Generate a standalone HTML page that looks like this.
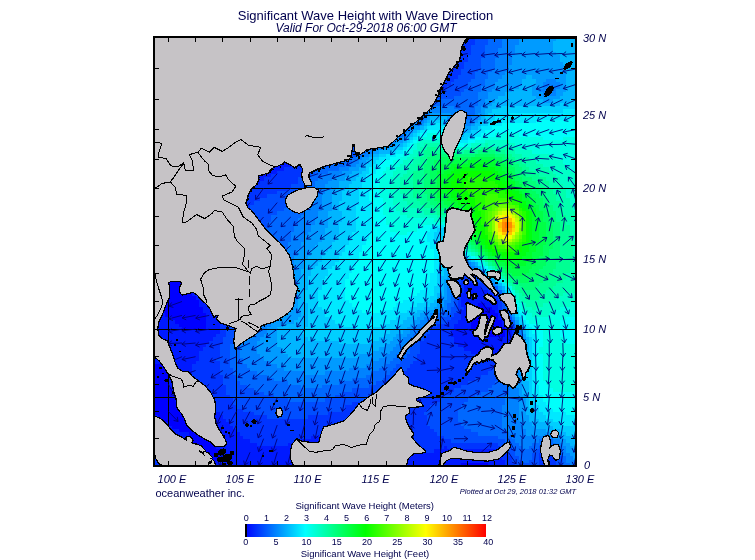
<!DOCTYPE html><html><head><meta charset="utf-8"><title>Significant Wave Height with Wave Direction</title><style>html,body{margin:0;padding:0;background:#fff}svg{display:block}text{font-family:"Liberation Sans",sans-serif;fill:#00004c}</style></head><body>
<svg width="755" height="560" viewBox="0 0 755 560">
<defs><clipPath id="mc"><rect x="155" y="38" width="420" height="427"/></clipPath>
<linearGradient id="cb" x1="0" x2="1" y1="0" y2="0"><stop offset="0" stop-color="#0000ff"/><stop offset="0.25" stop-color="#00ffff"/><stop offset="0.5" stop-color="#00ff00"/><stop offset="0.75" stop-color="#ffff00"/><stop offset="1" stop-color="#ff0000"/></linearGradient></defs>
<rect width="755" height="560" fill="#fff"/>
<g clip-path="url(#mc)">
<g shape-rendering="crispEdges">
<path fill="#0000ff" d="M155.0 38.0H430.4V41.4H155.0ZM155.0 41.4H430.4V44.8H155.0ZM155.0 44.8H430.4V48.2H155.0ZM155.0 48.2H427.0V51.6H155.0ZM155.0 51.6H427.0V55.0H155.0ZM155.0 55.0H423.6V58.4H155.0ZM155.0 58.4H423.6V61.8H155.0ZM155.0 61.8H420.2V65.2H155.0ZM155.0 65.2H420.2V68.6H155.0ZM155.0 68.6H416.8V72.0H155.0ZM155.0 72.0H413.4V75.4H155.0ZM155.0 75.4H413.4V78.8H155.0ZM155.0 78.8H410.0V82.2H155.0ZM155.0 82.2H406.6V85.6H155.0ZM155.0 85.6H403.2V89.0H155.0ZM155.0 89.0H399.8V92.4H155.0ZM155.0 92.4H399.8V95.8H155.0ZM155.0 95.8H396.4V99.2H155.0ZM155.0 99.2H393.0V102.6H155.0ZM155.0 102.6H389.6V106.0H155.0ZM155.0 106.0H386.2V109.4H155.0ZM155.0 109.4H382.8V112.8H155.0ZM155.0 112.8H376.0V116.2H155.0ZM155.0 116.2H369.2V119.6H155.0ZM155.0 119.6H362.4V123.0H155.0ZM155.0 123.0H355.6V126.4H155.0ZM155.0 126.4H345.4V129.8H155.0ZM155.0 129.8H335.2V133.2H155.0ZM155.0 133.2H321.6V136.6H155.0ZM155.0 136.6H308.0V140.0H155.0ZM155.0 140.0H297.8V143.4H155.0ZM155.0 143.4H287.6V146.8H155.0ZM155.0 146.8H280.8V150.2H155.0ZM155.0 150.2H270.6V153.6H155.0ZM155.0 153.6H263.8V157.0H155.0ZM155.0 157.0H253.6V160.4H155.0ZM155.0 160.4H246.8V163.8H155.0ZM155.0 163.8H240.0V167.2H155.0ZM155.0 167.2H233.2V170.6H155.0ZM155.0 170.6H226.4V174.0H155.0ZM155.0 174.0H219.6V177.4H155.0ZM155.0 177.4H216.2V180.8H155.0ZM155.0 180.8H212.8V184.2H155.0ZM155.0 184.2H209.4V187.6H155.0ZM155.0 187.6H206.0V191.0H155.0ZM155.0 191.0H202.6V194.4H155.0ZM155.0 194.4H199.2V197.8H155.0ZM155.0 197.8H195.8V201.2H155.0ZM155.0 201.2H195.8V204.6H155.0ZM155.0 204.6H192.4V208.0H155.0ZM155.0 208.0H189.0V211.4H155.0ZM155.0 211.4H189.0V214.8H155.0ZM155.0 214.8H185.6V218.2H155.0ZM155.0 218.2H185.6V221.6H155.0ZM155.0 221.6H185.6V225.0H155.0ZM155.0 225.0H182.2V228.4H155.0ZM155.0 228.4H182.2V231.8H155.0ZM155.0 231.8H182.2V235.2H155.0ZM155.0 235.2H182.2V238.6H155.0ZM155.0 238.6H178.8V242.0H155.0ZM155.0 242.0H178.8V245.4H155.0ZM155.0 245.4H178.8V248.8H155.0ZM155.0 248.8H178.8V252.2H155.0ZM155.0 252.2H178.8V255.6H155.0ZM155.0 255.6H178.8V259.0H155.0ZM155.0 259.0H178.8V262.4H155.0ZM155.0 262.4H182.2V265.8H155.0ZM155.0 265.8H182.2V269.2H155.0ZM155.0 269.2H182.2V272.6H155.0ZM155.0 272.6H182.2V276.0H155.0ZM155.0 276.0H185.6V279.4H155.0ZM155.0 279.4H185.6V282.8H155.0ZM155.0 282.8H189.0V286.2H155.0ZM155.0 286.2H189.0V289.6H155.0ZM155.0 289.6H192.4V293.0H155.0ZM155.0 293.0H192.4V296.4H155.0ZM155.0 296.4H195.8V299.8H155.0ZM155.0 299.8H199.2V303.2H155.0ZM155.0 303.2H199.2V306.6H155.0ZM478.0 303.2H484.8V306.6H478.0ZM155.0 306.6H202.6V310.0H155.0ZM474.6 306.6H491.6V310.0H474.6ZM161.8 310.0H202.6V313.4H161.8ZM474.6 310.0H495.0V313.4H474.6ZM165.2 313.4H206.0V316.8H165.2ZM474.6 313.4H498.4V316.8H474.6ZM172.0 316.8H206.0V320.2H172.0ZM471.2 316.8H498.4V320.2H471.2ZM175.4 320.2H206.0V323.6H175.4ZM471.2 320.2H501.8V323.6H471.2ZM178.8 323.6H206.0V327.0H178.8ZM471.2 323.6H501.8V327.0H471.2ZM182.2 327.0H206.0V330.4H182.2ZM471.2 327.0H505.2V330.4H471.2ZM481.4 330.4H505.2V333.8H481.4ZM484.8 333.8H505.2V337.2H484.8ZM155.0 364.4H168.6V367.8H155.0ZM155.0 367.8H168.6V371.2H155.0ZM155.0 371.2H168.6V374.6H155.0ZM155.0 374.6H168.6V378.0H155.0ZM155.0 378.0H168.6V381.4H155.0ZM155.0 381.4H168.6V384.8H155.0ZM155.0 384.8H168.6V388.2H155.0ZM155.0 388.2H172.0V391.6H155.0ZM155.0 391.6H172.0V395.0H155.0ZM155.0 395.0H172.0V398.4H155.0ZM155.0 398.4H175.4V401.8H155.0ZM155.0 401.8H178.8V405.2H155.0ZM155.0 405.2H178.8V408.6H155.0ZM155.0 408.6H182.2V412.0H155.0ZM155.0 412.0H182.2V415.4H155.0ZM158.4 415.4H185.6V418.8H158.4ZM161.8 418.8H189.0V422.2H161.8ZM168.6 422.2H189.0V425.6H168.6ZM172.0 425.6H192.4V429.0H172.0ZM178.8 429.0H192.4V432.4H178.8ZM189.0 432.4H202.6V435.8H189.0ZM192.4 435.8H209.4V439.2H192.4ZM192.4 439.2H212.8V442.6H192.4ZM195.8 442.6H216.2V446.0H195.8ZM195.8 446.0H216.2V449.4H195.8ZM199.2 449.4H219.6V452.8H199.2ZM199.2 452.8H219.6V456.2H199.2ZM202.6 456.2H219.6V459.6H202.6ZM206.0 459.6H216.2V463.0H206.0ZM209.4 463.0H216.2V465.0H209.4ZM461.0 463.0H488.2V465.0H461.0Z"/>
<path fill="#001aff" d="M430.4 38.0H454.2V41.4H430.4ZM430.4 41.4H454.2V44.8H430.4ZM430.4 44.8H454.2V48.2H430.4ZM427.0 48.2H450.8V51.6H427.0ZM427.0 51.6H450.8V55.0H427.0ZM423.6 55.0H450.8V58.4H423.6ZM423.6 58.4H447.4V61.8H423.6ZM420.2 61.8H447.4V65.2H420.2ZM420.2 65.2H444.0V68.6H420.2ZM416.8 68.6H440.6V72.0H416.8ZM413.4 72.0H440.6V75.4H413.4ZM413.4 75.4H437.2V78.8H413.4ZM410.0 78.8H433.8V82.2H410.0ZM406.6 82.2H427.0V85.6H406.6ZM403.2 85.6H423.6V89.0H403.2ZM399.8 89.0H420.2V92.4H399.8ZM399.8 92.4H416.8V95.8H399.8ZM396.4 95.8H413.4V99.2H396.4ZM393.0 99.2H410.0V102.6H393.0ZM389.6 102.6H406.6V106.0H389.6ZM386.2 106.0H403.2V109.4H386.2ZM382.8 109.4H399.8V112.8H382.8ZM376.0 112.8H396.4V116.2H376.0ZM369.2 116.2H393.0V119.6H369.2ZM362.4 119.6H389.6V123.0H362.4ZM355.6 123.0H382.8V126.4H355.6ZM345.4 126.4H376.0V129.8H345.4ZM335.2 129.8H369.2V133.2H335.2ZM321.6 133.2H362.4V136.6H321.6ZM308.0 136.6H355.6V140.0H308.0ZM297.8 140.0H345.4V143.4H297.8ZM287.6 143.4H338.6V146.8H287.6ZM280.8 146.8H325.0V150.2H280.8ZM270.6 150.2H314.8V153.6H270.6ZM263.8 153.6H304.6V157.0H263.8ZM253.6 157.0H301.2V160.4H253.6ZM246.8 160.4H297.8V163.8H246.8ZM240.0 163.8H291.0V167.2H240.0ZM233.2 167.2H284.2V170.6H233.2ZM226.4 170.6H277.4V174.0H226.4ZM219.6 174.0H270.6V177.4H219.6ZM216.2 177.4H263.8V180.8H216.2ZM212.8 180.8H260.4V184.2H212.8ZM209.4 184.2H250.2V187.6H209.4ZM206.0 187.6H243.4V191.0H206.0ZM202.6 191.0H240.0V194.4H202.6ZM199.2 194.4H233.2V197.8H199.2ZM195.8 197.8H229.8V201.2H195.8ZM195.8 201.2H229.8V204.6H195.8ZM192.4 204.6H226.4V208.0H192.4ZM189.0 208.0H223.0V211.4H189.0ZM189.0 211.4H223.0V214.8H189.0ZM185.6 214.8H219.6V218.2H185.6ZM185.6 218.2H219.6V221.6H185.6ZM185.6 221.6H219.6V225.0H185.6ZM182.2 225.0H216.2V228.4H182.2ZM182.2 228.4H216.2V231.8H182.2ZM182.2 231.8H216.2V235.2H182.2ZM182.2 235.2H216.2V238.6H182.2ZM178.8 238.6H216.2V242.0H178.8ZM178.8 242.0H216.2V245.4H178.8ZM178.8 245.4H212.8V248.8H178.8ZM178.8 248.8H212.8V252.2H178.8ZM178.8 252.2H212.8V255.6H178.8ZM178.8 255.6H216.2V259.0H178.8ZM178.8 259.0H216.2V262.4H178.8ZM182.2 262.4H216.2V265.8H182.2ZM182.2 265.8H216.2V269.2H182.2ZM182.2 269.2H216.2V272.6H182.2ZM182.2 272.6H216.2V276.0H182.2ZM185.6 276.0H216.2V279.4H185.6ZM185.6 279.4H216.2V282.8H185.6ZM189.0 282.8H216.2V286.2H189.0ZM464.4 282.8H478.0V286.2H464.4ZM189.0 286.2H219.6V289.6H189.0ZM464.4 286.2H481.4V289.6H464.4ZM192.4 289.6H219.6V293.0H192.4ZM464.4 289.6H488.2V293.0H464.4ZM192.4 293.0H219.6V296.4H192.4ZM461.0 293.0H491.6V296.4H461.0ZM195.8 296.4H219.6V299.8H195.8ZM461.0 296.4H495.0V299.8H461.0ZM199.2 299.8H219.6V303.2H199.2ZM461.0 299.8H498.4V303.2H461.0ZM199.2 303.2H219.6V306.6H199.2ZM461.0 303.2H478.0V306.6H461.0ZM484.8 303.2H498.4V306.6H484.8ZM202.6 306.6H219.6V310.0H202.6ZM464.4 306.6H474.6V310.0H464.4ZM491.6 306.6H498.4V310.0H491.6ZM155.0 310.0H161.8V313.4H155.0ZM202.6 310.0H219.6V313.4H202.6ZM461.0 310.0H474.6V313.4H461.0ZM495.0 310.0H501.8V313.4H495.0ZM155.0 313.4H165.2V316.8H155.0ZM206.0 313.4H219.6V316.8H206.0ZM461.0 313.4H474.6V316.8H461.0ZM498.4 313.4H501.8V316.8H498.4ZM155.0 316.8H172.0V320.2H155.0ZM206.0 316.8H219.6V320.2H206.0ZM461.0 316.8H471.2V320.2H461.0ZM498.4 316.8H505.2V320.2H498.4ZM155.0 320.2H175.4V323.6H155.0ZM206.0 320.2H219.6V323.6H206.0ZM457.6 320.2H471.2V323.6H457.6ZM501.8 320.2H508.6V323.6H501.8ZM155.0 323.6H178.8V327.0H155.0ZM206.0 323.6H219.6V327.0H206.0ZM454.2 323.6H471.2V327.0H454.2ZM501.8 323.6H508.6V327.0H501.8ZM155.0 327.0H182.2V330.4H155.0ZM206.0 327.0H219.6V330.4H206.0ZM454.2 327.0H471.2V330.4H454.2ZM505.2 327.0H512.0V330.4H505.2ZM155.0 330.4H219.6V333.8H155.0ZM450.8 330.4H481.4V333.8H450.8ZM505.2 330.4H512.0V333.8H505.2ZM155.0 333.8H216.2V337.2H155.0ZM450.8 333.8H484.8V337.2H450.8ZM505.2 333.8H512.0V337.2H505.2ZM155.0 337.2H212.8V340.6H155.0ZM454.2 337.2H512.0V340.6H454.2ZM155.0 340.6H209.4V344.0H155.0ZM454.2 340.6H508.6V344.0H454.2ZM155.0 344.0H206.0V347.4H155.0ZM457.6 344.0H505.2V347.4H457.6ZM155.0 347.4H202.6V350.8H155.0ZM464.4 347.4H501.8V350.8H464.4ZM155.0 350.8H199.2V354.2H155.0ZM471.2 350.8H498.4V354.2H471.2ZM155.0 354.2H199.2V357.6H155.0ZM474.6 354.2H491.6V357.6H474.6ZM155.0 357.6H199.2V361.0H155.0ZM155.0 361.0H195.8V364.4H155.0ZM168.6 364.4H192.4V367.8H168.6ZM168.6 367.8H192.4V371.2H168.6ZM168.6 371.2H192.4V374.6H168.6ZM168.6 374.6H192.4V378.0H168.6ZM168.6 378.0H195.8V381.4H168.6ZM168.6 381.4H195.8V384.8H168.6ZM168.6 384.8H199.2V388.2H168.6ZM172.0 388.2H202.6V391.6H172.0ZM172.0 391.6H202.6V395.0H172.0ZM172.0 395.0H206.0V398.4H172.0ZM175.4 398.4H209.4V401.8H175.4ZM178.8 401.8H212.8V405.2H178.8ZM178.8 405.2H216.2V408.6H178.8ZM182.2 408.6H216.2V412.0H182.2ZM182.2 412.0H219.6V415.4H182.2ZM155.0 415.4H158.4V418.8H155.0ZM185.6 415.4H223.0V418.8H185.6ZM155.0 418.8H161.8V422.2H155.0ZM189.0 418.8H226.4V422.2H189.0ZM155.0 422.2H168.6V425.6H155.0ZM189.0 422.2H229.8V425.6H189.0ZM155.0 425.6H172.0V429.0H155.0ZM192.4 425.6H233.2V429.0H192.4ZM155.0 429.0H178.8V432.4H155.0ZM192.4 429.0H236.6V432.4H192.4ZM155.0 432.4H189.0V435.8H155.0ZM202.6 432.4H240.0V435.8H202.6ZM338.6 432.4H393.0V435.8H338.6ZM155.0 435.8H192.4V439.2H155.0ZM209.4 435.8H243.4V439.2H209.4ZM311.4 435.8H403.2V439.2H311.4ZM155.0 439.2H192.4V442.6H155.0ZM212.8 439.2H250.2V442.6H212.8ZM301.2 439.2H410.0V442.6H301.2ZM155.0 442.6H195.8V446.0H155.0ZM216.2 442.6H257.0V446.0H216.2ZM287.6 442.6H416.8V446.0H287.6ZM155.0 446.0H195.8V449.4H155.0ZM216.2 446.0H420.2V449.4H216.2ZM444.0 446.0H447.4V449.4H444.0ZM155.0 449.4H199.2V452.8H155.0ZM219.6 449.4H423.6V452.8H219.6ZM433.8 449.4H498.4V452.8H433.8ZM161.8 452.8H199.2V456.2H161.8ZM219.6 452.8H501.8V456.2H219.6ZM165.2 456.2H202.6V459.6H165.2ZM219.6 456.2H501.8V459.6H219.6ZM165.2 459.6H206.0V463.0H165.2ZM216.2 459.6H505.2V463.0H216.2ZM168.6 463.0H209.4V465.0H168.6ZM216.2 463.0H461.0V465.0H216.2ZM488.2 463.0H505.2V465.0H488.2Z"/>
<path fill="#0034ff" d="M454.2 38.0H474.6V41.4H454.2ZM454.2 41.4H474.6V44.8H454.2ZM454.2 44.8H471.2V48.2H454.2ZM450.8 48.2H471.2V51.6H450.8ZM450.8 51.6H471.2V55.0H450.8ZM450.8 55.0H467.8V58.4H450.8ZM447.4 58.4H467.8V61.8H447.4ZM447.4 61.8H464.4V65.2H447.4ZM444.0 65.2H464.4V68.6H444.0ZM440.6 68.6H461.0V72.0H440.6ZM440.6 72.0H461.0V75.4H440.6ZM437.2 75.4H457.6V78.8H437.2ZM433.8 78.8H454.2V82.2H433.8ZM427.0 82.2H450.8V85.6H427.0ZM423.6 85.6H447.4V89.0H423.6ZM420.2 89.0H444.0V92.4H420.2ZM416.8 92.4H433.8V95.8H416.8ZM413.4 95.8H427.0V99.2H413.4ZM410.0 99.2H423.6V102.6H410.0ZM406.6 102.6H416.8V106.0H406.6ZM403.2 106.0H416.8V109.4H403.2ZM399.8 109.4H413.4V112.8H399.8ZM396.4 112.8H410.0V116.2H396.4ZM393.0 116.2H406.6V119.6H393.0ZM389.6 119.6H403.2V123.0H389.6ZM382.8 123.0H396.4V126.4H382.8ZM376.0 126.4H393.0V129.8H376.0ZM369.2 129.8H389.6V133.2H369.2ZM362.4 133.2H379.4V136.6H362.4ZM355.6 136.6H372.6V140.0H355.6ZM345.4 140.0H365.8V143.4H345.4ZM338.6 143.4H359.0V146.8H338.6ZM325.0 146.8H352.2V150.2H325.0ZM314.8 150.2H348.8V153.6H314.8ZM304.6 153.6H338.6V157.0H304.6ZM301.2 157.0H325.0V160.4H301.2ZM297.8 160.4H314.8V163.8H297.8ZM291.0 163.8H311.4V167.2H291.0ZM284.2 167.2H308.0V170.6H284.2ZM277.4 170.6H304.6V174.0H277.4ZM270.6 174.0H301.2V177.4H270.6ZM263.8 177.4H297.8V180.8H263.8ZM260.4 180.8H297.8V184.2H260.4ZM250.2 184.2H291.0V187.6H250.2ZM243.4 187.6H287.6V191.0H243.4ZM240.0 191.0H277.4V194.4H240.0ZM233.2 194.4H267.2V197.8H233.2ZM229.8 197.8H260.4V201.2H229.8ZM229.8 201.2H253.6V204.6H229.8ZM226.4 204.6H250.2V208.0H226.4ZM223.0 208.0H246.8V211.4H223.0ZM223.0 211.4H246.8V214.8H223.0ZM219.6 214.8H243.4V218.2H219.6ZM219.6 218.2H243.4V221.6H219.6ZM219.6 221.6H243.4V225.0H219.6ZM216.2 225.0H243.4V228.4H216.2ZM216.2 228.4H240.0V231.8H216.2ZM216.2 231.8H240.0V235.2H216.2ZM216.2 235.2H240.0V238.6H216.2ZM216.2 238.6H240.0V242.0H216.2ZM216.2 242.0H240.0V245.4H216.2ZM212.8 245.4H240.0V248.8H212.8ZM212.8 248.8H240.0V252.2H212.8ZM212.8 252.2H236.6V255.6H212.8ZM216.2 255.6H236.6V259.0H216.2ZM216.2 259.0H236.6V262.4H216.2ZM216.2 262.4H236.6V265.8H216.2ZM216.2 265.8H236.6V269.2H216.2ZM216.2 269.2H236.6V272.6H216.2ZM216.2 272.6H236.6V276.0H216.2ZM216.2 276.0H236.6V279.4H216.2ZM461.0 276.0H474.6V279.4H461.0ZM216.2 279.4H236.6V282.8H216.2ZM461.0 279.4H478.0V282.8H461.0ZM216.2 282.8H236.6V286.2H216.2ZM457.6 282.8H464.4V286.2H457.6ZM478.0 282.8H484.8V286.2H478.0ZM219.6 286.2H236.6V289.6H219.6ZM457.6 286.2H464.4V289.6H457.6ZM481.4 286.2H488.2V289.6H481.4ZM219.6 289.6H236.6V293.0H219.6ZM457.6 289.6H464.4V293.0H457.6ZM488.2 289.6H495.0V293.0H488.2ZM219.6 293.0H236.6V296.4H219.6ZM457.6 293.0H461.0V296.4H457.6ZM491.6 293.0H498.4V296.4H491.6ZM219.6 296.4H236.6V299.8H219.6ZM457.6 296.4H461.0V299.8H457.6ZM495.0 296.4H498.4V299.8H495.0ZM219.6 299.8H236.6V303.2H219.6ZM457.6 299.8H461.0V303.2H457.6ZM498.4 299.8H501.8V303.2H498.4ZM219.6 303.2H233.2V306.6H219.6ZM457.6 303.2H461.0V306.6H457.6ZM498.4 303.2H501.8V306.6H498.4ZM219.6 306.6H233.2V310.0H219.6ZM457.6 306.6H464.4V310.0H457.6ZM498.4 306.6H501.8V310.0H498.4ZM219.6 310.0H233.2V313.4H219.6ZM457.6 310.0H461.0V313.4H457.6ZM501.8 310.0H505.2V313.4H501.8ZM219.6 313.4H233.2V316.8H219.6ZM454.2 313.4H461.0V316.8H454.2ZM501.8 313.4H505.2V316.8H501.8ZM219.6 316.8H233.2V320.2H219.6ZM450.8 316.8H461.0V320.2H450.8ZM505.2 316.8H508.6V320.2H505.2ZM219.6 320.2H229.8V323.6H219.6ZM447.4 320.2H457.6V323.6H447.4ZM508.6 320.2H512.0V323.6H508.6ZM219.6 323.6H229.8V327.0H219.6ZM437.2 323.6H454.2V327.0H437.2ZM508.6 323.6H512.0V327.0H508.6ZM219.6 327.0H229.8V330.4H219.6ZM430.4 327.0H454.2V330.4H430.4ZM512.0 327.0H515.4V330.4H512.0ZM219.6 330.4H226.4V333.8H219.6ZM430.4 330.4H450.8V333.8H430.4ZM512.0 330.4H515.4V333.8H512.0ZM216.2 333.8H226.4V337.2H216.2ZM427.0 333.8H450.8V337.2H427.0ZM512.0 333.8H515.4V337.2H512.0ZM212.8 337.2H223.0V340.6H212.8ZM423.6 337.2H454.2V340.6H423.6ZM512.0 337.2H515.4V340.6H512.0ZM209.4 340.6H223.0V344.0H209.4ZM420.2 340.6H454.2V344.0H420.2ZM508.6 340.6H515.4V344.0H508.6ZM206.0 344.0H219.6V347.4H206.0ZM420.2 344.0H457.6V347.4H420.2ZM505.2 344.0H512.0V347.4H505.2ZM202.6 347.4H219.6V350.8H202.6ZM420.2 347.4H464.4V350.8H420.2ZM501.8 347.4H512.0V350.8H501.8ZM199.2 350.8H219.6V354.2H199.2ZM420.2 350.8H471.2V354.2H420.2ZM498.4 350.8H508.6V354.2H498.4ZM199.2 354.2H219.6V357.6H199.2ZM416.8 354.2H474.6V357.6H416.8ZM491.6 354.2H505.2V357.6H491.6ZM199.2 357.6H216.2V361.0H199.2ZM416.8 357.6H501.8V361.0H416.8ZM195.8 361.0H219.6V364.4H195.8ZM413.4 361.0H498.4V364.4H413.4ZM192.4 364.4H219.6V367.8H192.4ZM410.0 364.4H495.0V367.8H410.0ZM192.4 367.8H219.6V371.2H192.4ZM406.6 367.8H491.6V371.2H406.6ZM192.4 371.2H219.6V374.6H192.4ZM403.2 371.2H488.2V374.6H403.2ZM192.4 374.6H223.0V378.0H192.4ZM403.2 374.6H481.4V378.0H403.2ZM195.8 378.0H223.0V381.4H195.8ZM399.8 378.0H474.6V381.4H399.8ZM195.8 381.4H223.0V384.8H195.8ZM396.4 381.4H467.8V384.8H396.4ZM199.2 384.8H226.4V388.2H199.2ZM396.4 384.8H461.0V388.2H396.4ZM202.6 388.2H226.4V391.6H202.6ZM393.0 388.2H454.2V391.6H393.0ZM202.6 391.6H226.4V395.0H202.6ZM389.6 391.6H450.8V395.0H389.6ZM206.0 395.0H229.8V398.4H206.0ZM382.8 395.0H444.0V398.4H382.8ZM209.4 398.4H233.2V401.8H209.4ZM376.0 398.4H440.6V401.8H376.0ZM212.8 401.8H233.2V405.2H212.8ZM352.2 401.8H433.8V405.2H352.2ZM216.2 405.2H236.6V408.6H216.2ZM345.4 405.2H430.4V408.6H345.4ZM216.2 408.6H243.4V412.0H216.2ZM342.0 408.6H427.0V412.0H342.0ZM219.6 412.0H253.6V415.4H219.6ZM328.4 412.0H423.6V415.4H328.4ZM223.0 415.4H267.2V418.8H223.0ZM308.0 415.4H427.0V418.8H308.0ZM226.4 418.8H427.0V422.2H226.4ZM229.8 422.2H427.0V425.6H229.8ZM233.2 425.6H430.4V429.0H233.2ZM236.6 429.0H433.8V432.4H236.6ZM240.0 432.4H338.6V435.8H240.0ZM393.0 432.4H437.2V435.8H393.0ZM243.4 435.8H311.4V439.2H243.4ZM403.2 435.8H444.0V439.2H403.2ZM250.2 439.2H301.2V442.6H250.2ZM410.0 439.2H450.8V442.6H410.0ZM257.0 442.6H287.6V446.0H257.0ZM416.8 442.6H498.4V446.0H416.8ZM420.2 446.0H444.0V449.4H420.2ZM447.4 446.0H505.2V449.4H447.4ZM423.6 449.4H433.8V452.8H423.6ZM498.4 449.4H505.2V452.8H498.4ZM542.6 449.4H552.8V452.8H542.6ZM155.0 452.8H161.8V456.2H155.0ZM501.8 452.8H508.6V456.2H501.8ZM539.2 452.8H556.2V456.2H539.2ZM155.0 456.2H165.2V459.6H155.0ZM501.8 456.2H512.0V459.6H501.8ZM539.2 456.2H556.2V459.6H539.2ZM155.0 459.6H165.2V463.0H155.0ZM505.2 459.6H512.0V463.0H505.2ZM539.2 459.6H556.2V463.0H539.2ZM155.0 463.0H168.6V465.0H155.0ZM505.2 463.0H515.4V465.0H505.2ZM539.2 463.0H556.2V465.0H539.2Z"/>
<path fill="#004eff" d="M474.6 38.0H488.2V41.4H474.6ZM474.6 41.4H488.2V44.8H474.6ZM471.2 44.8H484.8V48.2H471.2ZM471.2 48.2H484.8V51.6H471.2ZM471.2 51.6H484.8V55.0H471.2ZM467.8 55.0H484.8V58.4H467.8ZM467.8 58.4H481.4V61.8H467.8ZM464.4 61.8H481.4V65.2H464.4ZM464.4 65.2H481.4V68.6H464.4ZM461.0 68.6H478.0V72.0H461.0ZM461.0 72.0H474.6V75.4H461.0ZM457.6 75.4H474.6V78.8H457.6ZM454.2 78.8H471.2V82.2H454.2ZM450.8 82.2H467.8V85.6H450.8ZM447.4 85.6H467.8V89.0H447.4ZM444.0 89.0H464.4V92.4H444.0ZM433.8 92.4H461.0V95.8H433.8ZM427.0 95.8H454.2V99.2H427.0ZM423.6 99.2H437.2V102.6H423.6ZM416.8 102.6H430.4V106.0H416.8ZM416.8 106.0H423.6V109.4H416.8ZM413.4 109.4H420.2V112.8H413.4ZM410.0 112.8H416.8V116.2H410.0ZM406.6 116.2H413.4V119.6H406.6ZM403.2 119.6H410.0V123.0H403.2ZM396.4 123.0H406.6V126.4H396.4ZM393.0 126.4H403.2V129.8H393.0ZM389.6 129.8H399.8V133.2H389.6ZM379.4 133.2H393.0V136.6H379.4ZM372.6 136.6H389.6V140.0H372.6ZM365.8 140.0H379.4V143.4H365.8ZM359.0 143.4H372.6V146.8H359.0ZM352.2 146.8H365.8V150.2H352.2ZM348.8 150.2H359.0V153.6H348.8ZM338.6 153.6H355.6V157.0H338.6ZM325.0 157.0H348.8V160.4H325.0ZM314.8 160.4H342.0V163.8H314.8ZM311.4 163.8H328.4V167.2H311.4ZM308.0 167.2H318.2V170.6H308.0ZM304.6 170.6H314.8V174.0H304.6ZM301.2 174.0H311.4V177.4H301.2ZM297.8 177.4H308.0V180.8H297.8ZM297.8 180.8H308.0V184.2H297.8ZM291.0 184.2H304.6V187.6H291.0ZM287.6 187.6H304.6V191.0H287.6ZM277.4 191.0H301.2V194.4H277.4ZM267.2 194.4H297.8V197.8H267.2ZM260.4 197.8H297.8V201.2H260.4ZM253.6 201.2H294.4V204.6H253.6ZM250.2 204.6H287.6V208.0H250.2ZM246.8 208.0H284.2V211.4H246.8ZM246.8 211.4H277.4V214.8H246.8ZM243.4 214.8H270.6V218.2H243.4ZM243.4 218.2H270.6V221.6H243.4ZM243.4 221.6H267.2V225.0H243.4ZM243.4 225.0H267.2V228.4H243.4ZM240.0 228.4H263.8V231.8H240.0ZM240.0 231.8H263.8V235.2H240.0ZM240.0 235.2H263.8V238.6H240.0ZM240.0 238.6H263.8V242.0H240.0ZM240.0 242.0H263.8V245.4H240.0ZM240.0 245.4H260.4V248.8H240.0ZM240.0 248.8H260.4V252.2H240.0ZM236.6 252.2H260.4V255.6H236.6ZM236.6 255.6H260.4V259.0H236.6ZM236.6 259.0H260.4V262.4H236.6ZM236.6 262.4H257.0V265.8H236.6ZM236.6 265.8H257.0V269.2H236.6ZM236.6 269.2H257.0V272.6H236.6ZM461.0 269.2H471.2V272.6H461.0ZM236.6 272.6H257.0V276.0H236.6ZM457.6 272.6H474.6V276.0H457.6ZM236.6 276.0H257.0V279.4H236.6ZM457.6 276.0H461.0V279.4H457.6ZM474.6 276.0H481.4V279.4H474.6ZM236.6 279.4H253.6V282.8H236.6ZM454.2 279.4H461.0V282.8H454.2ZM478.0 279.4H484.8V282.8H478.0ZM236.6 282.8H253.6V286.2H236.6ZM454.2 282.8H457.6V286.2H454.2ZM484.8 282.8H488.2V286.2H484.8ZM236.6 286.2H253.6V289.6H236.6ZM454.2 286.2H457.6V289.6H454.2ZM488.2 286.2H495.0V289.6H488.2ZM236.6 289.6H253.6V293.0H236.6ZM454.2 289.6H457.6V293.0H454.2ZM495.0 289.6H498.4V293.0H495.0ZM236.6 293.0H250.2V296.4H236.6ZM454.2 293.0H457.6V296.4H454.2ZM498.4 293.0H501.8V296.4H498.4ZM236.6 296.4H250.2V299.8H236.6ZM454.2 296.4H457.6V299.8H454.2ZM498.4 296.4H501.8V299.8H498.4ZM236.6 299.8H250.2V303.2H236.6ZM454.2 299.8H457.6V303.2H454.2ZM233.2 303.2H250.2V306.6H233.2ZM454.2 303.2H457.6V306.6H454.2ZM501.8 303.2H505.2V306.6H501.8ZM233.2 306.6H246.8V310.0H233.2ZM450.8 306.6H457.6V310.0H450.8ZM501.8 306.6H505.2V310.0H501.8ZM233.2 310.0H246.8V313.4H233.2ZM450.8 310.0H457.6V313.4H450.8ZM505.2 310.0H508.6V313.4H505.2ZM233.2 313.4H246.8V316.8H233.2ZM447.4 313.4H454.2V316.8H447.4ZM505.2 313.4H508.6V316.8H505.2ZM233.2 316.8H243.4V320.2H233.2ZM440.6 316.8H450.8V320.2H440.6ZM508.6 316.8H512.0V320.2H508.6ZM229.8 320.2H243.4V323.6H229.8ZM433.8 320.2H447.4V323.6H433.8ZM229.8 323.6H240.0V327.0H229.8ZM427.0 323.6H437.2V327.0H427.0ZM512.0 323.6H515.4V327.0H512.0ZM229.8 327.0H240.0V330.4H229.8ZM423.6 327.0H430.4V330.4H423.6ZM226.4 330.4H236.6V333.8H226.4ZM420.2 330.4H430.4V333.8H420.2ZM226.4 333.8H236.6V337.2H226.4ZM416.8 333.8H427.0V337.2H416.8ZM515.4 333.8H518.8V337.2H515.4ZM223.0 337.2H233.2V340.6H223.0ZM416.8 337.2H423.6V340.6H416.8ZM515.4 337.2H518.8V340.6H515.4ZM223.0 340.6H233.2V344.0H223.0ZM413.4 340.6H420.2V344.0H413.4ZM515.4 340.6H518.8V344.0H515.4ZM219.6 344.0H229.8V347.4H219.6ZM413.4 344.0H420.2V347.4H413.4ZM512.0 344.0H515.4V347.4H512.0ZM219.6 347.4H229.8V350.8H219.6ZM410.0 347.4H420.2V350.8H410.0ZM512.0 347.4H515.4V350.8H512.0ZM219.6 350.8H229.8V354.2H219.6ZM410.0 350.8H420.2V354.2H410.0ZM508.6 350.8H512.0V354.2H508.6ZM219.6 354.2H229.8V357.6H219.6ZM406.6 354.2H416.8V357.6H406.6ZM505.2 354.2H512.0V357.6H505.2ZM216.2 357.6H229.8V361.0H216.2ZM403.2 357.6H416.8V361.0H403.2ZM501.8 357.6H508.6V361.0H501.8ZM219.6 361.0H229.8V364.4H219.6ZM399.8 361.0H413.4V364.4H399.8ZM498.4 361.0H508.6V364.4H498.4ZM219.6 364.4H229.8V367.8H219.6ZM396.4 364.4H410.0V367.8H396.4ZM495.0 364.4H505.2V367.8H495.0ZM219.6 367.8H233.2V371.2H219.6ZM393.0 367.8H406.6V371.2H393.0ZM491.6 367.8H505.2V371.2H491.6ZM219.6 371.2H233.2V374.6H219.6ZM389.6 371.2H403.2V374.6H389.6ZM488.2 371.2H501.8V374.6H488.2ZM223.0 374.6H236.6V378.0H223.0ZM386.2 374.6H403.2V378.0H386.2ZM481.4 374.6H501.8V378.0H481.4ZM223.0 378.0H236.6V381.4H223.0ZM382.8 378.0H399.8V381.4H382.8ZM474.6 378.0H498.4V381.4H474.6ZM223.0 381.4H240.0V384.8H223.0ZM376.0 381.4H396.4V384.8H376.0ZM467.8 381.4H495.0V384.8H467.8ZM226.4 384.8H246.8V388.2H226.4ZM369.2 384.8H396.4V388.2H369.2ZM461.0 384.8H491.6V388.2H461.0ZM226.4 388.2H253.6V391.6H226.4ZM352.2 388.2H393.0V391.6H352.2ZM454.2 388.2H488.2V391.6H454.2ZM226.4 391.6H263.8V395.0H226.4ZM342.0 391.6H389.6V395.0H342.0ZM450.8 391.6H481.4V395.0H450.8ZM229.8 395.0H274.0V398.4H229.8ZM335.2 395.0H382.8V398.4H335.2ZM444.0 395.0H474.6V398.4H444.0ZM233.2 398.4H287.6V401.8H233.2ZM325.0 398.4H376.0V401.8H325.0ZM440.6 398.4H467.8V401.8H440.6ZM233.2 401.8H352.2V405.2H233.2ZM433.8 401.8H464.4V405.2H433.8ZM236.6 405.2H345.4V408.6H236.6ZM430.4 405.2H461.0V408.6H430.4ZM243.4 408.6H342.0V412.0H243.4ZM427.0 408.6H457.6V412.0H427.0ZM253.6 412.0H328.4V415.4H253.6ZM423.6 412.0H457.6V415.4H423.6ZM267.2 415.4H308.0V418.8H267.2ZM427.0 415.4H457.6V418.8H427.0ZM427.0 418.8H457.6V422.2H427.0ZM427.0 422.2H461.0V425.6H427.0ZM430.4 425.6H464.4V429.0H430.4ZM433.8 429.0H471.2V432.4H433.8ZM437.2 432.4H478.0V435.8H437.2ZM444.0 435.8H498.4V439.2H444.0ZM450.8 439.2H505.2V442.6H450.8ZM498.4 442.6H508.6V446.0H498.4ZM542.6 442.6H549.4V446.0H542.6ZM505.2 446.0H512.0V449.4H505.2ZM539.2 446.0H556.2V449.4H539.2ZM505.2 449.4H515.4V452.8H505.2ZM535.8 449.4H542.6V452.8H535.8ZM552.8 449.4H556.2V452.8H552.8ZM508.6 452.8H515.4V456.2H508.6ZM532.4 452.8H539.2V456.2H532.4ZM556.2 452.8H559.6V456.2H556.2ZM512.0 456.2H518.8V459.6H512.0ZM532.4 456.2H539.2V459.6H532.4ZM556.2 456.2H563.0V459.6H556.2ZM512.0 459.6H522.2V463.0H512.0ZM529.0 459.6H539.2V463.0H529.0ZM556.2 459.6H563.0V463.0H556.2ZM515.4 463.0H539.2V465.0H515.4ZM556.2 463.0H563.0V465.0H556.2Z"/>
<path fill="#0068ff" d="M488.2 38.0H501.8V41.4H488.2ZM488.2 41.4H501.8V44.8H488.2ZM484.8 44.8H501.8V48.2H484.8ZM484.8 48.2H498.4V51.6H484.8ZM484.8 51.6H498.4V55.0H484.8ZM484.8 55.0H498.4V58.4H484.8ZM481.4 58.4H495.0V61.8H481.4ZM481.4 61.8H495.0V65.2H481.4ZM481.4 65.2H495.0V68.6H481.4ZM478.0 68.6H491.6V72.0H478.0ZM474.6 72.0H488.2V75.4H474.6ZM474.6 75.4H488.2V78.8H474.6ZM471.2 78.8H484.8V82.2H471.2ZM467.8 82.2H484.8V85.6H467.8ZM467.8 85.6H481.4V89.0H467.8ZM464.4 89.0H481.4V92.4H464.4ZM461.0 92.4H478.0V95.8H461.0ZM454.2 95.8H478.0V99.2H454.2ZM437.2 99.2H478.0V102.6H437.2ZM430.4 102.6H478.0V106.0H430.4ZM423.6 106.0H433.8V109.4H423.6ZM454.2 106.0H474.6V109.4H454.2ZM420.2 109.4H427.0V112.8H420.2ZM457.6 109.4H474.6V112.8H457.6ZM416.8 112.8H423.6V116.2H416.8ZM461.0 112.8H474.6V116.2H461.0ZM413.4 116.2H420.2V119.6H413.4ZM461.0 116.2H471.2V119.6H461.0ZM410.0 119.6H416.8V123.0H410.0ZM406.6 123.0H413.4V126.4H406.6ZM403.2 126.4H410.0V129.8H403.2ZM399.8 129.8H406.6V133.2H399.8ZM393.0 133.2H403.2V136.6H393.0ZM389.6 136.6H396.4V140.0H389.6ZM379.4 140.0H389.6V143.4H379.4ZM372.6 143.4H382.8V146.8H372.6ZM365.8 146.8H372.6V150.2H365.8ZM359.0 150.2H365.8V153.6H359.0ZM355.6 153.6H362.4V157.0H355.6ZM348.8 157.0H355.6V160.4H348.8ZM342.0 160.4H352.2V163.8H342.0ZM328.4 163.8H345.4V167.2H328.4ZM318.2 167.2H338.6V170.6H318.2ZM314.8 170.6H328.4V174.0H314.8ZM311.4 174.0H321.6V177.4H311.4ZM308.0 177.4H318.2V180.8H308.0ZM308.0 180.8H314.8V184.2H308.0ZM304.6 184.2H314.8V187.6H304.6ZM304.6 187.6H314.8V191.0H304.6ZM301.2 191.0H311.4V194.4H301.2ZM297.8 194.4H311.4V197.8H297.8ZM297.8 197.8H311.4V201.2H297.8ZM294.4 201.2H311.4V204.6H294.4ZM287.6 204.6H308.0V208.0H287.6ZM284.2 208.0H304.6V211.4H284.2ZM277.4 211.4H304.6V214.8H277.4ZM270.6 214.8H301.2V218.2H270.6ZM270.6 218.2H297.8V221.6H270.6ZM267.2 221.6H297.8V225.0H267.2ZM267.2 225.0H294.4V228.4H267.2ZM263.8 228.4H294.4V231.8H263.8ZM263.8 231.8H291.0V235.2H263.8ZM263.8 235.2H291.0V238.6H263.8ZM263.8 238.6H291.0V242.0H263.8ZM263.8 242.0H287.6V245.4H263.8ZM260.4 245.4H287.6V248.8H260.4ZM260.4 248.8H284.2V252.2H260.4ZM260.4 252.2H280.8V255.6H260.4ZM260.4 255.6H280.8V259.0H260.4ZM260.4 259.0H280.8V262.4H260.4ZM257.0 262.4H277.4V265.8H257.0ZM257.0 265.8H277.4V269.2H257.0ZM461.0 265.8H471.2V269.2H461.0ZM257.0 269.2H274.0V272.6H257.0ZM457.6 269.2H461.0V272.6H457.6ZM471.2 269.2H474.6V272.6H471.2ZM257.0 272.6H274.0V276.0H257.0ZM454.2 272.6H457.6V276.0H454.2ZM474.6 272.6H481.4V276.0H474.6ZM257.0 276.0H274.0V279.4H257.0ZM454.2 276.0H457.6V279.4H454.2ZM481.4 276.0H484.8V279.4H481.4ZM253.6 279.4H270.6V282.8H253.6ZM450.8 279.4H454.2V282.8H450.8ZM484.8 279.4H488.2V282.8H484.8ZM253.6 282.8H270.6V286.2H253.6ZM450.8 282.8H454.2V286.2H450.8ZM488.2 282.8H491.6V286.2H488.2ZM253.6 286.2H270.6V289.6H253.6ZM450.8 286.2H454.2V289.6H450.8ZM495.0 286.2H498.4V289.6H495.0ZM253.6 289.6H270.6V293.0H253.6ZM450.8 289.6H454.2V293.0H450.8ZM498.4 289.6H501.8V293.0H498.4ZM250.2 293.0H267.2V296.4H250.2ZM450.8 293.0H454.2V296.4H450.8ZM250.2 296.4H267.2V299.8H250.2ZM450.8 296.4H454.2V299.8H450.8ZM501.8 296.4H505.2V299.8H501.8ZM250.2 299.8H267.2V303.2H250.2ZM450.8 299.8H454.2V303.2H450.8ZM501.8 299.8H505.2V303.2H501.8ZM250.2 303.2H263.8V306.6H250.2ZM447.4 303.2H454.2V306.6H447.4ZM246.8 306.6H263.8V310.0H246.8ZM447.4 306.6H450.8V310.0H447.4ZM505.2 306.6H508.6V310.0H505.2ZM246.8 310.0H263.8V313.4H246.8ZM444.0 310.0H450.8V313.4H444.0ZM246.8 313.4H260.4V316.8H246.8ZM437.2 313.4H447.4V316.8H437.2ZM508.6 313.4H512.0V316.8H508.6ZM243.4 316.8H260.4V320.2H243.4ZM430.4 316.8H440.6V320.2H430.4ZM243.4 320.2H260.4V323.6H243.4ZM427.0 320.2H433.8V323.6H427.0ZM512.0 320.2H515.4V323.6H512.0ZM240.0 323.6H257.0V327.0H240.0ZM423.6 323.6H427.0V327.0H423.6ZM240.0 327.0H253.6V330.4H240.0ZM420.2 327.0H423.6V330.4H420.2ZM515.4 327.0H518.8V330.4H515.4ZM236.6 330.4H250.2V333.8H236.6ZM416.8 330.4H420.2V333.8H416.8ZM515.4 330.4H518.8V333.8H515.4ZM236.6 333.8H246.8V337.2H236.6ZM413.4 333.8H416.8V337.2H413.4ZM233.2 337.2H243.4V340.6H233.2ZM410.0 337.2H416.8V340.6H410.0ZM233.2 340.6H243.4V344.0H233.2ZM406.6 340.6H413.4V344.0H406.6ZM229.8 344.0H240.0V347.4H229.8ZM406.6 344.0H413.4V347.4H406.6ZM515.4 344.0H518.8V347.4H515.4ZM229.8 347.4H240.0V350.8H229.8ZM403.2 347.4H410.0V350.8H403.2ZM515.4 347.4H518.8V350.8H515.4ZM229.8 350.8H240.0V354.2H229.8ZM399.8 350.8H410.0V354.2H399.8ZM512.0 350.8H518.8V354.2H512.0ZM229.8 354.2H240.0V357.6H229.8ZM396.4 354.2H406.6V357.6H396.4ZM512.0 354.2H515.4V357.6H512.0ZM229.8 357.6H243.4V361.0H229.8ZM393.0 357.6H403.2V361.0H393.0ZM508.6 357.6H515.4V361.0H508.6ZM229.8 361.0H243.4V364.4H229.8ZM389.6 361.0H399.8V364.4H389.6ZM508.6 361.0H515.4V364.4H508.6ZM229.8 364.4H246.8V367.8H229.8ZM386.2 364.4H396.4V367.8H386.2ZM505.2 364.4H512.0V367.8H505.2ZM233.2 367.8H250.2V371.2H233.2ZM379.4 367.8H393.0V371.2H379.4ZM505.2 367.8H512.0V371.2H505.2ZM233.2 371.2H257.0V374.6H233.2ZM372.6 371.2H389.6V374.6H372.6ZM501.8 371.2H512.0V374.6H501.8ZM236.6 374.6H267.2V378.0H236.6ZM365.8 374.6H386.2V378.0H365.8ZM501.8 374.6H508.6V378.0H501.8ZM236.6 378.0H274.0V381.4H236.6ZM352.2 378.0H382.8V381.4H352.2ZM498.4 378.0H508.6V381.4H498.4ZM240.0 381.4H287.6V384.8H240.0ZM338.6 381.4H376.0V384.8H338.6ZM495.0 381.4H508.6V384.8H495.0ZM246.8 384.8H301.2V388.2H246.8ZM321.6 384.8H369.2V388.2H321.6ZM491.6 384.8H508.6V388.2H491.6ZM253.6 388.2H352.2V391.6H253.6ZM488.2 388.2H508.6V391.6H488.2ZM263.8 391.6H342.0V395.0H263.8ZM481.4 391.6H508.6V395.0H481.4ZM274.0 395.0H335.2V398.4H274.0ZM474.6 395.0H505.2V398.4H474.6ZM287.6 398.4H325.0V401.8H287.6ZM467.8 398.4H505.2V401.8H467.8ZM464.4 401.8H505.2V405.2H464.4ZM461.0 405.2H501.8V408.6H461.0ZM457.6 408.6H501.8V412.0H457.6ZM457.6 412.0H501.8V415.4H457.6ZM457.6 415.4H501.8V418.8H457.6ZM457.6 418.8H501.8V422.2H457.6ZM461.0 422.2H501.8V425.6H461.0ZM464.4 425.6H501.8V429.0H464.4ZM471.2 429.0H505.2V432.4H471.2ZM478.0 432.4H508.6V435.8H478.0ZM498.4 435.8H512.0V439.2H498.4ZM505.2 439.2H515.4V442.6H505.2ZM539.2 439.2H552.8V442.6H539.2ZM508.6 442.6H518.8V446.0H508.6ZM532.4 442.6H542.6V446.0H532.4ZM549.4 442.6H556.2V446.0H549.4ZM512.0 446.0H522.2V449.4H512.0ZM529.0 446.0H539.2V449.4H529.0ZM556.2 446.0H559.6V449.4H556.2ZM515.4 449.4H535.8V452.8H515.4ZM556.2 449.4H563.0V452.8H556.2ZM515.4 452.8H532.4V456.2H515.4ZM559.6 452.8H563.0V456.2H559.6ZM518.8 456.2H532.4V459.6H518.8ZM563.0 456.2H566.4V459.6H563.0ZM522.2 459.6H529.0V463.0H522.2ZM563.0 459.6H566.4V463.0H563.0ZM563.0 463.0H569.8V465.0H563.0Z"/>
<path fill="#0082ff" d="M501.8 38.0H518.8V41.4H501.8ZM501.8 41.4H518.8V44.8H501.8ZM501.8 44.8H515.4V48.2H501.8ZM498.4 48.2H515.4V51.6H498.4ZM498.4 51.6H515.4V55.0H498.4ZM498.4 55.0H512.0V58.4H498.4ZM495.0 58.4H512.0V61.8H495.0ZM495.0 61.8H512.0V65.2H495.0ZM495.0 65.2H508.6V68.6H495.0ZM491.6 68.6H508.6V72.0H491.6ZM488.2 72.0H505.2V75.4H488.2ZM488.2 75.4H501.8V78.8H488.2ZM484.8 78.8H498.4V82.2H484.8ZM546.0 78.8H556.2V82.2H546.0ZM484.8 82.2H495.0V85.6H484.8ZM542.6 82.2H559.6V85.6H542.6ZM481.4 85.6H495.0V89.0H481.4ZM542.6 85.6H559.6V89.0H542.6ZM481.4 89.0H491.6V92.4H481.4ZM539.2 89.0H556.2V92.4H539.2ZM478.0 92.4H488.2V95.8H478.0ZM542.6 92.4H556.2V95.8H542.6ZM478.0 95.8H488.2V99.2H478.0ZM478.0 99.2H484.8V102.6H478.0ZM478.0 102.6H484.8V106.0H478.0ZM433.8 106.0H454.2V109.4H433.8ZM474.6 106.0H481.4V109.4H474.6ZM427.0 109.4H457.6V112.8H427.0ZM474.6 109.4H481.4V112.8H474.6ZM423.6 112.8H430.4V116.2H423.6ZM450.8 112.8H461.0V116.2H450.8ZM474.6 112.8H478.0V116.2H474.6ZM420.2 116.2H427.0V119.6H420.2ZM454.2 116.2H461.0V119.6H454.2ZM471.2 116.2H478.0V119.6H471.2ZM416.8 119.6H423.6V123.0H416.8ZM457.6 119.6H474.6V123.0H457.6ZM413.4 123.0H420.2V126.4H413.4ZM461.0 123.0H471.2V126.4H461.0ZM410.0 126.4H413.4V129.8H410.0ZM406.6 129.8H410.0V133.2H406.6ZM403.2 133.2H406.6V136.6H403.2ZM396.4 136.6H403.2V140.0H396.4ZM389.6 140.0H396.4V143.4H389.6ZM382.8 143.4H393.0V146.8H382.8ZM372.6 146.8H382.8V150.2H372.6ZM365.8 150.2H372.6V153.6H365.8ZM362.4 153.6H369.2V157.0H362.4ZM355.6 157.0H362.4V160.4H355.6ZM352.2 160.4H359.0V163.8H352.2ZM345.4 163.8H355.6V167.2H345.4ZM338.6 167.2H348.8V170.6H338.6ZM328.4 170.6H342.0V174.0H328.4ZM321.6 174.0H338.6V177.4H321.6ZM318.2 177.4H331.8V180.8H318.2ZM314.8 180.8H328.4V184.2H314.8ZM314.8 184.2H325.0V187.6H314.8ZM314.8 187.6H325.0V191.0H314.8ZM311.4 191.0H325.0V194.4H311.4ZM311.4 194.4H321.6V197.8H311.4ZM311.4 197.8H321.6V201.2H311.4ZM311.4 201.2H321.6V204.6H311.4ZM308.0 204.6H321.6V208.0H308.0ZM304.6 208.0H321.6V211.4H304.6ZM304.6 211.4H318.2V214.8H304.6ZM301.2 214.8H318.2V218.2H301.2ZM297.8 218.2H314.8V221.6H297.8ZM297.8 221.6H314.8V225.0H297.8ZM294.4 225.0H311.4V228.4H294.4ZM294.4 228.4H311.4V231.8H294.4ZM291.0 231.8H308.0V235.2H291.0ZM291.0 235.2H304.6V238.6H291.0ZM291.0 238.6H304.6V242.0H291.0ZM287.6 242.0H301.2V245.4H287.6ZM287.6 245.4H301.2V248.8H287.6ZM284.2 248.8H297.8V252.2H284.2ZM280.8 252.2H297.8V255.6H280.8ZM280.8 255.6H294.4V259.0H280.8ZM280.8 259.0H294.4V262.4H280.8ZM277.4 262.4H294.4V265.8H277.4ZM461.0 262.4H471.2V265.8H461.0ZM277.4 265.8H291.0V269.2H277.4ZM454.2 265.8H461.0V269.2H454.2ZM471.2 265.8H474.6V269.2H471.2ZM274.0 269.2H291.0V272.6H274.0ZM450.8 269.2H457.6V272.6H450.8ZM474.6 269.2H478.0V272.6H474.6ZM274.0 272.6H291.0V276.0H274.0ZM450.8 272.6H454.2V276.0H450.8ZM274.0 276.0H287.6V279.4H274.0ZM450.8 276.0H454.2V279.4H450.8ZM270.6 279.4H287.6V282.8H270.6ZM447.4 279.4H450.8V282.8H447.4ZM488.2 279.4H491.6V282.8H488.2ZM270.6 282.8H287.6V286.2H270.6ZM447.4 282.8H450.8V286.2H447.4ZM491.6 282.8H495.0V286.2H491.6ZM270.6 286.2H284.2V289.6H270.6ZM447.4 286.2H450.8V289.6H447.4ZM270.6 289.6H284.2V293.0H270.6ZM447.4 289.6H450.8V293.0H447.4ZM267.2 293.0H284.2V296.4H267.2ZM447.4 293.0H450.8V296.4H447.4ZM501.8 293.0H505.2V296.4H501.8ZM267.2 296.4H284.2V299.8H267.2ZM447.4 296.4H450.8V299.8H447.4ZM267.2 299.8H284.2V303.2H267.2ZM444.0 299.8H450.8V303.2H444.0ZM263.8 303.2H284.2V306.6H263.8ZM444.0 303.2H447.4V306.6H444.0ZM505.2 303.2H508.6V306.6H505.2ZM263.8 306.6H280.8V310.0H263.8ZM440.6 306.6H447.4V310.0H440.6ZM263.8 310.0H277.4V313.4H263.8ZM437.2 310.0H444.0V313.4H437.2ZM508.6 310.0H512.0V313.4H508.6ZM260.4 313.4H274.0V316.8H260.4ZM430.4 313.4H437.2V316.8H430.4ZM260.4 316.8H274.0V320.2H260.4ZM423.6 316.8H430.4V320.2H423.6ZM512.0 316.8H515.4V320.2H512.0ZM260.4 320.2H270.6V323.6H260.4ZM420.2 320.2H427.0V323.6H420.2ZM257.0 323.6H270.6V327.0H257.0ZM416.8 323.6H423.6V327.0H416.8ZM515.4 323.6H518.8V327.0H515.4ZM253.6 327.0H267.2V330.4H253.6ZM413.4 327.0H420.2V330.4H413.4ZM250.2 330.4H267.2V333.8H250.2ZM410.0 330.4H416.8V333.8H410.0ZM518.8 330.4H522.2V333.8H518.8ZM246.8 333.8H263.8V337.2H246.8ZM406.6 333.8H413.4V337.2H406.6ZM518.8 333.8H522.2V337.2H518.8ZM243.4 337.2H260.4V340.6H243.4ZM403.2 337.2H410.0V340.6H403.2ZM518.8 337.2H522.2V340.6H518.8ZM243.4 340.6H257.0V344.0H243.4ZM399.8 340.6H406.6V344.0H399.8ZM518.8 340.6H522.2V344.0H518.8ZM240.0 344.0H257.0V347.4H240.0ZM396.4 344.0H406.6V347.4H396.4ZM518.8 344.0H522.2V347.4H518.8ZM240.0 347.4H257.0V350.8H240.0ZM393.0 347.4H403.2V350.8H393.0ZM518.8 347.4H522.2V350.8H518.8ZM240.0 350.8H257.0V354.2H240.0ZM389.6 350.8H399.8V354.2H389.6ZM518.8 350.8H522.2V354.2H518.8ZM240.0 354.2H260.4V357.6H240.0ZM386.2 354.2H396.4V357.6H386.2ZM515.4 354.2H518.8V357.6H515.4ZM243.4 357.6H263.8V361.0H243.4ZM379.4 357.6H393.0V361.0H379.4ZM515.4 357.6H518.8V361.0H515.4ZM243.4 361.0H270.6V364.4H243.4ZM372.6 361.0H389.6V364.4H372.6ZM515.4 361.0H518.8V364.4H515.4ZM246.8 364.4H277.4V367.8H246.8ZM365.8 364.4H386.2V367.8H365.8ZM512.0 364.4H518.8V367.8H512.0ZM250.2 367.8H284.2V371.2H250.2ZM348.8 367.8H379.4V371.2H348.8ZM512.0 367.8H518.8V371.2H512.0ZM257.0 371.2H304.6V374.6H257.0ZM325.0 371.2H372.6V374.6H325.0ZM512.0 371.2H518.8V374.6H512.0ZM267.2 374.6H365.8V378.0H267.2ZM508.6 374.6H515.4V378.0H508.6ZM274.0 378.0H352.2V381.4H274.0ZM508.6 378.0H515.4V381.4H508.6ZM287.6 381.4H338.6V384.8H287.6ZM508.6 381.4H515.4V384.8H508.6ZM301.2 384.8H321.6V388.2H301.2ZM508.6 384.8H515.4V388.2H508.6ZM508.6 388.2H518.8V391.6H508.6ZM508.6 391.6H518.8V395.0H508.6ZM505.2 395.0H518.8V398.4H505.2ZM505.2 398.4H518.8V401.8H505.2ZM505.2 401.8H518.8V405.2H505.2ZM501.8 405.2H518.8V408.6H501.8ZM501.8 408.6H518.8V412.0H501.8ZM501.8 412.0H518.8V415.4H501.8ZM501.8 415.4H518.8V418.8H501.8ZM501.8 418.8H518.8V422.2H501.8ZM501.8 422.2H522.2V425.6H501.8ZM501.8 425.6H522.2V429.0H501.8ZM505.2 429.0H525.6V432.4H505.2ZM508.6 432.4H525.6V435.8H508.6ZM512.0 435.8H552.8V439.2H512.0ZM515.4 439.2H539.2V442.6H515.4ZM552.8 439.2H559.6V442.6H552.8ZM518.8 442.6H532.4V446.0H518.8ZM556.2 442.6H563.0V446.0H556.2ZM522.2 446.0H529.0V449.4H522.2ZM559.6 446.0H566.4V449.4H559.6ZM563.0 449.4H566.4V452.8H563.0ZM563.0 452.8H569.8V456.2H563.0ZM566.4 456.2H573.2V459.6H566.4ZM566.4 459.6H575.0V463.0H566.4ZM569.8 463.0H575.0V465.0H569.8Z"/>
<path fill="#009bff" d="M518.8 38.0H556.2V41.4H518.8ZM518.8 41.4H552.8V44.8H518.8ZM515.4 44.8H552.8V48.2H515.4ZM515.4 48.2H552.8V51.6H515.4ZM515.4 51.6H556.2V55.0H515.4ZM512.0 55.0H559.6V58.4H512.0ZM512.0 58.4H559.6V61.8H512.0ZM512.0 61.8H563.0V65.2H512.0ZM508.6 65.2H566.4V68.6H508.6ZM508.6 68.6H566.4V72.0H508.6ZM505.2 72.0H566.4V75.4H505.2ZM501.8 75.4H525.6V78.8H501.8ZM532.4 75.4H566.4V78.8H532.4ZM498.4 78.8H522.2V82.2H498.4ZM535.8 78.8H546.0V82.2H535.8ZM556.2 78.8H566.4V82.2H556.2ZM495.0 82.2H522.2V85.6H495.0ZM535.8 82.2H542.6V85.6H535.8ZM559.6 82.2H566.4V85.6H559.6ZM495.0 85.6H518.8V89.0H495.0ZM532.4 85.6H542.6V89.0H532.4ZM559.6 85.6H566.4V89.0H559.6ZM491.6 89.0H512.0V92.4H491.6ZM532.4 89.0H539.2V92.4H532.4ZM556.2 89.0H566.4V92.4H556.2ZM488.2 92.4H505.2V95.8H488.2ZM532.4 92.4H542.6V95.8H532.4ZM556.2 92.4H563.0V95.8H556.2ZM488.2 95.8H498.4V99.2H488.2ZM535.8 95.8H559.6V99.2H535.8ZM484.8 99.2H495.0V102.6H484.8ZM542.6 99.2H552.8V102.6H542.6ZM484.8 102.6H491.6V106.0H484.8ZM481.4 106.0H488.2V109.4H481.4ZM481.4 109.4H484.8V112.8H481.4ZM430.4 112.8H450.8V116.2H430.4ZM478.0 112.8H484.8V116.2H478.0ZM427.0 116.2H430.4V119.6H427.0ZM447.4 116.2H454.2V119.6H447.4ZM478.0 116.2H481.4V119.6H478.0ZM423.6 119.6H427.0V123.0H423.6ZM450.8 119.6H457.6V123.0H450.8ZM474.6 119.6H478.0V123.0H474.6ZM420.2 123.0H423.6V126.4H420.2ZM454.2 123.0H461.0V126.4H454.2ZM471.2 123.0H474.6V126.4H471.2ZM413.4 126.4H420.2V129.8H413.4ZM457.6 126.4H471.2V129.8H457.6ZM410.0 129.8H413.4V133.2H410.0ZM406.6 133.2H410.0V136.6H406.6ZM403.2 136.6H406.6V140.0H403.2ZM396.4 140.0H403.2V143.4H396.4ZM393.0 143.4H396.4V146.8H393.0ZM382.8 146.8H389.6V150.2H382.8ZM372.6 150.2H379.4V153.6H372.6ZM369.2 153.6H372.6V157.0H369.2ZM362.4 157.0H369.2V160.4H362.4ZM359.0 160.4H365.8V163.8H359.0ZM355.6 163.8H362.4V167.2H355.6ZM348.8 167.2H359.0V170.6H348.8ZM342.0 170.6H352.2V174.0H342.0ZM338.6 174.0H348.8V177.4H338.6ZM331.8 177.4H345.4V180.8H331.8ZM328.4 180.8H338.6V184.2H328.4ZM325.0 184.2H338.6V187.6H325.0ZM325.0 187.6H335.2V191.0H325.0ZM325.0 191.0H331.8V194.4H325.0ZM321.6 194.4H331.8V197.8H321.6ZM321.6 197.8H331.8V201.2H321.6ZM321.6 201.2H331.8V204.6H321.6ZM321.6 204.6H331.8V208.0H321.6ZM321.6 208.0H331.8V211.4H321.6ZM318.2 211.4H328.4V214.8H318.2ZM318.2 214.8H328.4V218.2H318.2ZM314.8 218.2H328.4V221.6H314.8ZM314.8 221.6H328.4V225.0H314.8ZM311.4 225.0H328.4V228.4H311.4ZM311.4 228.4H325.0V231.8H311.4ZM308.0 231.8H325.0V235.2H308.0ZM304.6 235.2H321.6V238.6H304.6ZM304.6 238.6H321.6V242.0H304.6ZM301.2 242.0H318.2V245.4H301.2ZM301.2 245.4H314.8V248.8H301.2ZM297.8 248.8H311.4V252.2H297.8ZM297.8 252.2H311.4V255.6H297.8ZM294.4 255.6H308.0V259.0H294.4ZM294.4 259.0H304.6V262.4H294.4ZM294.4 262.4H304.6V265.8H294.4ZM454.2 262.4H461.0V265.8H454.2ZM471.2 262.4H474.6V265.8H471.2ZM291.0 265.8H304.6V269.2H291.0ZM450.8 265.8H454.2V269.2H450.8ZM474.6 265.8H478.0V269.2H474.6ZM291.0 269.2H301.2V272.6H291.0ZM447.4 269.2H450.8V272.6H447.4ZM478.0 269.2H481.4V272.6H478.0ZM291.0 272.6H301.2V276.0H291.0ZM447.4 272.6H450.8V276.0H447.4ZM481.4 272.6H484.8V276.0H481.4ZM287.6 276.0H301.2V279.4H287.6ZM447.4 276.0H450.8V279.4H447.4ZM484.8 276.0H488.2V279.4H484.8ZM287.6 279.4H297.8V282.8H287.6ZM444.0 279.4H447.4V282.8H444.0ZM491.6 279.4H495.0V282.8H491.6ZM287.6 282.8H297.8V286.2H287.6ZM444.0 282.8H447.4V286.2H444.0ZM495.0 282.8H498.4V286.2H495.0ZM284.2 286.2H297.8V289.6H284.2ZM444.0 286.2H447.4V289.6H444.0ZM498.4 286.2H501.8V289.6H498.4ZM284.2 289.6H297.8V293.0H284.2ZM444.0 289.6H447.4V293.0H444.0ZM501.8 289.6H505.2V293.0H501.8ZM284.2 293.0H297.8V296.4H284.2ZM444.0 293.0H447.4V296.4H444.0ZM284.2 296.4H297.8V299.8H284.2ZM440.6 296.4H447.4V299.8H440.6ZM505.2 296.4H508.6V299.8H505.2ZM284.2 299.8H297.8V303.2H284.2ZM440.6 299.8H444.0V303.2H440.6ZM505.2 299.8H508.6V303.2H505.2ZM284.2 303.2H297.8V306.6H284.2ZM437.2 303.2H444.0V306.6H437.2ZM280.8 306.6H297.8V310.0H280.8ZM433.8 306.6H440.6V310.0H433.8ZM508.6 306.6H512.0V310.0H508.6ZM277.4 310.0H301.2V313.4H277.4ZM427.0 310.0H437.2V313.4H427.0ZM274.0 313.4H301.2V316.8H274.0ZM420.2 313.4H430.4V316.8H420.2ZM512.0 313.4H515.4V316.8H512.0ZM274.0 316.8H297.8V320.2H274.0ZM416.8 316.8H423.6V320.2H416.8ZM270.6 320.2H294.4V323.6H270.6ZM413.4 320.2H420.2V323.6H413.4ZM515.4 320.2H518.8V323.6H515.4ZM270.6 323.6H280.8V327.0H270.6ZM410.0 323.6H416.8V327.0H410.0ZM267.2 327.0H277.4V330.4H267.2ZM406.6 327.0H413.4V330.4H406.6ZM518.8 327.0H522.2V330.4H518.8ZM267.2 330.4H277.4V333.8H267.2ZM403.2 330.4H410.0V333.8H403.2ZM263.8 333.8H277.4V337.2H263.8ZM396.4 333.8H406.6V337.2H396.4ZM522.2 333.8H525.6V337.2H522.2ZM260.4 337.2H277.4V340.6H260.4ZM393.0 337.2H403.2V340.6H393.0ZM522.2 337.2H525.6V340.6H522.2ZM257.0 340.6H277.4V344.0H257.0ZM389.6 340.6H399.8V344.0H389.6ZM522.2 340.6H525.6V344.0H522.2ZM257.0 344.0H277.4V347.4H257.0ZM386.2 344.0H396.4V347.4H386.2ZM522.2 344.0H525.6V347.4H522.2ZM257.0 347.4H280.8V350.8H257.0ZM379.4 347.4H393.0V350.8H379.4ZM522.2 347.4H525.6V350.8H522.2ZM257.0 350.8H280.8V354.2H257.0ZM372.6 350.8H389.6V354.2H372.6ZM522.2 350.8H525.6V354.2H522.2ZM260.4 354.2H287.6V357.6H260.4ZM359.0 354.2H386.2V357.6H359.0ZM518.8 354.2H522.2V357.6H518.8ZM263.8 357.6H379.4V361.0H263.8ZM518.8 357.6H522.2V361.0H518.8ZM270.6 361.0H372.6V364.4H270.6ZM518.8 361.0H522.2V364.4H518.8ZM277.4 364.4H365.8V367.8H277.4ZM518.8 364.4H522.2V367.8H518.8ZM284.2 367.8H348.8V371.2H284.2ZM518.8 367.8H522.2V371.2H518.8ZM304.6 371.2H325.0V374.6H304.6ZM518.8 371.2H522.2V374.6H518.8ZM515.4 374.6H522.2V378.0H515.4ZM515.4 378.0H522.2V381.4H515.4ZM515.4 381.4H522.2V384.8H515.4ZM515.4 384.8H522.2V388.2H515.4ZM518.8 388.2H522.2V391.6H518.8ZM518.8 391.6H522.2V395.0H518.8ZM518.8 395.0H525.6V398.4H518.8ZM518.8 398.4H525.6V401.8H518.8ZM518.8 401.8H525.6V405.2H518.8ZM518.8 405.2H525.6V408.6H518.8ZM518.8 408.6H525.6V412.0H518.8ZM518.8 412.0H525.6V415.4H518.8ZM518.8 415.4H529.0V418.8H518.8ZM518.8 418.8H529.0V422.2H518.8ZM522.2 422.2H532.4V425.6H522.2ZM522.2 425.6H535.8V429.0H522.2ZM525.6 429.0H546.0V432.4H525.6ZM525.6 432.4H556.2V435.8H525.6ZM552.8 435.8H563.0V439.2H552.8ZM559.6 439.2H566.4V442.6H559.6ZM563.0 442.6H569.8V446.0H563.0ZM566.4 446.0H573.2V449.4H566.4ZM566.4 449.4H575.0V452.8H566.4ZM569.8 452.8H575.0V456.2H569.8ZM573.2 456.2H575.0V459.6H573.2Z"/>
<path fill="#00b5ff" d="M556.2 38.0H575.0V41.4H556.2ZM552.8 41.4H575.0V44.8H552.8ZM552.8 44.8H575.0V48.2H552.8ZM552.8 48.2H575.0V51.6H552.8ZM556.2 51.6H575.0V55.0H556.2ZM559.6 55.0H575.0V58.4H559.6ZM559.6 58.4H575.0V61.8H559.6ZM563.0 61.8H575.0V65.2H563.0ZM566.4 65.2H575.0V68.6H566.4ZM566.4 68.6H575.0V72.0H566.4ZM566.4 72.0H575.0V75.4H566.4ZM525.6 75.4H532.4V78.8H525.6ZM566.4 75.4H575.0V78.8H566.4ZM522.2 78.8H535.8V82.2H522.2ZM566.4 78.8H575.0V82.2H566.4ZM522.2 82.2H535.8V85.6H522.2ZM566.4 82.2H575.0V85.6H566.4ZM518.8 85.6H532.4V89.0H518.8ZM566.4 85.6H575.0V89.0H566.4ZM512.0 89.0H532.4V92.4H512.0ZM566.4 89.0H575.0V92.4H566.4ZM505.2 92.4H532.4V95.8H505.2ZM563.0 92.4H575.0V95.8H563.0ZM498.4 95.8H535.8V99.2H498.4ZM559.6 95.8H575.0V99.2H559.6ZM495.0 99.2H542.6V102.6H495.0ZM552.8 99.2H569.8V102.6H552.8ZM491.6 102.6H559.6V106.0H491.6ZM488.2 106.0H498.4V109.4H488.2ZM484.8 109.4H491.6V112.8H484.8ZM484.8 112.8H488.2V116.2H484.8ZM430.4 116.2H447.4V119.6H430.4ZM481.4 116.2H484.8V119.6H481.4ZM427.0 119.6H430.4V123.0H427.0ZM444.0 119.6H450.8V123.0H444.0ZM478.0 119.6H484.8V123.0H478.0ZM423.6 123.0H427.0V126.4H423.6ZM447.4 123.0H454.2V126.4H447.4ZM474.6 123.0H481.4V126.4H474.6ZM420.2 126.4H423.6V129.8H420.2ZM450.8 126.4H457.6V129.8H450.8ZM471.2 126.4H478.0V129.8H471.2ZM413.4 129.8H416.8V133.2H413.4ZM454.2 129.8H471.2V133.2H454.2ZM410.0 133.2H413.4V136.6H410.0ZM461.0 133.2H464.4V136.6H461.0ZM406.6 136.6H410.0V140.0H406.6ZM403.2 140.0H406.6V143.4H403.2ZM396.4 143.4H403.2V146.8H396.4ZM389.6 146.8H396.4V150.2H389.6ZM379.4 150.2H389.6V153.6H379.4ZM372.6 153.6H379.4V157.0H372.6ZM369.2 157.0H372.6V160.4H369.2ZM365.8 160.4H369.2V163.8H365.8ZM362.4 163.8H365.8V167.2H362.4ZM359.0 167.2H365.8V170.6H359.0ZM352.2 170.6H362.4V174.0H352.2ZM348.8 174.0H359.0V177.4H348.8ZM345.4 177.4H355.6V180.8H345.4ZM338.6 180.8H352.2V184.2H338.6ZM338.6 184.2H348.8V187.6H338.6ZM335.2 187.6H345.4V191.0H335.2ZM331.8 191.0H342.0V194.4H331.8ZM331.8 194.4H342.0V197.8H331.8ZM331.8 197.8H342.0V201.2H331.8ZM331.8 201.2H338.6V204.6H331.8ZM331.8 204.6H338.6V208.0H331.8ZM331.8 208.0H338.6V211.4H331.8ZM328.4 211.4H342.0V214.8H328.4ZM328.4 214.8H342.0V218.2H328.4ZM328.4 218.2H342.0V221.6H328.4ZM328.4 221.6H338.6V225.0H328.4ZM328.4 225.0H338.6V228.4H328.4ZM325.0 228.4H338.6V231.8H325.0ZM325.0 231.8H338.6V235.2H325.0ZM321.6 235.2H335.2V238.6H321.6ZM321.6 238.6H335.2V242.0H321.6ZM318.2 242.0H331.8V245.4H318.2ZM314.8 245.4H331.8V248.8H314.8ZM311.4 248.8H328.4V252.2H311.4ZM311.4 252.2H325.0V255.6H311.4ZM308.0 255.6H321.6V259.0H308.0ZM304.6 259.0H321.6V262.4H304.6ZM450.8 259.0H471.2V262.4H450.8ZM304.6 262.4H318.2V265.8H304.6ZM447.4 262.4H454.2V265.8H447.4ZM474.6 262.4H478.0V265.8H474.6ZM304.6 265.8H314.8V269.2H304.6ZM444.0 265.8H450.8V269.2H444.0ZM478.0 265.8H481.4V269.2H478.0ZM301.2 269.2H311.4V272.6H301.2ZM444.0 269.2H447.4V272.6H444.0ZM481.4 269.2H484.8V272.6H481.4ZM301.2 272.6H311.4V276.0H301.2ZM444.0 272.6H447.4V276.0H444.0ZM484.8 272.6H488.2V276.0H484.8ZM301.2 276.0H308.0V279.4H301.2ZM440.6 276.0H447.4V279.4H440.6ZM488.2 276.0H491.6V279.4H488.2ZM297.8 279.4H308.0V282.8H297.8ZM440.6 279.4H444.0V282.8H440.6ZM297.8 282.8H308.0V286.2H297.8ZM440.6 282.8H444.0V286.2H440.6ZM498.4 282.8H501.8V286.2H498.4ZM297.8 286.2H308.0V289.6H297.8ZM440.6 286.2H444.0V289.6H440.6ZM501.8 286.2H505.2V289.6H501.8ZM297.8 289.6H304.6V293.0H297.8ZM440.6 289.6H444.0V293.0H440.6ZM297.8 293.0H304.6V296.4H297.8ZM437.2 293.0H444.0V296.4H437.2ZM505.2 293.0H508.6V296.4H505.2ZM297.8 296.4H304.6V299.8H297.8ZM437.2 296.4H440.6V299.8H437.2ZM297.8 299.8H304.6V303.2H297.8ZM433.8 299.8H440.6V303.2H433.8ZM297.8 303.2H308.0V306.6H297.8ZM430.4 303.2H437.2V306.6H430.4ZM508.6 303.2H512.0V306.6H508.6ZM297.8 306.6H308.0V310.0H297.8ZM423.6 306.6H433.8V310.0H423.6ZM301.2 310.0H308.0V313.4H301.2ZM416.8 310.0H427.0V313.4H416.8ZM512.0 310.0H515.4V313.4H512.0ZM301.2 313.4H308.0V316.8H301.2ZM413.4 313.4H420.2V316.8H413.4ZM297.8 316.8H308.0V320.2H297.8ZM406.6 316.8H416.8V320.2H406.6ZM515.4 316.8H518.8V320.2H515.4ZM294.4 320.2H308.0V323.6H294.4ZM403.2 320.2H413.4V323.6H403.2ZM280.8 323.6H308.0V327.0H280.8ZM399.8 323.6H410.0V327.0H399.8ZM518.8 323.6H522.2V327.0H518.8ZM277.4 327.0H304.6V330.4H277.4ZM396.4 327.0H406.6V330.4H396.4ZM522.2 327.0H525.6V330.4H522.2ZM277.4 330.4H301.2V333.8H277.4ZM389.6 330.4H403.2V333.8H389.6ZM522.2 330.4H525.6V333.8H522.2ZM277.4 333.8H304.6V337.2H277.4ZM386.2 333.8H396.4V337.2H386.2ZM277.4 337.2H308.0V340.6H277.4ZM379.4 337.2H393.0V340.6H379.4ZM525.6 337.2H529.0V340.6H525.6ZM277.4 340.6H338.6V344.0H277.4ZM369.2 340.6H389.6V344.0H369.2ZM525.6 340.6H529.0V344.0H525.6ZM277.4 344.0H386.2V347.4H277.4ZM525.6 344.0H529.0V347.4H525.6ZM280.8 347.4H379.4V350.8H280.8ZM525.6 347.4H529.0V350.8H525.6ZM280.8 350.8H372.6V354.2H280.8ZM525.6 350.8H529.0V354.2H525.6ZM287.6 354.2H359.0V357.6H287.6ZM522.2 354.2H529.0V357.6H522.2ZM522.2 357.6H525.6V361.0H522.2ZM522.2 361.0H525.6V364.4H522.2ZM522.2 364.4H525.6V367.8H522.2ZM522.2 367.8H525.6V371.2H522.2ZM522.2 371.2H525.6V374.6H522.2ZM522.2 374.6H525.6V378.0H522.2ZM522.2 378.0H525.6V381.4H522.2ZM522.2 381.4H529.0V384.8H522.2ZM522.2 384.8H529.0V388.2H522.2ZM522.2 388.2H529.0V391.6H522.2ZM522.2 391.6H529.0V395.0H522.2ZM525.6 395.0H529.0V398.4H525.6ZM525.6 398.4H529.0V401.8H525.6ZM525.6 401.8H529.0V405.2H525.6ZM525.6 405.2H529.0V408.6H525.6ZM525.6 408.6H532.4V412.0H525.6ZM525.6 412.0H535.8V415.4H525.6ZM529.0 415.4H535.8V418.8H529.0ZM529.0 418.8H539.2V422.2H529.0ZM532.4 422.2H546.0V425.6H532.4ZM535.8 425.6H552.8V429.0H535.8ZM546.0 429.0H559.6V432.4H546.0ZM556.2 432.4H566.4V435.8H556.2ZM563.0 435.8H573.2V439.2H563.0ZM566.4 439.2H575.0V442.6H566.4ZM569.8 442.6H575.0V446.0H569.8ZM573.2 446.0H575.0V449.4H573.2Z"/>
<path fill="#00cfff" d="M569.8 99.2H575.0V102.6H569.8ZM559.6 102.6H575.0V106.0H559.6ZM498.4 106.0H575.0V109.4H498.4ZM491.6 109.4H563.0V112.8H491.6ZM488.2 112.8H508.6V116.2H488.2ZM484.8 116.2H495.0V119.6H484.8ZM430.4 119.6H444.0V123.0H430.4ZM484.8 119.6H491.6V123.0H484.8ZM427.0 123.0H433.8V126.4H427.0ZM440.6 123.0H447.4V126.4H440.6ZM481.4 123.0H488.2V126.4H481.4ZM423.6 126.4H427.0V129.8H423.6ZM447.4 126.4H450.8V129.8H447.4ZM478.0 126.4H481.4V129.8H478.0ZM416.8 129.8H420.2V133.2H416.8ZM450.8 129.8H454.2V133.2H450.8ZM471.2 129.8H478.0V133.2H471.2ZM413.4 133.2H416.8V136.6H413.4ZM454.2 133.2H461.0V136.6H454.2ZM464.4 133.2H474.6V136.6H464.4ZM410.0 136.6H413.4V140.0H410.0ZM457.6 136.6H467.8V140.0H457.6ZM406.6 140.0H410.0V143.4H406.6ZM403.2 143.4H406.6V146.8H403.2ZM396.4 146.8H403.2V150.2H396.4ZM389.6 150.2H396.4V153.6H389.6ZM379.4 153.6H386.2V157.0H379.4ZM372.6 157.0H379.4V160.4H372.6ZM369.2 160.4H376.0V163.8H369.2ZM365.8 163.8H372.6V167.2H365.8ZM365.8 167.2H369.2V170.6H365.8ZM362.4 170.6H369.2V174.0H362.4ZM359.0 174.0H365.8V177.4H359.0ZM355.6 177.4H365.8V180.8H355.6ZM352.2 180.8H362.4V184.2H352.2ZM348.8 184.2H362.4V187.6H348.8ZM345.4 187.6H359.0V191.0H345.4ZM342.0 191.0H359.0V194.4H342.0ZM342.0 194.4H359.0V197.8H342.0ZM342.0 197.8H359.0V201.2H342.0ZM338.6 201.2H359.0V204.6H338.6ZM338.6 204.6H355.6V208.0H338.6ZM338.6 208.0H355.6V211.4H338.6ZM342.0 211.4H355.6V214.8H342.0ZM342.0 214.8H355.6V218.2H342.0ZM342.0 218.2H355.6V221.6H342.0ZM338.6 221.6H355.6V225.0H338.6ZM338.6 225.0H355.6V228.4H338.6ZM338.6 228.4H355.6V231.8H338.6ZM437.2 228.4H444.0V231.8H437.2ZM338.6 231.8H352.2V235.2H338.6ZM433.8 231.8H447.4V235.2H433.8ZM335.2 235.2H352.2V238.6H335.2ZM433.8 235.2H447.4V238.6H433.8ZM335.2 238.6H348.8V242.0H335.2ZM437.2 238.6H447.4V242.0H437.2ZM331.8 242.0H348.8V245.4H331.8ZM440.6 242.0H444.0V245.4H440.6ZM331.8 245.4H345.4V248.8H331.8ZM328.4 248.8H345.4V252.2H328.4ZM325.0 252.2H342.0V255.6H325.0ZM444.0 252.2H454.2V255.6H444.0ZM321.6 255.6H338.6V259.0H321.6ZM444.0 255.6H467.8V259.0H444.0ZM321.6 259.0H338.6V262.4H321.6ZM440.6 259.0H450.8V262.4H440.6ZM471.2 259.0H474.6V262.4H471.2ZM318.2 262.4H335.2V265.8H318.2ZM440.6 262.4H447.4V265.8H440.6ZM314.8 265.8H331.8V269.2H314.8ZM440.6 265.8H444.0V269.2H440.6ZM311.4 269.2H328.4V272.6H311.4ZM440.6 269.2H444.0V272.6H440.6ZM311.4 272.6H328.4V276.0H311.4ZM437.2 272.6H444.0V276.0H437.2ZM308.0 276.0H325.0V279.4H308.0ZM437.2 276.0H440.6V279.4H437.2ZM491.6 276.0H495.0V279.4H491.6ZM308.0 279.4H321.6V282.8H308.0ZM437.2 279.4H440.6V282.8H437.2ZM495.0 279.4H498.4V282.8H495.0ZM308.0 282.8H321.6V286.2H308.0ZM437.2 282.8H440.6V286.2H437.2ZM308.0 286.2H321.6V289.6H308.0ZM433.8 286.2H440.6V289.6H433.8ZM304.6 289.6H318.2V293.0H304.6ZM433.8 289.6H440.6V293.0H433.8ZM505.2 289.6H508.6V293.0H505.2ZM304.6 293.0H318.2V296.4H304.6ZM433.8 293.0H437.2V296.4H433.8ZM304.6 296.4H318.2V299.8H304.6ZM430.4 296.4H437.2V299.8H430.4ZM508.6 296.4H512.0V299.8H508.6ZM304.6 299.8H318.2V303.2H304.6ZM423.6 299.8H433.8V303.2H423.6ZM508.6 299.8H512.0V303.2H508.6ZM308.0 303.2H318.2V306.6H308.0ZM416.8 303.2H430.4V306.6H416.8ZM308.0 306.6H321.6V310.0H308.0ZM410.0 306.6H423.6V310.0H410.0ZM512.0 306.6H515.4V310.0H512.0ZM308.0 310.0H325.0V313.4H308.0ZM406.6 310.0H416.8V313.4H406.6ZM515.4 310.0H518.8V313.4H515.4ZM308.0 313.4H325.0V316.8H308.0ZM399.8 313.4H413.4V316.8H399.8ZM515.4 313.4H518.8V316.8H515.4ZM308.0 316.8H331.8V320.2H308.0ZM396.4 316.8H406.6V320.2H396.4ZM518.8 316.8H522.2V320.2H518.8ZM308.0 320.2H335.2V323.6H308.0ZM389.6 320.2H403.2V323.6H389.6ZM518.8 320.2H522.2V323.6H518.8ZM308.0 323.6H342.0V327.0H308.0ZM382.8 323.6H399.8V327.0H382.8ZM522.2 323.6H525.6V327.0H522.2ZM304.6 327.0H355.6V330.4H304.6ZM372.6 327.0H396.4V330.4H372.6ZM301.2 330.4H389.6V333.8H301.2ZM525.6 330.4H529.0V333.8H525.6ZM304.6 333.8H386.2V337.2H304.6ZM525.6 333.8H529.0V337.2H525.6ZM308.0 337.2H379.4V340.6H308.0ZM529.0 337.2H532.4V340.6H529.0ZM338.6 340.6H369.2V344.0H338.6ZM529.0 340.6H532.4V344.0H529.0ZM529.0 344.0H532.4V347.4H529.0ZM529.0 347.4H532.4V350.8H529.0ZM529.0 350.8H532.4V354.2H529.0ZM529.0 354.2H532.4V357.6H529.0ZM525.6 357.6H532.4V361.0H525.6ZM525.6 361.0H532.4V364.4H525.6ZM525.6 364.4H532.4V367.8H525.6ZM525.6 367.8H532.4V371.2H525.6ZM525.6 371.2H532.4V374.6H525.6ZM525.6 374.6H532.4V378.0H525.6ZM525.6 378.0H532.4V381.4H525.6ZM529.0 381.4H532.4V384.8H529.0ZM529.0 384.8H532.4V388.2H529.0ZM529.0 388.2H532.4V391.6H529.0ZM529.0 391.6H532.4V395.0H529.0ZM529.0 395.0H535.8V398.4H529.0ZM529.0 398.4H535.8V401.8H529.0ZM529.0 401.8H535.8V405.2H529.0ZM529.0 405.2H539.2V408.6H529.0ZM532.4 408.6H539.2V412.0H532.4ZM535.8 412.0H542.6V415.4H535.8ZM535.8 415.4H546.0V418.8H535.8ZM539.2 418.8H552.8V422.2H539.2ZM546.0 422.2H559.6V425.6H546.0ZM552.8 425.6H575.0V429.0H552.8ZM559.6 429.0H575.0V432.4H559.6ZM566.4 432.4H575.0V435.8H566.4ZM573.2 435.8H575.0V439.2H573.2Z"/>
<path fill="#00e9ff" d="M563.0 109.4H575.0V112.8H563.0ZM508.6 112.8H575.0V116.2H508.6ZM495.0 116.2H569.8V119.6H495.0ZM491.6 119.6H535.8V123.0H491.6ZM433.8 123.0H440.6V126.4H433.8ZM488.2 123.0H501.8V126.4H488.2ZM427.0 126.4H447.4V129.8H427.0ZM481.4 126.4H491.6V129.8H481.4ZM420.2 129.8H427.0V133.2H420.2ZM444.0 129.8H450.8V133.2H444.0ZM478.0 129.8H484.8V133.2H478.0ZM416.8 133.2H420.2V136.6H416.8ZM447.4 133.2H454.2V136.6H447.4ZM474.6 133.2H481.4V136.6H474.6ZM413.4 136.6H416.8V140.0H413.4ZM450.8 136.6H457.6V140.0H450.8ZM467.8 136.6H474.6V140.0H467.8ZM410.0 140.0H413.4V143.4H410.0ZM457.6 140.0H467.8V143.4H457.6ZM406.6 143.4H410.0V146.8H406.6ZM403.2 146.8H406.6V150.2H403.2ZM396.4 150.2H403.2V153.6H396.4ZM386.2 153.6H396.4V157.0H386.2ZM379.4 157.0H389.6V160.4H379.4ZM376.0 160.4H382.8V163.8H376.0ZM372.6 163.8H379.4V167.2H372.6ZM369.2 167.2H376.0V170.6H369.2ZM369.2 170.6H376.0V174.0H369.2ZM365.8 174.0H372.6V177.4H365.8ZM365.8 177.4H372.6V180.8H365.8ZM362.4 180.8H372.6V184.2H362.4ZM362.4 184.2H372.6V187.6H362.4ZM359.0 187.6H372.6V191.0H359.0ZM359.0 191.0H369.2V194.4H359.0ZM359.0 194.4H369.2V197.8H359.0ZM359.0 197.8H369.2V201.2H359.0ZM359.0 201.2H372.6V204.6H359.0ZM355.6 204.6H372.6V208.0H355.6ZM355.6 208.0H372.6V211.4H355.6ZM355.6 211.4H372.6V214.8H355.6ZM355.6 214.8H372.6V218.2H355.6ZM355.6 218.2H372.6V221.6H355.6ZM355.6 221.6H372.6V225.0H355.6ZM355.6 225.0H372.6V228.4H355.6ZM437.2 225.0H444.0V228.4H437.2ZM355.6 228.4H372.6V231.8H355.6ZM430.4 228.4H437.2V231.8H430.4ZM444.0 228.4H447.4V231.8H444.0ZM352.2 231.8H369.2V235.2H352.2ZM427.0 231.8H433.8V235.2H427.0ZM447.4 231.8H450.8V235.2H447.4ZM352.2 235.2H369.2V238.6H352.2ZM427.0 235.2H433.8V238.6H427.0ZM447.4 235.2H450.8V238.6H447.4ZM348.8 238.6H365.8V242.0H348.8ZM427.0 238.6H437.2V242.0H427.0ZM447.4 238.6H450.8V242.0H447.4ZM348.8 242.0H365.8V245.4H348.8ZM430.4 242.0H440.6V245.4H430.4ZM444.0 242.0H450.8V245.4H444.0ZM345.4 245.4H362.4V248.8H345.4ZM430.4 245.4H454.2V248.8H430.4ZM345.4 248.8H362.4V252.2H345.4ZM433.8 248.8H457.6V252.2H433.8ZM342.0 252.2H359.0V255.6H342.0ZM433.8 252.2H444.0V255.6H433.8ZM454.2 252.2H464.4V255.6H454.2ZM338.6 255.6H359.0V259.0H338.6ZM433.8 255.6H444.0V259.0H433.8ZM467.8 255.6H471.2V259.0H467.8ZM338.6 259.0H355.6V262.4H338.6ZM433.8 259.0H440.6V262.4H433.8ZM474.6 259.0H478.0V262.4H474.6ZM335.2 262.4H355.6V265.8H335.2ZM433.8 262.4H440.6V265.8H433.8ZM478.0 262.4H481.4V265.8H478.0ZM331.8 265.8H352.2V269.2H331.8ZM433.8 265.8H440.6V269.2H433.8ZM481.4 265.8H484.8V269.2H481.4ZM328.4 269.2H352.2V272.6H328.4ZM433.8 269.2H440.6V272.6H433.8ZM484.8 269.2H488.2V272.6H484.8ZM328.4 272.6H348.8V276.0H328.4ZM430.4 272.6H437.2V276.0H430.4ZM488.2 272.6H491.6V276.0H488.2ZM325.0 276.0H348.8V279.4H325.0ZM430.4 276.0H437.2V279.4H430.4ZM321.6 279.4H345.4V282.8H321.6ZM430.4 279.4H437.2V282.8H430.4ZM498.4 279.4H501.8V282.8H498.4ZM321.6 282.8H345.4V286.2H321.6ZM427.0 282.8H437.2V286.2H427.0ZM501.8 282.8H505.2V286.2H501.8ZM321.6 286.2H345.4V289.6H321.6ZM423.6 286.2H433.8V289.6H423.6ZM505.2 286.2H508.6V289.6H505.2ZM318.2 289.6H345.4V293.0H318.2ZM420.2 289.6H433.8V293.0H420.2ZM318.2 293.0H345.4V296.4H318.2ZM416.8 293.0H433.8V296.4H416.8ZM508.6 293.0H512.0V296.4H508.6ZM318.2 296.4H345.4V299.8H318.2ZM410.0 296.4H430.4V299.8H410.0ZM318.2 299.8H348.8V303.2H318.2ZM403.2 299.8H423.6V303.2H403.2ZM318.2 303.2H352.2V306.6H318.2ZM396.4 303.2H416.8V306.6H396.4ZM512.0 303.2H515.4V306.6H512.0ZM321.6 306.6H355.6V310.0H321.6ZM393.0 306.6H410.0V310.0H393.0ZM515.4 306.6H518.8V310.0H515.4ZM325.0 310.0H362.4V313.4H325.0ZM382.8 310.0H406.6V313.4H382.8ZM325.0 313.4H399.8V316.8H325.0ZM518.8 313.4H522.2V316.8H518.8ZM331.8 316.8H396.4V320.2H331.8ZM335.2 320.2H389.6V323.6H335.2ZM522.2 320.2H525.6V323.6H522.2ZM342.0 323.6H382.8V327.0H342.0ZM525.6 323.6H529.0V327.0H525.6ZM355.6 327.0H372.6V330.4H355.6ZM525.6 327.0H532.4V330.4H525.6ZM529.0 330.4H532.4V333.8H529.0ZM529.0 333.8H535.8V337.2H529.0ZM532.4 337.2H535.8V340.6H532.4ZM532.4 340.6H535.8V344.0H532.4ZM532.4 344.0H535.8V347.4H532.4ZM532.4 347.4H535.8V350.8H532.4ZM532.4 350.8H535.8V354.2H532.4ZM532.4 354.2H535.8V357.6H532.4ZM532.4 357.6H535.8V361.0H532.4ZM532.4 361.0H535.8V364.4H532.4ZM532.4 364.4H535.8V367.8H532.4ZM532.4 367.8H535.8V371.2H532.4ZM532.4 371.2H535.8V374.6H532.4ZM532.4 374.6H535.8V378.0H532.4ZM532.4 378.0H535.8V381.4H532.4ZM532.4 381.4H535.8V384.8H532.4ZM532.4 384.8H539.2V388.2H532.4ZM532.4 388.2H539.2V391.6H532.4ZM532.4 391.6H539.2V395.0H532.4ZM535.8 395.0H542.6V398.4H535.8ZM535.8 398.4H542.6V401.8H535.8ZM535.8 401.8H546.0V405.2H535.8ZM539.2 405.2H549.4V408.6H539.2ZM539.2 408.6H552.8V412.0H539.2ZM542.6 412.0H566.4V415.4H542.6ZM546.0 415.4H575.0V418.8H546.0ZM552.8 418.8H575.0V422.2H552.8ZM559.6 422.2H575.0V425.6H559.6Z"/>
<path fill="#00fffb" d="M569.8 116.2H575.0V119.6H569.8ZM535.8 119.6H575.0V123.0H535.8ZM501.8 123.0H575.0V126.4H501.8ZM491.6 126.4H575.0V129.8H491.6ZM427.0 129.8H444.0V133.2H427.0ZM484.8 129.8H575.0V133.2H484.8ZM420.2 133.2H427.0V136.6H420.2ZM437.2 133.2H447.4V136.6H437.2ZM481.4 133.2H495.0V136.6H481.4ZM518.8 133.2H575.0V136.6H518.8ZM416.8 136.6H420.2V140.0H416.8ZM444.0 136.6H450.8V140.0H444.0ZM474.6 136.6H481.4V140.0H474.6ZM542.6 136.6H563.0V140.0H542.6ZM413.4 140.0H416.8V143.4H413.4ZM450.8 140.0H457.6V143.4H450.8ZM467.8 140.0H474.6V143.4H467.8ZM410.0 143.4H413.4V146.8H410.0ZM457.6 143.4H464.4V146.8H457.6ZM406.6 146.8H410.0V150.2H406.6ZM403.2 150.2H406.6V153.6H403.2ZM396.4 153.6H403.2V157.0H396.4ZM389.6 157.0H399.8V160.4H389.6ZM382.8 160.4H393.0V163.8H382.8ZM379.4 163.8H389.6V167.2H379.4ZM376.0 167.2H386.2V170.6H376.0ZM376.0 170.6H382.8V174.0H376.0ZM372.6 174.0H382.8V177.4H372.6ZM372.6 177.4H379.4V180.8H372.6ZM372.6 180.8H379.4V184.2H372.6ZM372.6 184.2H379.4V187.6H372.6ZM372.6 187.6H379.4V191.0H372.6ZM369.2 191.0H379.4V194.4H369.2ZM369.2 194.4H379.4V197.8H369.2ZM369.2 197.8H382.8V201.2H369.2ZM372.6 201.2H382.8V204.6H372.6ZM372.6 204.6H382.8V208.0H372.6ZM372.6 208.0H382.8V211.4H372.6ZM372.6 211.4H382.8V214.8H372.6ZM372.6 214.8H386.2V218.2H372.6ZM372.6 218.2H386.2V221.6H372.6ZM372.6 221.6H386.2V225.0H372.6ZM372.6 225.0H389.6V228.4H372.6ZM423.6 225.0H437.2V228.4H423.6ZM444.0 225.0H450.8V228.4H444.0ZM372.6 228.4H389.6V231.8H372.6ZM416.8 228.4H430.4V231.8H416.8ZM447.4 228.4H450.8V231.8H447.4ZM369.2 231.8H396.4V235.2H369.2ZM406.6 231.8H427.0V235.2H406.6ZM450.8 231.8H454.2V235.2H450.8ZM369.2 235.2H427.0V238.6H369.2ZM450.8 235.2H454.2V238.6H450.8ZM365.8 238.6H427.0V242.0H365.8ZM450.8 238.6H454.2V242.0H450.8ZM365.8 242.0H430.4V245.4H365.8ZM450.8 242.0H457.6V245.4H450.8ZM362.4 245.4H430.4V248.8H362.4ZM454.2 245.4H457.6V248.8H454.2ZM362.4 248.8H433.8V252.2H362.4ZM457.6 248.8H461.0V252.2H457.6ZM359.0 252.2H433.8V255.6H359.0ZM464.4 252.2H467.8V255.6H464.4ZM359.0 255.6H433.8V259.0H359.0ZM471.2 255.6H474.6V259.0H471.2ZM355.6 259.0H433.8V262.4H355.6ZM355.6 262.4H433.8V265.8H355.6ZM352.2 265.8H433.8V269.2H352.2ZM484.8 265.8H488.2V269.2H484.8ZM352.2 269.2H433.8V272.6H352.2ZM488.2 269.2H491.6V272.6H488.2ZM348.8 272.6H430.4V276.0H348.8ZM491.6 272.6H495.0V276.0H491.6ZM348.8 276.0H430.4V279.4H348.8ZM495.0 276.0H498.4V279.4H495.0ZM345.4 279.4H430.4V282.8H345.4ZM345.4 282.8H427.0V286.2H345.4ZM345.4 286.2H423.6V289.6H345.4ZM345.4 289.6H420.2V293.0H345.4ZM508.6 289.6H512.0V293.0H508.6ZM345.4 293.0H416.8V296.4H345.4ZM345.4 296.4H410.0V299.8H345.4ZM512.0 296.4H515.4V299.8H512.0ZM348.8 299.8H403.2V303.2H348.8ZM512.0 299.8H515.4V303.2H512.0ZM352.2 303.2H396.4V306.6H352.2ZM515.4 303.2H518.8V306.6H515.4ZM355.6 306.6H393.0V310.0H355.6ZM362.4 310.0H382.8V313.4H362.4ZM518.8 310.0H522.2V313.4H518.8ZM522.2 313.4H525.6V316.8H522.2ZM522.2 316.8H525.6V320.2H522.2ZM566.4 316.8H575.0V320.2H566.4ZM525.6 320.2H529.0V323.6H525.6ZM559.6 320.2H575.0V323.6H559.6ZM529.0 323.6H535.8V327.0H529.0ZM559.6 323.6H575.0V327.0H559.6ZM532.4 327.0H539.2V330.4H532.4ZM559.6 327.0H575.0V330.4H559.6ZM532.4 330.4H542.6V333.8H532.4ZM559.6 330.4H575.0V333.8H559.6ZM535.8 333.8H542.6V337.2H535.8ZM559.6 333.8H575.0V337.2H559.6ZM535.8 337.2H542.6V340.6H535.8ZM563.0 337.2H575.0V340.6H563.0ZM535.8 340.6H542.6V344.0H535.8ZM566.4 340.6H575.0V344.0H566.4ZM535.8 344.0H542.6V347.4H535.8ZM535.8 347.4H539.2V350.8H535.8ZM535.8 350.8H539.2V354.2H535.8ZM535.8 354.2H542.6V357.6H535.8ZM535.8 357.6H542.6V361.0H535.8ZM535.8 361.0H542.6V364.4H535.8ZM535.8 364.4H542.6V367.8H535.8ZM535.8 367.8H542.6V371.2H535.8ZM535.8 371.2H542.6V374.6H535.8ZM535.8 374.6H542.6V378.0H535.8ZM535.8 378.0H542.6V381.4H535.8ZM535.8 381.4H546.0V384.8H535.8ZM539.2 384.8H549.4V388.2H539.2ZM539.2 388.2H552.8V391.6H539.2ZM539.2 391.6H575.0V395.0H539.2ZM542.6 395.0H575.0V398.4H542.6ZM542.6 398.4H575.0V401.8H542.6ZM546.0 401.8H575.0V405.2H546.0ZM549.4 405.2H575.0V408.6H549.4ZM552.8 408.6H575.0V412.0H552.8ZM566.4 412.0H575.0V415.4H566.4Z"/>
<path fill="#00ffe1" d="M427.0 133.2H437.2V136.6H427.0ZM495.0 133.2H518.8V136.6H495.0ZM420.2 136.6H444.0V140.0H420.2ZM481.4 136.6H542.6V140.0H481.4ZM563.0 136.6H575.0V140.0H563.0ZM416.8 140.0H420.2V143.4H416.8ZM440.6 140.0H450.8V143.4H440.6ZM474.6 140.0H484.8V143.4H474.6ZM508.6 140.0H575.0V143.4H508.6ZM413.4 143.4H416.8V146.8H413.4ZM450.8 143.4H457.6V146.8H450.8ZM464.4 143.4H471.2V146.8H464.4ZM515.4 143.4H575.0V146.8H515.4ZM410.0 146.8H416.8V150.2H410.0ZM522.2 146.8H575.0V150.2H522.2ZM406.6 150.2H413.4V153.6H406.6ZM532.4 150.2H575.0V153.6H532.4ZM403.2 153.6H410.0V157.0H403.2ZM549.4 153.6H575.0V157.0H549.4ZM399.8 157.0H406.6V160.4H399.8ZM556.2 157.0H575.0V160.4H556.2ZM393.0 160.4H403.2V163.8H393.0ZM563.0 160.4H575.0V163.8H563.0ZM389.6 163.8H399.8V167.2H389.6ZM566.4 163.8H575.0V167.2H566.4ZM386.2 167.2H396.4V170.6H386.2ZM569.8 167.2H575.0V170.6H569.8ZM382.8 170.6H393.0V174.0H382.8ZM382.8 174.0H393.0V177.4H382.8ZM379.4 177.4H389.6V180.8H379.4ZM379.4 180.8H389.6V184.2H379.4ZM379.4 184.2H389.6V187.6H379.4ZM379.4 187.6H389.6V191.0H379.4ZM379.4 191.0H389.6V194.4H379.4ZM379.4 194.4H389.6V197.8H379.4ZM382.8 197.8H393.0V201.2H382.8ZM382.8 201.2H393.0V204.6H382.8ZM382.8 204.6H396.4V208.0H382.8ZM382.8 208.0H396.4V211.4H382.8ZM382.8 211.4H399.8V214.8H382.8ZM386.2 214.8H406.6V218.2H386.2ZM386.2 218.2H433.8V221.6H386.2ZM386.2 221.6H447.4V225.0H386.2ZM389.6 225.0H423.6V228.4H389.6ZM450.8 225.0H454.2V228.4H450.8ZM389.6 228.4H416.8V231.8H389.6ZM450.8 228.4H454.2V231.8H450.8ZM396.4 231.8H406.6V235.2H396.4ZM454.2 231.8H457.6V235.2H454.2ZM454.2 235.2H457.6V238.6H454.2ZM454.2 238.6H457.6V242.0H454.2ZM457.6 242.0H461.0V245.4H457.6ZM457.6 245.4H461.0V248.8H457.6ZM461.0 248.8H464.4V252.2H461.0ZM467.8 252.2H471.2V255.6H467.8ZM474.6 255.6H478.0V259.0H474.6ZM478.0 259.0H481.4V262.4H478.0ZM481.4 262.4H484.8V265.8H481.4ZM498.4 276.0H501.8V279.4H498.4ZM501.8 279.4H505.2V282.8H501.8ZM505.2 282.8H508.6V286.2H505.2ZM508.6 286.2H512.0V289.6H508.6ZM512.0 289.6H515.4V293.0H512.0ZM512.0 293.0H515.4V296.4H512.0ZM515.4 299.8H518.8V303.2H515.4ZM518.8 303.2H522.2V306.6H518.8ZM569.8 303.2H575.0V306.6H569.8ZM518.8 306.6H522.2V310.0H518.8ZM559.6 306.6H575.0V310.0H559.6ZM522.2 310.0H525.6V313.4H522.2ZM552.8 310.0H575.0V313.4H552.8ZM525.6 313.4H532.4V316.8H525.6ZM549.4 313.4H575.0V316.8H549.4ZM525.6 316.8H566.4V320.2H525.6ZM529.0 320.2H559.6V323.6H529.0ZM535.8 323.6H559.6V327.0H535.8ZM539.2 327.0H559.6V330.4H539.2ZM542.6 330.4H559.6V333.8H542.6ZM542.6 333.8H559.6V337.2H542.6ZM542.6 337.2H563.0V340.6H542.6ZM542.6 340.6H566.4V344.0H542.6ZM542.6 344.0H575.0V347.4H542.6ZM539.2 347.4H575.0V350.8H539.2ZM539.2 350.8H575.0V354.2H539.2ZM542.6 354.2H575.0V357.6H542.6ZM542.6 357.6H575.0V361.0H542.6ZM542.6 361.0H575.0V364.4H542.6ZM542.6 364.4H575.0V367.8H542.6ZM542.6 367.8H575.0V371.2H542.6ZM542.6 371.2H575.0V374.6H542.6ZM542.6 374.6H575.0V378.0H542.6ZM542.6 378.0H575.0V381.4H542.6ZM546.0 381.4H575.0V384.8H546.0ZM549.4 384.8H575.0V388.2H549.4ZM552.8 388.2H575.0V391.6H552.8Z"/>
<path fill="#00ffc7" d="M420.2 140.0H440.6V143.4H420.2ZM484.8 140.0H508.6V143.4H484.8ZM416.8 143.4H423.6V146.8H416.8ZM440.6 143.4H450.8V146.8H440.6ZM471.2 143.4H484.8V146.8H471.2ZM488.2 143.4H515.4V146.8H488.2ZM416.8 146.8H420.2V150.2H416.8ZM450.8 146.8H471.2V150.2H450.8ZM508.6 146.8H522.2V150.2H508.6ZM413.4 150.2H420.2V153.6H413.4ZM515.4 150.2H532.4V153.6H515.4ZM410.0 153.6H416.8V157.0H410.0ZM522.2 153.6H549.4V157.0H522.2ZM406.6 157.0H413.4V160.4H406.6ZM529.0 157.0H556.2V160.4H529.0ZM403.2 160.4H413.4V163.8H403.2ZM535.8 160.4H563.0V163.8H535.8ZM399.8 163.8H410.0V167.2H399.8ZM542.6 163.8H566.4V167.2H542.6ZM396.4 167.2H406.6V170.6H396.4ZM549.4 167.2H569.8V170.6H549.4ZM393.0 170.6H406.6V174.0H393.0ZM552.8 170.6H575.0V174.0H552.8ZM393.0 174.0H403.2V177.4H393.0ZM556.2 174.0H575.0V177.4H556.2ZM389.6 177.4H399.8V180.8H389.6ZM559.6 177.4H575.0V180.8H559.6ZM389.6 180.8H399.8V184.2H389.6ZM559.6 180.8H575.0V184.2H559.6ZM389.6 184.2H399.8V187.6H389.6ZM563.0 184.2H575.0V187.6H563.0ZM389.6 187.6H399.8V191.0H389.6ZM566.4 187.6H575.0V191.0H566.4ZM389.6 191.0H399.8V194.4H389.6ZM566.4 191.0H575.0V194.4H566.4ZM389.6 194.4H403.2V197.8H389.6ZM566.4 194.4H575.0V197.8H566.4ZM393.0 197.8H403.2V201.2H393.0ZM569.8 197.8H575.0V201.2H569.8ZM393.0 201.2H406.6V204.6H393.0ZM569.8 201.2H575.0V204.6H569.8ZM396.4 204.6H410.0V208.0H396.4ZM573.2 204.6H575.0V208.0H573.2ZM396.4 208.0H416.8V211.4H396.4ZM573.2 208.0H575.0V211.4H573.2ZM399.8 211.4H423.6V214.8H399.8ZM406.6 214.8H437.2V218.2H406.6ZM433.8 218.2H447.4V221.6H433.8ZM447.4 221.6H454.2V225.0H447.4ZM454.2 228.4H457.6V231.8H454.2ZM457.6 235.2H461.0V238.6H457.6ZM457.6 238.6H461.0V242.0H457.6ZM461.0 245.4H464.4V248.8H461.0ZM464.4 248.8H467.8V252.2H464.4ZM471.2 252.2H474.6V255.6H471.2ZM481.4 259.0H484.8V262.4H481.4ZM484.8 262.4H488.2V265.8H484.8ZM488.2 265.8H491.6V269.2H488.2ZM491.6 269.2H495.0V272.6H491.6ZM495.0 272.6H498.4V276.0H495.0ZM515.4 293.0H518.8V296.4H515.4ZM563.0 293.0H575.0V296.4H563.0ZM515.4 296.4H518.8V299.8H515.4ZM556.2 296.4H575.0V299.8H556.2ZM518.8 299.8H522.2V303.2H518.8ZM549.4 299.8H575.0V303.2H549.4ZM522.2 303.2H525.6V306.6H522.2ZM542.6 303.2H569.8V306.6H542.6ZM522.2 306.6H532.4V310.0H522.2ZM535.8 306.6H559.6V310.0H535.8ZM525.6 310.0H552.8V313.4H525.6ZM532.4 313.4H549.4V316.8H532.4Z"/>
<path fill="#00ffad" d="M423.6 143.4H440.6V146.8H423.6ZM484.8 143.4H488.2V146.8H484.8ZM420.2 146.8H427.0V150.2H420.2ZM437.2 146.8H450.8V150.2H437.2ZM471.2 146.8H481.4V150.2H471.2ZM491.6 146.8H508.6V150.2H491.6ZM420.2 150.2H423.6V153.6H420.2ZM457.6 150.2H464.4V153.6H457.6ZM505.2 150.2H515.4V153.6H505.2ZM416.8 153.6H423.6V157.0H416.8ZM512.0 153.6H522.2V157.0H512.0ZM413.4 157.0H420.2V160.4H413.4ZM515.4 157.0H529.0V160.4H515.4ZM413.4 160.4H420.2V163.8H413.4ZM522.2 160.4H535.8V163.8H522.2ZM410.0 163.8H416.8V167.2H410.0ZM525.6 163.8H542.6V167.2H525.6ZM406.6 167.2H416.8V170.6H406.6ZM529.0 167.2H549.4V170.6H529.0ZM406.6 170.6H413.4V174.0H406.6ZM535.8 170.6H552.8V174.0H535.8ZM403.2 174.0H413.4V177.4H403.2ZM539.2 174.0H556.2V177.4H539.2ZM399.8 177.4H413.4V180.8H399.8ZM546.0 177.4H559.6V180.8H546.0ZM399.8 180.8H413.4V184.2H399.8ZM549.4 180.8H559.6V184.2H549.4ZM399.8 184.2H413.4V187.6H399.8ZM549.4 184.2H563.0V187.6H549.4ZM399.8 187.6H413.4V191.0H399.8ZM552.8 187.6H566.4V191.0H552.8ZM399.8 191.0H413.4V194.4H399.8ZM552.8 191.0H566.4V194.4H552.8ZM403.2 194.4H413.4V197.8H403.2ZM556.2 194.4H566.4V197.8H556.2ZM403.2 197.8H416.8V201.2H403.2ZM556.2 197.8H569.8V201.2H556.2ZM406.6 201.2H420.2V204.6H406.6ZM559.6 201.2H569.8V204.6H559.6ZM410.0 204.6H423.6V208.0H410.0ZM559.6 204.6H573.2V208.0H559.6ZM416.8 208.0H430.4V211.4H416.8ZM563.0 208.0H573.2V211.4H563.0ZM423.6 211.4H437.2V214.8H423.6ZM563.0 211.4H575.0V214.8H563.0ZM437.2 214.8H447.4V218.2H437.2ZM566.4 214.8H575.0V218.2H566.4ZM447.4 218.2H454.2V221.6H447.4ZM566.4 218.2H575.0V221.6H566.4ZM454.2 221.6H457.6V225.0H454.2ZM566.4 221.6H575.0V225.0H566.4ZM454.2 225.0H457.6V228.4H454.2ZM569.8 225.0H575.0V228.4H569.8ZM457.6 228.4H461.0V231.8H457.6ZM569.8 228.4H575.0V231.8H569.8ZM457.6 231.8H461.0V235.2H457.6ZM569.8 231.8H575.0V235.2H569.8ZM573.2 235.2H575.0V238.6H573.2ZM461.0 238.6H464.4V242.0H461.0ZM573.2 238.6H575.0V242.0H573.2ZM461.0 242.0H464.4V245.4H461.0ZM573.2 242.0H575.0V245.4H573.2ZM464.4 245.4H467.8V248.8H464.4ZM573.2 245.4H575.0V248.8H573.2ZM467.8 248.8H471.2V252.2H467.8ZM573.2 248.8H575.0V252.2H573.2ZM474.6 252.2H478.0V255.6H474.6ZM573.2 252.2H575.0V255.6H573.2ZM478.0 255.6H481.4V259.0H478.0ZM573.2 255.6H575.0V259.0H573.2ZM573.2 259.0H575.0V262.4H573.2ZM569.8 262.4H575.0V265.8H569.8ZM491.6 265.8H495.0V269.2H491.6ZM569.8 265.8H575.0V269.2H569.8ZM495.0 269.2H498.4V272.6H495.0ZM569.8 269.2H575.0V272.6H569.8ZM498.4 272.6H501.8V276.0H498.4ZM566.4 272.6H575.0V276.0H566.4ZM501.8 276.0H505.2V279.4H501.8ZM566.4 276.0H575.0V279.4H566.4ZM505.2 279.4H508.6V282.8H505.2ZM563.0 279.4H575.0V282.8H563.0ZM508.6 282.8H512.0V286.2H508.6ZM556.2 282.8H575.0V286.2H556.2ZM512.0 286.2H515.4V289.6H512.0ZM552.8 286.2H575.0V289.6H552.8ZM515.4 289.6H518.8V293.0H515.4ZM546.0 289.6H575.0V293.0H546.0ZM518.8 293.0H522.2V296.4H518.8ZM542.6 293.0H563.0V296.4H542.6ZM518.8 296.4H525.6V299.8H518.8ZM539.2 296.4H556.2V299.8H539.2ZM522.2 299.8H549.4V303.2H522.2ZM525.6 303.2H542.6V306.6H525.6ZM532.4 306.6H535.8V310.0H532.4Z"/>
<path fill="#00ff93" d="M427.0 146.8H437.2V150.2H427.0ZM481.4 146.8H491.6V150.2H481.4ZM423.6 150.2H457.6V153.6H423.6ZM464.4 150.2H478.0V153.6H464.4ZM495.0 150.2H505.2V153.6H495.0ZM423.6 153.6H430.4V157.0H423.6ZM505.2 153.6H512.0V157.0H505.2ZM420.2 157.0H427.0V160.4H420.2ZM508.6 157.0H515.4V160.4H508.6ZM420.2 160.4H427.0V163.8H420.2ZM515.4 160.4H522.2V163.8H515.4ZM416.8 163.8H423.6V167.2H416.8ZM518.8 163.8H525.6V167.2H518.8ZM416.8 167.2H423.6V170.6H416.8ZM522.2 167.2H529.0V170.6H522.2ZM413.4 170.6H423.6V174.0H413.4ZM522.2 170.6H535.8V174.0H522.2ZM413.4 174.0H423.6V177.4H413.4ZM525.6 174.0H539.2V177.4H525.6ZM413.4 177.4H423.6V180.8H413.4ZM532.4 177.4H546.0V180.8H532.4ZM413.4 180.8H423.6V184.2H413.4ZM535.8 180.8H549.4V184.2H535.8ZM413.4 184.2H423.6V187.6H413.4ZM539.2 184.2H549.4V187.6H539.2ZM413.4 187.6H423.6V191.0H413.4ZM542.6 187.6H552.8V191.0H542.6ZM413.4 191.0H423.6V194.4H413.4ZM546.0 191.0H552.8V194.4H546.0ZM413.4 194.4H427.0V197.8H413.4ZM546.0 194.4H556.2V197.8H546.0ZM416.8 197.8H427.0V201.2H416.8ZM549.4 197.8H556.2V201.2H549.4ZM420.2 201.2H430.4V204.6H420.2ZM549.4 201.2H559.6V204.6H549.4ZM423.6 204.6H433.8V208.0H423.6ZM552.8 204.6H559.6V208.0H552.8ZM430.4 208.0H440.6V211.4H430.4ZM552.8 208.0H563.0V211.4H552.8ZM437.2 211.4H447.4V214.8H437.2ZM556.2 211.4H563.0V214.8H556.2ZM447.4 214.8H454.2V218.2H447.4ZM556.2 214.8H566.4V218.2H556.2ZM454.2 218.2H457.6V221.6H454.2ZM556.2 218.2H566.4V221.6H556.2ZM457.6 221.6H461.0V225.0H457.6ZM559.6 221.6H566.4V225.0H559.6ZM457.6 225.0H461.0V228.4H457.6ZM559.6 225.0H569.8V228.4H559.6ZM461.0 228.4H464.4V231.8H461.0ZM559.6 228.4H569.8V231.8H559.6ZM461.0 231.8H464.4V235.2H461.0ZM559.6 231.8H569.8V235.2H559.6ZM461.0 235.2H464.4V238.6H461.0ZM559.6 235.2H573.2V238.6H559.6ZM559.6 238.6H573.2V242.0H559.6ZM464.4 242.0H467.8V245.4H464.4ZM559.6 242.0H573.2V245.4H559.6ZM467.8 245.4H471.2V248.8H467.8ZM559.6 245.4H573.2V248.8H559.6ZM471.2 248.8H474.6V252.2H471.2ZM559.6 248.8H573.2V252.2H559.6ZM559.6 252.2H573.2V255.6H559.6ZM481.4 255.6H484.8V259.0H481.4ZM559.6 255.6H573.2V259.0H559.6ZM484.8 259.0H488.2V262.4H484.8ZM559.6 259.0H573.2V262.4H559.6ZM488.2 262.4H491.6V265.8H488.2ZM556.2 262.4H569.8V265.8H556.2ZM556.2 265.8H569.8V269.2H556.2ZM498.4 269.2H501.8V272.6H498.4ZM552.8 269.2H569.8V272.6H552.8ZM501.8 272.6H505.2V276.0H501.8ZM549.4 272.6H566.4V276.0H549.4ZM505.2 276.0H508.6V279.4H505.2ZM549.4 276.0H566.4V279.4H549.4ZM508.6 279.4H512.0V282.8H508.6ZM542.6 279.4H563.0V282.8H542.6ZM512.0 282.8H518.8V286.2H512.0ZM539.2 282.8H556.2V286.2H539.2ZM515.4 286.2H522.2V289.6H515.4ZM535.8 286.2H552.8V289.6H535.8ZM518.8 289.6H546.0V293.0H518.8ZM522.2 293.0H542.6V296.4H522.2ZM525.6 296.4H539.2V299.8H525.6Z"/>
<path fill="#00ff79" d="M478.0 150.2H495.0V153.6H478.0ZM430.4 153.6H474.6V157.0H430.4ZM495.0 153.6H505.2V157.0H495.0ZM427.0 157.0H440.6V160.4H427.0ZM501.8 157.0H508.6V160.4H501.8ZM427.0 160.4H433.8V163.8H427.0ZM508.6 160.4H515.4V163.8H508.6ZM423.6 163.8H433.8V167.2H423.6ZM512.0 163.8H518.8V167.2H512.0ZM423.6 167.2H430.4V170.6H423.6ZM515.4 167.2H522.2V170.6H515.4ZM423.6 170.6H430.4V174.0H423.6ZM515.4 170.6H522.2V174.0H515.4ZM423.6 174.0H430.4V177.4H423.6ZM518.8 174.0H525.6V177.4H518.8ZM423.6 177.4H430.4V180.8H423.6ZM522.2 177.4H532.4V180.8H522.2ZM423.6 180.8H430.4V184.2H423.6ZM525.6 180.8H535.8V184.2H525.6ZM423.6 184.2H430.4V187.6H423.6ZM529.0 184.2H539.2V187.6H529.0ZM423.6 187.6H430.4V191.0H423.6ZM532.4 187.6H542.6V191.0H532.4ZM423.6 191.0H430.4V194.4H423.6ZM535.8 191.0H546.0V194.4H535.8ZM427.0 194.4H433.8V197.8H427.0ZM539.2 194.4H546.0V197.8H539.2ZM427.0 197.8H433.8V201.2H427.0ZM542.6 197.8H549.4V201.2H542.6ZM430.4 201.2H437.2V204.6H430.4ZM542.6 201.2H549.4V204.6H542.6ZM433.8 204.6H440.6V208.0H433.8ZM546.0 204.6H552.8V208.0H546.0ZM440.6 208.0H447.4V211.4H440.6ZM546.0 208.0H552.8V211.4H546.0ZM447.4 211.4H454.2V214.8H447.4ZM549.4 211.4H556.2V214.8H549.4ZM454.2 214.8H457.6V218.2H454.2ZM549.4 214.8H556.2V218.2H549.4ZM457.6 218.2H461.0V221.6H457.6ZM549.4 218.2H556.2V221.6H549.4ZM549.4 221.6H559.6V225.0H549.4ZM461.0 225.0H464.4V228.4H461.0ZM552.8 225.0H559.6V228.4H552.8ZM552.8 228.4H559.6V231.8H552.8ZM464.4 231.8H467.8V235.2H464.4ZM552.8 231.8H559.6V235.2H552.8ZM464.4 235.2H467.8V238.6H464.4ZM552.8 235.2H559.6V238.6H552.8ZM464.4 238.6H467.8V242.0H464.4ZM552.8 238.6H559.6V242.0H552.8ZM467.8 242.0H471.2V245.4H467.8ZM552.8 242.0H559.6V245.4H552.8ZM471.2 245.4H474.6V248.8H471.2ZM552.8 245.4H559.6V248.8H552.8ZM474.6 248.8H478.0V252.2H474.6ZM549.4 248.8H559.6V252.2H549.4ZM478.0 252.2H481.4V255.6H478.0ZM549.4 252.2H559.6V255.6H549.4ZM484.8 255.6H488.2V259.0H484.8ZM549.4 255.6H559.6V259.0H549.4ZM488.2 259.0H491.6V262.4H488.2ZM546.0 259.0H559.6V262.4H546.0ZM491.6 262.4H495.0V265.8H491.6ZM546.0 262.4H556.2V265.8H546.0ZM495.0 265.8H498.4V269.2H495.0ZM542.6 265.8H556.2V269.2H542.6ZM501.8 269.2H505.2V272.6H501.8ZM539.2 269.2H552.8V272.6H539.2ZM505.2 272.6H508.6V276.0H505.2ZM539.2 272.6H549.4V276.0H539.2ZM508.6 276.0H512.0V279.4H508.6ZM532.4 276.0H549.4V279.4H532.4ZM512.0 279.4H518.8V282.8H512.0ZM529.0 279.4H542.6V282.8H529.0ZM518.8 282.8H539.2V286.2H518.8ZM522.2 286.2H535.8V289.6H522.2Z"/>
<path fill="#00ff5f" d="M474.6 153.6H495.0V157.0H474.6ZM440.6 157.0H471.2V160.4H440.6ZM495.0 157.0H501.8V160.4H495.0ZM433.8 160.4H447.4V163.8H433.8ZM501.8 160.4H508.6V163.8H501.8ZM433.8 163.8H440.6V167.2H433.8ZM505.2 163.8H512.0V167.2H505.2ZM430.4 167.2H440.6V170.6H430.4ZM508.6 167.2H515.4V170.6H508.6ZM430.4 170.6H437.2V174.0H430.4ZM512.0 170.6H515.4V174.0H512.0ZM430.4 174.0H437.2V177.4H430.4ZM515.4 174.0H518.8V177.4H515.4ZM430.4 177.4H437.2V180.8H430.4ZM515.4 177.4H522.2V180.8H515.4ZM430.4 180.8H437.2V184.2H430.4ZM518.8 180.8H525.6V184.2H518.8ZM430.4 184.2H437.2V187.6H430.4ZM522.2 184.2H529.0V187.6H522.2ZM430.4 187.6H437.2V191.0H430.4ZM525.6 187.6H532.4V191.0H525.6ZM430.4 191.0H437.2V194.4H430.4ZM529.0 191.0H535.8V194.4H529.0ZM433.8 194.4H437.2V197.8H433.8ZM532.4 194.4H539.2V197.8H532.4ZM433.8 197.8H440.6V201.2H433.8ZM535.8 197.8H542.6V201.2H535.8ZM437.2 201.2H444.0V204.6H437.2ZM535.8 201.2H542.6V204.6H535.8ZM440.6 204.6H447.4V208.0H440.6ZM539.2 204.6H546.0V208.0H539.2ZM447.4 208.0H454.2V211.4H447.4ZM539.2 208.0H546.0V211.4H539.2ZM454.2 211.4H457.6V214.8H454.2ZM542.6 211.4H549.4V214.8H542.6ZM457.6 214.8H461.0V218.2H457.6ZM542.6 214.8H549.4V218.2H542.6ZM461.0 218.2H464.4V221.6H461.0ZM542.6 218.2H549.4V221.6H542.6ZM461.0 221.6H467.8V225.0H461.0ZM546.0 221.6H549.4V225.0H546.0ZM464.4 225.0H467.8V228.4H464.4ZM546.0 225.0H552.8V228.4H546.0ZM464.4 228.4H467.8V231.8H464.4ZM546.0 228.4H552.8V231.8H546.0ZM467.8 231.8H471.2V235.2H467.8ZM546.0 231.8H552.8V235.2H546.0ZM467.8 235.2H471.2V238.6H467.8ZM546.0 235.2H552.8V238.6H546.0ZM467.8 238.6H471.2V242.0H467.8ZM546.0 238.6H552.8V242.0H546.0ZM471.2 242.0H474.6V245.4H471.2ZM546.0 242.0H552.8V245.4H546.0ZM474.6 245.4H478.0V248.8H474.6ZM542.6 245.4H552.8V248.8H542.6ZM478.0 248.8H481.4V252.2H478.0ZM542.6 248.8H549.4V252.2H542.6ZM481.4 252.2H484.8V255.6H481.4ZM542.6 252.2H549.4V255.6H542.6ZM539.2 255.6H549.4V259.0H539.2ZM491.6 259.0H495.0V262.4H491.6ZM535.8 259.0H546.0V262.4H535.8ZM495.0 262.4H498.4V265.8H495.0ZM535.8 262.4H546.0V265.8H535.8ZM498.4 265.8H505.2V269.2H498.4ZM532.4 265.8H542.6V269.2H532.4ZM505.2 269.2H508.6V272.6H505.2ZM529.0 269.2H539.2V272.6H529.0ZM508.6 272.6H512.0V276.0H508.6ZM525.6 272.6H539.2V276.0H525.6ZM512.0 276.0H532.4V279.4H512.0ZM518.8 279.4H529.0V282.8H518.8Z"/>
<path fill="#00ff46" d="M471.2 157.0H495.0V160.4H471.2ZM447.4 160.4H467.8V163.8H447.4ZM495.0 160.4H501.8V163.8H495.0ZM440.6 163.8H450.8V167.2H440.6ZM498.4 163.8H505.2V167.2H498.4ZM440.6 167.2H447.4V170.6H440.6ZM501.8 167.2H508.6V170.6H501.8ZM437.2 170.6H444.0V174.0H437.2ZM505.2 170.6H512.0V174.0H505.2ZM437.2 174.0H440.6V177.4H437.2ZM508.6 174.0H515.4V177.4H508.6ZM437.2 177.4H440.6V180.8H437.2ZM512.0 177.4H515.4V180.8H512.0ZM437.2 180.8H440.6V184.2H437.2ZM515.4 180.8H518.8V184.2H515.4ZM437.2 184.2H440.6V187.6H437.2ZM515.4 184.2H522.2V187.6H515.4ZM437.2 187.6H440.6V191.0H437.2ZM518.8 187.6H525.6V191.0H518.8ZM437.2 191.0H440.6V194.4H437.2ZM522.2 191.0H529.0V194.4H522.2ZM437.2 194.4H444.0V197.8H437.2ZM525.6 194.4H532.4V197.8H525.6ZM440.6 197.8H447.4V201.2H440.6ZM529.0 197.8H535.8V201.2H529.0ZM444.0 201.2H450.8V204.6H444.0ZM532.4 201.2H535.8V204.6H532.4ZM447.4 204.6H454.2V208.0H447.4ZM532.4 204.6H539.2V208.0H532.4ZM454.2 208.0H461.0V211.4H454.2ZM535.8 208.0H539.2V211.4H535.8ZM457.6 211.4H464.4V214.8H457.6ZM535.8 211.4H542.6V214.8H535.8ZM461.0 214.8H464.4V218.2H461.0ZM535.8 214.8H542.6V218.2H535.8ZM464.4 218.2H467.8V221.6H464.4ZM539.2 218.2H542.6V221.6H539.2ZM467.8 221.6H471.2V225.0H467.8ZM539.2 221.6H546.0V225.0H539.2ZM467.8 225.0H471.2V228.4H467.8ZM539.2 225.0H546.0V228.4H539.2ZM467.8 228.4H471.2V231.8H467.8ZM539.2 228.4H546.0V231.8H539.2ZM471.2 231.8H474.6V235.2H471.2ZM539.2 231.8H546.0V235.2H539.2ZM471.2 235.2H474.6V238.6H471.2ZM539.2 235.2H546.0V238.6H539.2ZM471.2 238.6H474.6V242.0H471.2ZM539.2 238.6H546.0V242.0H539.2ZM474.6 242.0H478.0V245.4H474.6ZM535.8 242.0H546.0V245.4H535.8ZM478.0 245.4H481.4V248.8H478.0ZM535.8 245.4H542.6V248.8H535.8ZM481.4 248.8H484.8V252.2H481.4ZM535.8 248.8H542.6V252.2H535.8ZM484.8 252.2H488.2V255.6H484.8ZM532.4 252.2H542.6V255.6H532.4ZM488.2 255.6H495.0V259.0H488.2ZM532.4 255.6H539.2V259.0H532.4ZM495.0 259.0H498.4V262.4H495.0ZM529.0 259.0H535.8V262.4H529.0ZM498.4 262.4H505.2V265.8H498.4ZM525.6 262.4H535.8V265.8H525.6ZM505.2 265.8H512.0V269.2H505.2ZM518.8 265.8H532.4V269.2H518.8ZM508.6 269.2H529.0V272.6H508.6ZM512.0 272.6H525.6V276.0H512.0Z"/>
<path fill="#00ff2c" d="M467.8 160.4H495.0V163.8H467.8ZM450.8 163.8H474.6V167.2H450.8ZM484.8 163.8H498.4V167.2H484.8ZM447.4 167.2H454.2V170.6H447.4ZM495.0 167.2H501.8V170.6H495.0ZM444.0 170.6H450.8V174.0H444.0ZM498.4 170.6H505.2V174.0H498.4ZM440.6 174.0H447.4V177.4H440.6ZM501.8 174.0H508.6V177.4H501.8ZM440.6 177.4H447.4V180.8H440.6ZM505.2 177.4H512.0V180.8H505.2ZM440.6 180.8H444.0V184.2H440.6ZM508.6 180.8H515.4V184.2H508.6ZM440.6 184.2H444.0V187.6H440.6ZM512.0 184.2H515.4V187.6H512.0ZM440.6 187.6H447.4V191.0H440.6ZM515.4 187.6H518.8V191.0H515.4ZM440.6 191.0H447.4V194.4H440.6ZM518.8 191.0H522.2V194.4H518.8ZM444.0 194.4H450.8V197.8H444.0ZM522.2 194.4H525.6V197.8H522.2ZM447.4 197.8H454.2V201.2H447.4ZM522.2 197.8H529.0V201.2H522.2ZM450.8 201.2H457.6V204.6H450.8ZM525.6 201.2H532.4V204.6H525.6ZM454.2 204.6H464.4V208.0H454.2ZM529.0 204.6H532.4V208.0H529.0ZM461.0 208.0H464.4V211.4H461.0ZM529.0 208.0H535.8V211.4H529.0ZM464.4 211.4H467.8V214.8H464.4ZM532.4 211.4H535.8V214.8H532.4ZM464.4 214.8H471.2V218.2H464.4ZM532.4 214.8H535.8V218.2H532.4ZM467.8 218.2H471.2V221.6H467.8ZM532.4 218.2H539.2V221.6H532.4ZM471.2 221.6H474.6V225.0H471.2ZM532.4 221.6H539.2V225.0H532.4ZM471.2 225.0H474.6V228.4H471.2ZM532.4 225.0H539.2V228.4H532.4ZM471.2 228.4H474.6V231.8H471.2ZM532.4 228.4H539.2V231.8H532.4ZM474.6 231.8H478.0V235.2H474.6ZM532.4 231.8H539.2V235.2H532.4ZM474.6 235.2H478.0V238.6H474.6ZM532.4 235.2H539.2V238.6H532.4ZM474.6 238.6H478.0V242.0H474.6ZM532.4 238.6H539.2V242.0H532.4ZM478.0 242.0H481.4V245.4H478.0ZM532.4 242.0H535.8V245.4H532.4ZM481.4 245.4H484.8V248.8H481.4ZM529.0 245.4H535.8V248.8H529.0ZM484.8 248.8H488.2V252.2H484.8ZM529.0 248.8H535.8V252.2H529.0ZM488.2 252.2H491.6V255.6H488.2ZM525.6 252.2H532.4V255.6H525.6ZM495.0 255.6H501.8V259.0H495.0ZM522.2 255.6H532.4V259.0H522.2ZM498.4 259.0H529.0V262.4H498.4ZM505.2 262.4H525.6V265.8H505.2ZM512.0 265.8H518.8V269.2H512.0Z"/>
<path fill="#00ff12" d="M474.6 163.8H484.8V167.2H474.6ZM454.2 167.2H495.0V170.6H454.2ZM450.8 170.6H461.0V174.0H450.8ZM491.6 170.6H498.4V174.0H491.6ZM447.4 174.0H454.2V177.4H447.4ZM495.0 174.0H501.8V177.4H495.0ZM447.4 177.4H454.2V180.8H447.4ZM498.4 177.4H505.2V180.8H498.4ZM444.0 180.8H450.8V184.2H444.0ZM501.8 180.8H508.6V184.2H501.8ZM444.0 184.2H450.8V187.6H444.0ZM505.2 184.2H512.0V187.6H505.2ZM447.4 187.6H454.2V191.0H447.4ZM508.6 187.6H515.4V191.0H508.6ZM447.4 191.0H457.6V194.4H447.4ZM512.0 191.0H518.8V194.4H512.0ZM450.8 194.4H461.0V197.8H450.8ZM515.4 194.4H522.2V197.8H515.4ZM454.2 197.8H464.4V201.2H454.2ZM518.8 197.8H522.2V201.2H518.8ZM457.6 201.2H467.8V204.6H457.6ZM522.2 201.2H525.6V204.6H522.2ZM464.4 204.6H471.2V208.0H464.4ZM522.2 204.6H529.0V208.0H522.2ZM464.4 208.0H471.2V211.4H464.4ZM525.6 208.0H529.0V211.4H525.6ZM467.8 211.4H474.6V214.8H467.8ZM529.0 211.4H532.4V214.8H529.0ZM471.2 214.8H474.6V218.2H471.2ZM529.0 214.8H532.4V218.2H529.0ZM471.2 218.2H478.0V221.6H471.2ZM529.0 218.2H532.4V221.6H529.0ZM474.6 221.6H478.0V225.0H474.6ZM529.0 221.6H532.4V225.0H529.0ZM474.6 225.0H478.0V228.4H474.6ZM529.0 225.0H532.4V228.4H529.0ZM474.6 228.4H481.4V231.8H474.6ZM529.0 228.4H532.4V231.8H529.0ZM478.0 231.8H481.4V235.2H478.0ZM529.0 231.8H532.4V235.2H529.0ZM478.0 235.2H481.4V238.6H478.0ZM529.0 235.2H532.4V238.6H529.0ZM478.0 238.6H484.8V242.0H478.0ZM529.0 238.6H532.4V242.0H529.0ZM481.4 242.0H484.8V245.4H481.4ZM525.6 242.0H532.4V245.4H525.6ZM484.8 245.4H488.2V248.8H484.8ZM522.2 245.4H529.0V248.8H522.2ZM488.2 248.8H491.6V252.2H488.2ZM522.2 248.8H529.0V252.2H522.2ZM491.6 252.2H501.8V255.6H491.6ZM515.4 252.2H525.6V255.6H515.4ZM501.8 255.6H522.2V259.0H501.8Z"/>
<path fill="#08ff00" d="M461.0 170.6H491.6V174.0H461.0ZM454.2 174.0H495.0V177.4H454.2ZM454.2 177.4H467.8V180.8H454.2ZM488.2 177.4H498.4V180.8H488.2ZM450.8 180.8H464.4V184.2H450.8ZM495.0 180.8H501.8V184.2H495.0ZM450.8 184.2H464.4V187.6H450.8ZM498.4 184.2H505.2V187.6H498.4ZM454.2 187.6H464.4V191.0H454.2ZM501.8 187.6H508.6V191.0H501.8ZM457.6 191.0H467.8V194.4H457.6ZM505.2 191.0H512.0V194.4H505.2ZM461.0 194.4H471.2V197.8H461.0ZM508.6 194.4H515.4V197.8H508.6ZM464.4 197.8H474.6V201.2H464.4ZM512.0 197.8H518.8V201.2H512.0ZM467.8 201.2H474.6V204.6H467.8ZM518.8 201.2H522.2V204.6H518.8ZM471.2 204.6H478.0V208.0H471.2ZM518.8 204.6H522.2V208.0H518.8ZM471.2 208.0H478.0V211.4H471.2ZM522.2 208.0H525.6V211.4H522.2ZM474.6 211.4H481.4V214.8H474.6ZM525.6 211.4H529.0V214.8H525.6ZM474.6 214.8H481.4V218.2H474.6ZM525.6 214.8H529.0V218.2H525.6ZM478.0 218.2H481.4V221.6H478.0ZM525.6 218.2H529.0V221.6H525.6ZM478.0 221.6H481.4V225.0H478.0ZM525.6 221.6H529.0V225.0H525.6ZM478.0 225.0H484.8V228.4H478.0ZM525.6 225.0H529.0V228.4H525.6ZM481.4 228.4H484.8V231.8H481.4ZM525.6 228.4H529.0V231.8H525.6ZM481.4 231.8H484.8V235.2H481.4ZM525.6 231.8H529.0V235.2H525.6ZM481.4 235.2H488.2V238.6H481.4ZM525.6 235.2H529.0V238.6H525.6ZM484.8 238.6H488.2V242.0H484.8ZM525.6 238.6H529.0V242.0H525.6ZM484.8 242.0H491.6V245.4H484.8ZM522.2 242.0H525.6V245.4H522.2ZM488.2 245.4H491.6V248.8H488.2ZM518.8 245.4H522.2V248.8H518.8ZM491.6 248.8H498.4V252.2H491.6ZM515.4 248.8H522.2V252.2H515.4ZM501.8 252.2H515.4V255.6H501.8Z"/>
<path fill="#22ff00" d="M467.8 177.4H488.2V180.8H467.8ZM464.4 180.8H495.0V184.2H464.4ZM464.4 184.2H498.4V187.6H464.4ZM464.4 187.6H501.8V191.0H464.4ZM467.8 191.0H505.2V194.4H467.8ZM471.2 194.4H484.8V197.8H471.2ZM498.4 194.4H508.6V197.8H498.4ZM474.6 197.8H484.8V201.2H474.6ZM508.6 197.8H512.0V201.2H508.6ZM474.6 201.2H484.8V204.6H474.6ZM512.0 201.2H518.8V204.6H512.0ZM478.0 204.6H484.8V208.0H478.0ZM478.0 208.0H484.8V211.4H478.0ZM518.8 208.0H522.2V211.4H518.8ZM481.4 211.4H484.8V214.8H481.4ZM522.2 211.4H525.6V214.8H522.2ZM481.4 214.8H484.8V218.2H481.4ZM522.2 214.8H525.6V218.2H522.2ZM481.4 218.2H484.8V221.6H481.4ZM481.4 221.6H484.8V225.0H481.4ZM484.8 225.0H488.2V228.4H484.8ZM484.8 228.4H488.2V231.8H484.8ZM484.8 231.8H488.2V235.2H484.8ZM522.2 235.2H525.6V238.6H522.2ZM488.2 238.6H491.6V242.0H488.2ZM522.2 238.6H525.6V242.0H522.2ZM491.6 242.0H495.0V245.4H491.6ZM518.8 242.0H522.2V245.4H518.8ZM491.6 245.4H498.4V248.8H491.6ZM515.4 245.4H518.8V248.8H515.4ZM498.4 248.8H515.4V252.2H498.4Z"/>
<path fill="#3cff00" d="M484.8 194.4H498.4V197.8H484.8ZM484.8 197.8H508.6V201.2H484.8ZM484.8 201.2H498.4V204.6H484.8ZM508.6 201.2H512.0V204.6H508.6ZM484.8 204.6H491.6V208.0H484.8ZM515.4 204.6H518.8V208.0H515.4ZM484.8 208.0H491.6V211.4H484.8ZM484.8 211.4H488.2V214.8H484.8ZM518.8 211.4H522.2V214.8H518.8ZM484.8 214.8H488.2V218.2H484.8ZM484.8 218.2H488.2V221.6H484.8ZM522.2 218.2H525.6V221.6H522.2ZM484.8 221.6H488.2V225.0H484.8ZM522.2 221.6H525.6V225.0H522.2ZM522.2 225.0H525.6V228.4H522.2ZM522.2 228.4H525.6V231.8H522.2ZM488.2 231.8H491.6V235.2H488.2ZM522.2 231.8H525.6V235.2H522.2ZM488.2 235.2H491.6V238.6H488.2ZM491.6 238.6H495.0V242.0H491.6ZM518.8 238.6H522.2V242.0H518.8ZM495.0 242.0H498.4V245.4H495.0ZM515.4 242.0H518.8V245.4H515.4ZM498.4 245.4H505.2V248.8H498.4ZM508.6 245.4H515.4V248.8H508.6Z"/>
<path fill="#56ff00" d="M498.4 201.2H508.6V204.6H498.4ZM491.6 204.6H498.4V208.0H491.6ZM508.6 204.6H515.4V208.0H508.6ZM491.6 208.0H495.0V211.4H491.6ZM515.4 208.0H518.8V211.4H515.4ZM488.2 211.4H491.6V214.8H488.2ZM488.2 214.8H491.6V218.2H488.2ZM518.8 214.8H522.2V218.2H518.8ZM488.2 218.2H491.6V221.6H488.2ZM488.2 221.6H491.6V225.0H488.2ZM488.2 225.0H491.6V228.4H488.2ZM488.2 228.4H491.6V231.8H488.2ZM491.6 235.2H495.0V238.6H491.6ZM518.8 235.2H522.2V238.6H518.8ZM512.0 242.0H515.4V245.4H512.0ZM505.2 245.4H508.6V248.8H505.2Z"/>
<path fill="#70ff00" d="M498.4 204.6H508.6V208.0H498.4ZM495.0 208.0H498.4V211.4H495.0ZM512.0 208.0H515.4V211.4H512.0ZM491.6 211.4H495.0V214.8H491.6ZM515.4 211.4H518.8V214.8H515.4ZM491.6 214.8H495.0V218.2H491.6ZM518.8 218.2H522.2V221.6H518.8ZM518.8 228.4H522.2V231.8H518.8ZM491.6 231.8H495.0V235.2H491.6ZM518.8 231.8H522.2V235.2H518.8ZM495.0 238.6H498.4V242.0H495.0ZM515.4 238.6H518.8V242.0H515.4ZM498.4 242.0H505.2V245.4H498.4ZM508.6 242.0H512.0V245.4H508.6Z"/>
<path fill="#8aff00" d="M498.4 208.0H501.8V211.4H498.4ZM508.6 208.0H512.0V211.4H508.6ZM495.0 211.4H498.4V214.8H495.0ZM491.6 218.2H495.0V221.6H491.6ZM491.6 221.6H495.0V225.0H491.6ZM518.8 221.6H522.2V225.0H518.8ZM491.6 225.0H495.0V228.4H491.6ZM518.8 225.0H522.2V228.4H518.8ZM491.6 228.4H495.0V231.8H491.6ZM495.0 235.2H498.4V238.6H495.0ZM515.4 235.2H518.8V238.6H515.4ZM498.4 238.6H501.8V242.0H498.4ZM512.0 238.6H515.4V242.0H512.0ZM505.2 242.0H508.6V245.4H505.2Z"/>
<path fill="#a4ff00" d="M501.8 208.0H508.6V211.4H501.8ZM512.0 211.4H515.4V214.8H512.0ZM515.4 214.8H518.8V218.2H515.4ZM515.4 231.8H518.8V235.2H515.4Z"/>
<path fill="#beff00" d="M498.4 211.4H501.8V214.8H498.4ZM495.0 214.8H498.4V218.2H495.0ZM515.4 218.2H518.8V221.6H515.4ZM495.0 231.8H498.4V235.2H495.0ZM512.0 235.2H515.4V238.6H512.0ZM501.8 238.6H512.0V242.0H501.8Z"/>
<path fill="#d7ff00" d="M501.8 211.4H512.0V214.8H501.8ZM512.0 214.8H515.4V218.2H512.0ZM495.0 218.2H498.4V221.6H495.0ZM495.0 221.6H498.4V225.0H495.0ZM515.4 221.6H518.8V225.0H515.4ZM495.0 225.0H498.4V228.4H495.0ZM515.4 225.0H518.8V228.4H515.4ZM495.0 228.4H498.4V231.8H495.0ZM515.4 228.4H518.8V231.8H515.4ZM498.4 235.2H501.8V238.6H498.4Z"/>
<path fill="#f1ff00" d="M498.4 214.8H501.8V218.2H498.4ZM512.0 231.8H515.4V235.2H512.0ZM501.8 235.2H505.2V238.6H501.8ZM508.6 235.2H512.0V238.6H508.6Z"/>
<path fill="#fff300" d="M501.8 214.8H505.2V218.2H501.8ZM508.6 214.8H512.0V218.2H508.6ZM498.4 218.2H501.8V221.6H498.4ZM512.0 218.2H515.4V221.6H512.0ZM498.4 231.8H501.8V235.2H498.4ZM505.2 235.2H508.6V238.6H505.2Z"/>
<path fill="#ffd900" d="M505.2 214.8H508.6V218.2H505.2ZM512.0 221.6H515.4V225.0H512.0ZM498.4 228.4H501.8V231.8H498.4ZM512.0 228.4H515.4V231.8H512.0Z"/>
<path fill="#ffbf00" d="M508.6 218.2H512.0V221.6H508.6ZM498.4 221.6H501.8V225.0H498.4ZM498.4 225.0H501.8V228.4H498.4ZM512.0 225.0H515.4V228.4H512.0ZM501.8 231.8H512.0V235.2H501.8Z"/>
<path fill="#ffa500" d="M501.8 218.2H508.6V221.6H501.8ZM508.6 228.4H512.0V231.8H508.6Z"/>
<path fill="#ff8b00" d="M501.8 221.6H505.2V225.0H501.8ZM508.6 221.6H512.0V225.0H508.6ZM501.8 225.0H505.2V228.4H501.8ZM508.6 225.0H512.0V228.4H508.6ZM501.8 228.4H508.6V231.8H501.8Z"/>
<path fill="#ff7100" d="M505.2 221.6H508.6V225.0H505.2ZM505.2 225.0H508.6V228.4H505.2Z"/>
</g>
<path d="M168.5 38V465M236.5 38V465M304.5 38V465M372.5 38V465M440.5 38V465M507.5 38V465M576.5 38V465M155 397.5H575M155 329.5H575M155 259.5H575M155 188.5H575M155 115.5H575M155 38.5H575" stroke="#000" stroke-width="1" fill="none" shape-rendering="crispEdges"/>
<path d="M168.4 411.5L178.0 421.4M173.6 420.5L178.0 421.4L177.3 416.9M168.4 384.2L175.0 396.3M171.0 394.3L175.0 396.3L175.5 391.8M168.4 343.0L156.2 349.5M158.3 345.5L156.2 349.5L160.7 350.0M168.4 301.5L155.8 307.2M158.1 303.3L155.8 307.2L160.3 308.0M182.0 356.7L169.2 362.0M171.7 358.2L169.2 362.0L173.6 363.0M182.0 343.0L168.2 343.5M171.8 340.8L168.2 343.5L172.0 345.9M182.0 329.2L168.4 331.5M171.6 328.4L168.4 331.5L172.5 333.4M182.0 315.4L168.7 318.9M171.6 315.5L168.7 318.9L172.9 320.5M182.0 301.5L169.0 306.2M171.6 302.5L169.0 306.2L173.4 307.4M195.6 370.5L182.6 375.2M185.2 371.5L182.6 375.2L187.0 376.3M195.6 356.7L182.1 359.5M185.2 356.2L182.1 359.5L186.2 361.3M195.6 343.0L181.9 344.2M185.3 341.3L181.9 344.2L185.8 346.5M195.6 329.2L181.9 330.7M185.3 327.7L181.9 330.7L185.8 332.9M195.6 315.4L182.1 318.0M185.2 314.8L182.1 318.0L186.2 319.8M209.2 452.3L210.1 466.1M207.3 462.6L210.1 466.1L212.4 462.2M209.2 384.2L199.0 393.4M200.0 389.0L199.0 393.4L203.4 392.8M209.2 343.0L195.6 345.1M198.8 342.0L195.6 345.1L199.6 347.1M209.2 329.2L195.6 331.4M198.8 328.2L195.6 331.4L199.6 333.3M209.2 315.4L195.7 318.2M198.8 314.9L195.7 318.2L199.8 319.9M222.8 452.3L219.7 465.7M218.0 461.6L219.7 465.7L223.0 462.7M222.8 425.1L218.5 438.2M217.2 433.9L218.5 438.2L222.1 435.5M222.8 411.5L217.0 424.0M216.2 419.6L217.0 424.0L220.9 421.7M222.8 384.2L212.6 393.5M213.6 389.1L212.6 393.5L217.1 392.9M222.8 370.5L211.1 377.8M212.9 373.6L211.1 377.8L215.6 378.0M222.8 356.7L209.9 361.5M212.4 357.8L209.9 361.5L214.2 362.7M222.8 343.0L209.5 346.6M212.4 343.1L209.5 346.6L213.7 348.1M236.4 425.1L230.1 437.4M229.5 432.9L230.1 437.4L234.1 435.3M236.4 411.5L229.6 423.5M229.2 419.0L229.6 423.5L233.7 421.5M236.4 397.8L228.5 409.2M228.5 404.7L228.5 409.2L232.8 407.6M236.4 370.5L224.7 377.8M226.5 373.6L224.7 377.8L229.2 378.0M236.4 356.7L223.8 362.5M226.1 358.6L223.8 362.5L228.3 363.3M250.0 452.3L244.6 465.0M243.7 460.6L244.6 465.0L248.4 462.6M250.0 411.5L243.6 423.7M243.0 419.2L243.6 423.7L247.6 421.6M250.0 397.8L242.7 409.5M242.5 405.0L242.7 409.5L246.8 407.8M250.0 384.2L240.3 393.9M241.0 389.5L240.3 393.9L244.7 393.1M250.0 370.5L238.0 377.4M240.0 373.3L238.0 377.4L242.5 377.8M250.0 356.7L237.7 363.1M239.8 359.1L237.7 363.1L242.2 363.7M250.0 343.0L237.5 348.8M239.7 344.9L237.5 348.8L241.9 349.6M250.0 202.6L241.6 213.6M241.8 209.1L241.6 213.6L245.9 212.2M263.6 452.3L258.9 465.3M257.7 460.9L258.9 465.3L262.6 462.7M263.6 438.7L258.6 451.6M257.6 447.2L258.6 451.6L262.4 449.1M263.6 425.1L258.2 437.8M257.3 433.4L258.2 437.8L262.0 435.4M263.6 411.5L257.7 423.9M256.9 419.5L257.7 423.9L261.6 421.7M263.6 397.8L256.6 409.7M256.2 405.2L256.6 409.7L260.7 407.8M263.6 384.2L254.5 394.6M255.0 390.1L254.5 394.6L258.9 393.5M263.6 370.5L252.8 379.0M254.1 374.7L252.8 379.0L257.3 378.8M263.6 356.7L252.0 364.2M253.7 360.1L252.0 364.2L256.5 364.4M263.6 343.0L251.7 349.9M253.6 345.9L251.7 349.9L256.2 350.3M263.6 329.2L251.7 336.2M253.6 332.1L251.7 336.2L256.2 336.6M263.6 217.0L254.4 227.2M254.9 222.8L254.4 227.2L258.8 226.2M263.6 188.2L255.6 199.4M255.6 194.9L255.6 199.4L259.8 197.9M277.2 452.3L273.2 465.5M271.8 461.2L273.2 465.5L276.8 462.7M277.2 438.7L272.9 451.8M271.6 447.5L272.9 451.8L276.5 449.1M277.2 425.1L272.5 438.1M271.3 433.7L272.5 438.1L276.2 435.5M277.2 397.8L271.2 410.2M270.4 405.8L271.2 410.2L275.1 408.0M277.2 384.2L269.2 395.4M269.2 390.9L269.2 395.4L273.4 393.9M277.2 370.5L267.4 380.2M268.2 375.8L267.4 380.2L271.9 379.4M277.2 356.7L266.6 365.6M267.8 361.2L266.6 365.6L271.1 365.2M277.2 343.0L266.1 351.2M267.5 347.0L266.1 351.2L270.6 351.1M277.2 329.2L266.2 337.5M267.6 333.2L266.2 337.5L270.7 337.4M277.2 231.2L267.4 240.9M268.2 236.5L267.4 240.9L271.8 240.2M277.2 217.0L267.8 227.1M268.4 222.6L267.8 227.1L272.2 226.1M277.2 202.6L268.3 213.2M268.7 208.7L268.3 213.2L272.7 212.0M277.2 173.7L268.1 184.1M268.6 179.6L268.1 184.1L272.5 183.0M290.8 452.3L287.4 465.7M285.8 461.5L287.4 465.7L290.8 462.7M290.8 411.5L286.2 424.5M285.0 420.1L286.2 424.5L289.9 421.9M290.8 397.8L285.4 410.5M284.5 406.1L285.4 410.5L289.2 408.1M290.8 384.2L283.9 396.1M283.5 391.6L283.9 396.1L288.0 394.2M290.8 370.5L282.6 381.5M282.7 377.0L282.6 381.5L286.8 380.1M290.8 356.7L281.7 367.1M282.2 362.6L281.7 367.1L286.1 366.0M290.8 343.0L281.2 352.9M281.9 348.5L281.2 352.9L285.7 352.1M290.8 329.2L281.4 339.3M282.0 334.9L281.4 339.3L285.8 338.4M290.8 315.4L281.9 326.0M282.3 321.5L281.9 326.0L286.3 324.8M290.8 259.5L281.1 269.4M281.9 265.0L281.1 269.4L285.6 268.6M290.8 245.4L280.6 254.7M281.6 250.4L280.6 254.7L285.1 254.2M290.8 231.2L280.6 240.5M281.6 236.1L280.6 240.5L285.0 239.9M290.8 217.0L281.0 226.7M281.8 222.3L281.0 226.7L285.5 225.9M290.8 188.2L280.4 197.3M281.5 193.0L280.4 197.3L284.9 196.8M304.4 438.7L301.2 452.1M299.6 447.9L301.2 452.1L304.6 449.1M304.4 425.1L301.0 438.5M299.4 434.3L301.0 438.5L304.4 435.5M304.4 397.8L299.9 410.9M298.7 406.5L299.9 410.9L303.5 408.2M304.4 384.2L298.6 396.7M297.8 392.2L298.6 396.7L302.5 394.4M304.4 370.5L297.5 382.4M297.1 377.9L297.5 382.4L301.6 380.5M304.4 356.7L296.7 368.2M296.6 363.7L296.7 368.2L300.9 366.6M304.4 343.0L296.5 354.3M296.5 349.8L296.5 354.3L300.7 352.8M304.4 329.2L296.6 340.6M296.6 336.1L296.6 340.6L300.8 339.0M304.4 315.4L297.0 327.0M296.8 322.5L297.0 327.0L301.1 325.3M304.4 301.5L296.8 313.0M296.7 308.5L296.8 313.0L301.0 311.4M304.4 287.6L296.5 298.9M296.5 294.4L296.5 298.9L300.7 297.3M304.4 273.6L295.5 284.1M295.9 279.7L295.5 284.1L299.9 283.0M304.4 259.5L294.6 269.3M295.4 264.9L294.6 269.3L299.1 268.5M304.4 245.4L294.0 254.5M295.1 250.1L294.0 254.5L298.5 254.0M304.4 231.2L293.7 239.9M294.9 235.6L293.7 239.9L298.2 239.6M304.4 217.0L293.5 225.5M294.8 221.2L293.5 225.5L298.0 225.2M304.4 188.2L292.5 195.2M294.4 191.1L292.5 195.2L297.0 195.6M318.0 425.1L315.2 438.6M313.4 434.5L315.2 438.6L318.5 435.5M318.0 411.5L314.7 424.9M313.1 420.7L314.7 424.9L318.1 421.9M318.0 397.8L314.0 411.0M312.6 406.8L314.0 411.0L317.6 408.2M318.0 384.2L313.0 397.0M311.9 392.6L313.0 397.0L316.7 394.5M318.0 370.5L312.0 382.9M311.3 378.4L312.0 382.9L315.9 380.7M318.0 356.7L311.5 368.9M310.9 364.4L311.5 368.9L315.5 366.9M318.0 343.0L311.3 355.0M310.8 350.6L311.3 355.0L315.3 353.1M318.0 329.2L311.3 341.3M310.9 336.8L311.3 341.3L315.4 339.3M318.0 315.4L311.5 327.6M311.0 323.1L311.5 327.6L315.5 325.5M318.0 301.5L311.1 313.4M310.7 308.9L311.1 313.4L315.1 311.5M318.0 287.6L310.3 299.0M310.2 294.5L310.3 299.0L314.5 297.4M318.0 273.6L309.3 284.3M309.6 279.8L309.3 284.3L313.6 283.0M318.0 259.5L308.2 269.3M309.0 264.8L308.2 269.3L312.7 268.5M318.0 245.4L307.4 254.2M308.6 249.9L307.4 254.2L311.9 253.9M318.0 231.2L306.7 239.1M308.2 234.9L306.7 239.1L311.2 239.1M318.0 217.0L306.4 224.4M308.1 220.2L306.4 224.4L310.9 224.6M318.0 202.6L305.8 209.1M307.9 205.1L305.8 209.1L310.3 209.7M318.0 188.2L305.2 193.3M307.6 189.5L305.2 193.3L309.6 194.3M318.0 173.7L305.0 178.2M307.6 174.6L305.0 178.2L309.3 179.4M331.6 411.5L328.8 425.0M327.0 420.8L328.8 425.0L332.1 421.9M331.6 397.8L328.3 411.2M326.6 407.0L328.3 411.2L331.7 408.3M331.6 384.2L327.3 397.3M326.0 392.9L327.3 397.3L330.9 394.6M331.6 370.5L326.2 383.2M325.3 378.8L326.2 383.2L330.0 380.8M331.6 356.7L325.9 369.3M325.1 364.9L325.9 369.3L329.8 367.0M331.6 343.0L325.8 355.5M325.0 351.1L325.8 355.5L329.7 353.3M331.6 329.2L325.7 341.7M324.9 337.2L325.7 341.7L329.6 339.5M331.6 315.4L325.6 327.8M324.9 323.4L325.6 327.8L329.5 325.6M331.6 301.5L325.1 313.7M324.6 309.2L325.1 313.7L329.1 311.6M331.6 287.6L324.3 299.3M324.1 294.8L324.3 299.3L328.4 297.5M331.6 273.6L323.1 284.4M323.3 279.9L323.1 284.4L327.4 283.1M331.6 259.5L321.8 269.3M322.6 264.9L321.8 269.3L326.3 268.5M331.6 245.4L321.0 254.2M322.2 249.9L321.0 254.2L325.5 253.9M331.6 231.2L320.2 239.1M321.8 234.8L320.2 239.1L324.7 239.1M331.6 217.0L319.7 223.9M321.6 219.8L319.7 223.9L324.2 224.3M331.6 202.6L319.1 208.5M321.3 204.6L319.1 208.5L323.5 209.2M331.6 188.2L318.6 192.8M321.2 189.2L318.6 192.8L322.9 194.0M331.6 173.7L318.3 177.3M321.2 173.8L318.3 177.3L322.5 178.8M345.2 397.8L342.4 411.3M340.6 407.2L342.4 411.3L345.7 408.2M345.2 384.2L341.6 397.5M340.1 393.2L341.6 397.5L345.1 394.6M345.2 370.5L340.8 383.6M339.5 379.2L340.8 383.6L344.4 380.9M345.2 356.7L340.4 369.7M339.2 365.3L340.4 369.7L344.1 367.1M345.2 343.0L340.2 355.8M339.1 351.5L340.2 355.8L343.9 353.4M345.2 329.2L340.0 342.0M339.0 337.6L340.0 342.0L343.8 339.5M345.2 315.4L339.8 328.1M338.9 323.7L339.8 328.1L343.6 325.7M345.2 301.5L339.1 313.9M338.4 309.4L339.1 313.9L343.1 311.7M345.2 287.6L338.2 299.4M337.8 295.0L338.2 299.4L342.3 297.6M345.2 273.6L337.0 284.7M337.1 280.2L337.0 284.7L341.3 283.3M345.2 259.5L335.8 269.6M336.4 265.2L335.8 269.6L340.2 268.7M345.2 245.4L334.8 254.5M335.9 250.1L334.8 254.5L339.3 254.0M345.2 231.2L333.9 239.1M335.4 234.9L333.9 239.1L338.4 239.1M345.2 217.0L333.4 224.1M335.2 220.0L333.4 224.1L337.9 224.4M345.2 202.6L332.9 208.8M335.0 204.9L332.9 208.8L337.3 209.5M345.2 188.2L332.4 193.5M334.9 189.7L332.4 193.5L336.8 194.5M345.2 173.7L332.2 178.4M334.8 174.7L332.2 178.4L336.6 179.6M358.8 384.2L356.0 397.7M354.2 393.5L356.0 397.7L359.3 394.6M358.8 370.5L355.2 383.8M353.7 379.6L355.2 383.8L358.7 380.9M358.8 356.7L354.9 370.0M353.5 365.7L354.9 370.0L358.4 367.2M358.8 343.0L354.5 356.1M353.2 351.8L354.5 356.1L358.1 353.4M358.8 329.2L354.3 342.2M353.0 337.9L354.3 342.2L357.9 339.6M358.8 315.4L353.9 328.3M352.8 323.9L353.9 328.3L357.6 325.7M358.8 301.5L353.2 314.1M352.4 309.7L353.2 314.1L357.1 311.8M358.8 287.6L352.3 299.7M351.8 295.3L352.3 299.7L356.3 297.7M358.8 273.6L351.2 285.1M351.0 280.6L351.2 285.1L355.3 283.4M358.8 259.5L349.9 270.1M350.3 265.6L349.9 270.1L354.3 268.9M358.8 245.4L348.9 255.0M349.7 250.6L348.9 255.0L353.3 254.3M358.8 231.2L348.0 239.8M349.3 235.5L348.0 239.8L352.5 239.5M358.8 217.0L347.4 224.7M349.0 220.5L347.4 224.7L351.9 224.8M358.8 202.6L346.8 209.5M348.8 205.5L346.8 209.5L351.3 209.9M358.8 188.2L346.6 194.6M348.6 190.6L346.6 194.6L351.0 195.2M358.8 173.7L346.4 179.7M348.6 175.7L346.4 179.7L350.8 180.4M358.8 159.1L346.5 165.3M348.6 161.3L346.5 165.3L350.9 165.9M372.4 384.2L370.9 397.9M368.7 393.9L370.9 397.9L373.9 394.5M372.4 370.5L369.7 384.0M367.9 379.9L369.7 384.0L372.9 380.9M372.4 356.7L369.0 370.1M367.4 365.9L369.0 370.1L372.4 367.2M372.4 343.0L368.7 356.3M367.2 352.1L368.7 356.3L372.2 353.4M372.4 329.2L368.5 342.4M367.1 338.2L368.5 342.4L372.0 339.6M372.4 315.4L368.1 328.5M366.8 324.2L368.1 328.5L371.7 325.8M372.4 301.5L367.5 314.4M366.4 310.0L367.5 314.4L371.2 311.9M372.4 287.6L366.7 300.1M365.8 295.7L366.7 300.1L370.5 297.8M372.4 273.6L365.5 285.5M365.1 281.0L365.5 285.5L369.6 283.6M372.4 259.5L364.2 270.7M364.3 266.2L364.2 270.7L368.5 269.2M372.4 245.4L363.1 255.6M363.7 251.2L363.1 255.6L367.5 254.6M372.4 231.2L362.1 240.5M363.2 236.1L362.1 240.5L366.6 239.9M372.4 217.0L361.5 225.4M362.8 221.1L361.5 225.4L366.0 225.2M372.4 202.6L361.0 210.4M362.6 206.2L361.0 210.4L365.5 210.5M372.4 188.2L360.8 195.7M362.5 191.6L360.8 195.7L365.3 195.9M372.4 173.7L360.9 181.3M362.5 177.1L360.9 181.3L365.4 181.4M372.4 159.1L361.1 167.0M362.6 162.8L361.1 167.0L365.6 167.0M386.0 384.2L387.7 397.8M384.7 394.5L387.7 397.8L389.8 393.9M386.0 370.5L384.9 384.2M382.6 380.3L384.9 384.2L387.8 380.7M386.0 356.7L384.3 370.4M382.2 366.5L384.3 370.4L387.3 367.1M386.0 343.0L383.6 356.6M381.7 352.5L383.6 356.6L386.8 353.4M386.0 329.2L383.4 342.8M381.5 338.6L383.4 342.8L386.6 339.6M386.0 315.4L382.5 328.7M380.9 324.5L382.5 328.7L385.9 325.8M386.0 301.5L381.8 314.6M380.5 310.4L381.8 314.6L385.4 311.9M386.0 287.6L381.3 300.5M380.1 296.2L381.3 300.5L385.0 297.9M386.0 273.6L380.0 286.0M379.3 281.6L380.0 286.0L384.0 283.8M386.0 259.5L378.7 271.2M378.5 266.7L378.7 271.2L382.8 269.5M386.0 245.4L377.5 256.3M377.7 251.8L377.5 256.3L381.8 255.0M386.0 231.2L376.4 241.2M377.1 236.7L376.4 241.2L380.8 240.3M386.0 217.0L375.6 226.0M376.7 221.6L375.6 226.0L380.0 225.5M386.0 202.6L375.1 211.1M376.4 206.8L375.1 211.1L379.6 210.9M386.0 188.2L375.2 196.8M376.5 192.5L375.2 196.8L379.7 196.5M386.0 173.7L375.5 182.6M376.6 178.3L375.5 182.6L380.0 182.2M386.0 159.1L376.1 168.7M376.9 164.2L376.1 168.7L380.5 167.9M399.6 343.0L402.7 356.4M399.3 353.4L402.7 356.4L404.4 352.3M399.6 329.2L400.3 343.0M397.6 339.4L400.3 343.0L402.7 339.2M399.6 315.4L397.2 329.0M395.3 324.9L397.2 329.0L400.4 325.8M399.6 301.5L396.5 314.9M394.8 310.8L396.5 314.9L399.8 311.9M399.6 287.6L395.9 300.9M394.4 296.6L395.9 300.9L399.4 298.0M399.6 273.6L394.8 286.5M393.6 282.2L394.8 286.5L398.5 284.0M399.6 259.5L393.5 271.9M392.8 267.4L393.5 271.9L397.4 269.7M399.6 245.4L392.1 257.0M391.9 252.5L392.1 257.0L396.3 255.3M399.6 231.2L390.7 241.8M391.1 237.3L390.7 241.8L395.1 240.6M399.6 217.0L389.8 226.6M390.6 222.2L389.8 226.6L394.2 225.9M399.6 202.6L389.3 211.8M390.3 207.4L389.3 211.8L393.7 211.3M399.6 188.2L389.4 197.5M390.4 193.1L389.4 197.5L393.8 196.9M399.6 173.7L390.0 183.6M390.7 179.1L390.0 183.6L394.4 182.7M399.6 159.1L390.4 169.4M390.9 164.9L390.4 169.4L394.8 168.3M399.6 144.3L390.6 154.8M391.0 150.3L390.6 154.8L394.9 153.7M413.2 438.7L411.4 425.0M414.4 428.3L411.4 425.0L409.3 429.0M413.2 425.1L413.6 411.3M416.1 415.0L413.6 411.3L410.9 414.9M413.2 411.5L420.5 399.7M420.7 404.2L420.5 399.7L416.3 401.5M413.2 356.7L425.1 363.7M420.6 364.1L425.1 363.7L423.2 359.6M413.2 329.2L420.5 340.9M416.4 339.2L420.5 340.9L420.7 336.4M413.2 315.4L414.5 329.1M411.6 325.7L414.5 329.1L416.7 325.2M413.2 301.5L411.4 315.2M409.4 311.2L411.4 315.2L414.5 311.9M413.2 287.6L410.8 301.2M408.9 297.1L410.8 301.2L414.0 298.0M413.2 273.6L409.8 287.0M408.2 282.8L409.8 287.0L413.2 284.0M413.2 259.5L408.5 272.5M407.3 268.2L408.5 272.5L412.2 269.9M413.2 245.4L407.0 257.8M406.4 253.3L407.0 257.8L411.0 255.6M413.2 231.2L405.5 242.7M405.4 238.2L405.5 242.7L409.7 241.1M413.2 217.0L404.0 227.3M404.6 222.8L404.0 227.3L408.4 226.3M413.2 202.6L403.0 211.9M404.0 207.5L403.0 211.9L407.4 211.3M413.2 188.2L403.4 197.9M404.2 193.4L403.4 197.9L407.8 197.1M413.2 173.7L404.3 184.3M404.7 179.8L404.3 184.3L408.7 183.1M413.2 159.1L404.7 169.9M404.9 165.4L404.7 169.9L409.0 168.6M413.2 144.3L404.9 155.4M405.1 150.9L404.9 155.4L409.2 154.0M413.2 129.5L404.6 140.3M404.9 135.8L404.6 140.3L409.0 139.0M426.8 425.1L431.2 412.0M432.4 416.3L431.2 412.0L427.5 414.7M426.8 411.5L436.5 401.6M435.7 406.1L436.5 401.6L432.1 402.4M426.8 370.5L440.6 370.0M437.0 372.7L440.6 370.0L436.8 367.6M426.8 343.0L439.8 347.5M435.5 348.7L439.8 347.5L437.2 343.8M426.8 315.4L431.5 328.4M427.8 325.8L431.5 328.4L432.7 324.0M426.8 301.5L426.3 315.3M423.8 311.5L426.3 315.3L429.0 311.7M426.8 287.6L425.5 301.3M423.3 297.4L425.5 301.3L428.4 297.9M426.8 273.6L424.9 287.3M422.9 283.3L424.9 287.3L428.0 283.9M426.8 259.5L423.9 273.0M422.2 268.9L423.9 273.0L427.2 270.0M426.8 245.4L422.2 258.4M421.0 254.1L422.2 258.4L425.8 255.8M426.8 231.2L420.4 243.4M419.8 239.0L420.4 243.4L424.4 241.4M426.8 217.0L418.6 228.1M418.7 223.6L418.6 228.1L422.9 226.7M426.8 202.6L417.3 212.7M418.0 208.2L417.3 212.7L421.8 211.8M426.8 188.2L417.1 198.1M417.9 193.6L417.1 198.1L421.6 197.2M426.8 173.7L417.8 184.1M418.2 179.6L417.8 184.1L422.1 183.0M426.8 159.1L418.6 170.2M418.7 165.7L418.6 170.2L422.9 168.7M426.8 144.3L419.3 155.9M419.1 151.4L419.3 155.9L423.5 154.2M426.8 129.5L418.9 140.8M418.9 136.3L418.9 140.8L423.1 139.3M426.8 114.6L417.8 125.0M418.2 120.5L417.8 125.0L422.1 123.9M440.4 452.3L442.8 438.7M444.7 442.8L442.8 438.7L439.6 441.9M440.4 425.1L452.4 418.2M450.4 422.3L452.4 418.2L447.9 417.8M440.4 411.5L451.9 403.8M450.2 408.0L451.9 403.8L447.4 403.7M440.4 397.8L452.1 390.4M450.3 394.6L452.1 390.4L447.6 390.2M440.4 384.2L453.0 378.5M450.7 382.4L453.0 378.5L448.6 377.7M440.4 370.5L453.9 367.7M450.8 370.9L453.9 367.7L449.8 365.9M440.4 356.7L454.2 357.2M450.4 359.7L454.2 357.2L450.6 354.5M440.4 343.0L453.9 345.8M449.8 347.6L453.9 345.8L450.8 342.5M440.4 329.2L452.9 335.0M448.5 335.8L452.9 335.0L450.7 331.1M440.4 315.4L448.7 326.4M444.4 325.0L448.7 326.4L448.5 321.9M440.4 301.5L443.6 314.9M440.3 311.9L443.6 314.9L445.3 310.7M440.4 287.6L441.4 301.3M438.6 297.8L441.4 301.3L443.7 297.5M440.4 273.6L440.5 287.4M437.9 283.7L440.5 287.4L443.1 283.7M440.4 259.5L439.0 273.3M436.8 269.3L439.0 273.3L442.0 269.8M440.4 231.2L434.8 243.8M433.9 239.4L434.8 243.8L438.7 241.5M440.4 217.0L433.2 228.7M432.9 224.2L433.2 228.7L437.3 226.9M440.4 202.6L430.9 212.6M431.6 208.2L430.9 212.6L435.3 211.7M440.4 188.2L430.5 197.9M431.4 193.4L430.5 197.9L435.0 197.1M440.4 173.7L430.9 183.7M431.6 179.3L430.9 183.7L435.3 182.8M440.4 159.1L432.3 170.2M432.4 165.7L432.3 170.2L436.5 168.8M440.4 144.3L432.5 155.7M432.5 151.2L432.5 155.7L436.7 154.1M440.4 129.5L432.7 141.0M432.6 136.5L432.7 141.0L436.9 139.3M440.4 114.6L431.1 124.8M431.7 120.3L431.1 124.8L435.5 123.8M440.4 99.5L429.7 108.2M430.9 103.9L429.7 108.2L434.2 107.9M454.0 438.7L467.8 438.7M464.1 441.3L467.8 438.7L464.1 436.1M454.0 425.1L467.5 422.1M464.4 425.4L467.5 422.1L463.3 420.3M454.0 411.5L466.3 405.2M464.2 409.2L466.3 405.2L461.9 404.6M454.0 397.8L465.6 390.3M463.9 394.5L465.6 390.3L461.1 390.2M454.0 356.7L467.8 356.7M464.1 359.3L467.8 356.7L464.1 354.2M454.0 343.0L467.6 345.2M463.6 347.2L467.6 345.2L464.4 342.1M454.0 329.2L467.0 333.9M462.6 335.1L467.0 333.9L464.4 330.2M454.0 301.5L460.5 313.7M456.5 311.6L460.5 313.7L461.0 309.2M454.0 202.6L444.7 212.8M445.3 208.3L444.7 212.8L449.1 211.8M454.0 188.2L444.0 197.7M444.9 193.3L444.0 197.7L448.4 197.0M454.0 173.7L444.0 183.2M444.9 178.7L444.0 183.2L448.4 182.5M454.0 159.1L444.6 169.2M445.2 164.7L444.6 169.2L449.0 168.2M454.0 114.6L443.8 123.9M444.8 119.5L443.8 123.9L448.3 123.3M454.0 99.5L442.7 107.5M444.3 103.3L442.7 107.5L447.2 107.5M454.0 84.3L441.9 90.9M443.9 86.9L441.9 90.9L446.3 91.4M454.0 69.0L441.2 74.2M443.7 70.4L441.2 74.2L445.6 75.2M467.6 425.1L481.3 423.9M477.9 426.8L481.3 423.9L477.5 421.6M467.6 411.5L480.7 407.2M478.0 410.8L480.7 407.2L476.4 405.9M467.6 397.8L479.7 391.2M477.7 395.2L479.7 391.2L475.2 390.7M467.6 384.2L480.0 378.1M477.8 382.1L480.0 378.1L475.6 377.4M467.6 356.7L481.4 356.5M477.8 359.1L481.4 356.5L477.7 354.0M467.6 329.2L480.2 334.9M475.8 335.7L480.2 334.9L477.9 331.0M467.6 301.5L475.8 312.6M471.5 311.2L475.8 312.6L475.7 308.1M467.6 287.6L473.2 300.2M469.4 297.8L473.2 300.2L474.1 295.7M467.6 259.5L468.7 273.3M465.8 269.8L468.7 273.3L471.0 269.4M467.6 245.4L465.7 259.1M463.7 255.1L465.7 259.1L468.8 255.8M467.6 202.6L457.7 212.3M458.6 207.9L457.7 212.3L462.2 211.5M467.6 188.2L457.1 197.1M458.2 192.8L457.1 197.1L461.6 196.7M467.6 173.7L457.2 182.8M458.3 178.4L457.2 182.8L461.7 182.3M467.6 159.1L457.2 168.2M458.3 163.8L457.2 168.2L461.7 167.7M467.6 144.3L457.2 153.4M458.3 149.1L457.2 153.4L461.7 152.9M467.6 129.5L457.1 138.5M458.2 134.1L457.1 138.5L461.6 138.1M467.6 114.6L456.6 122.9M458.0 118.6L456.6 122.9L461.1 122.7M467.6 99.5L455.9 106.8M457.7 102.7L455.9 106.8L460.4 107.0M467.6 84.3L455.1 90.1M457.3 86.2L455.1 90.1L459.5 90.9M467.6 53.5L454.1 56.4M457.2 53.1L454.1 56.4L458.3 58.2M481.2 452.3L491.5 443.1M490.5 447.5L491.5 443.1L487.0 443.6M481.2 425.1L494.6 428.3M490.4 430.0L494.6 428.3L491.6 424.9M481.2 411.5L495.0 410.5M491.5 413.3L495.0 410.5L491.1 408.2M481.2 397.8L493.2 390.9M491.2 395.0L493.2 390.9L488.7 390.5M481.2 370.5L494.4 366.4M491.6 369.9L494.4 366.4L490.1 365.0M481.2 343.0L493.8 348.5M489.4 349.4L493.8 348.5L491.5 344.7M481.2 301.5L489.4 312.6M485.2 311.2L489.4 312.6L489.3 308.1M481.2 287.6L487.2 300.0M483.2 297.8L487.2 300.0L487.9 295.6M481.2 259.5L484.0 273.0M480.7 270.0L484.0 273.0L485.8 268.9M481.2 245.4L481.2 259.2M478.6 255.5L481.2 259.2L483.8 255.5M481.2 231.2L476.7 244.3M475.4 239.9L476.7 244.3L480.3 241.6M481.2 217.0L472.6 227.8M472.9 223.3L472.6 227.8L476.9 226.5M481.2 202.6L470.2 211.0M471.6 206.7L470.2 211.0L474.7 210.8M481.2 188.2L469.9 196.2M471.5 191.9L469.9 196.2L474.4 196.2M481.2 173.7L470.1 181.9M471.5 177.6L470.1 181.9L474.6 181.8M481.2 159.1L470.1 167.2M471.5 163.0L470.1 167.2L474.6 167.1M481.2 144.3L470.0 152.4M471.5 148.2L470.0 152.4L474.5 152.4M481.2 129.5L470.2 137.8M471.6 133.6L470.2 137.8L474.7 137.7M481.2 114.6L470.1 122.7M471.5 118.4L470.1 122.7L474.6 122.6M481.2 99.5L469.4 106.6M471.2 102.5L469.4 106.6L473.8 106.9M481.2 84.3L468.5 89.6M470.9 85.8L468.5 89.6L472.9 90.6M481.2 69.0L467.9 72.5M470.8 69.0L467.9 72.5L472.1 74.0M494.8 425.1L506.4 432.6M501.9 432.8L506.4 432.6L504.7 428.4M494.8 411.5L508.1 415.3M503.8 416.7L508.1 415.3L505.2 411.8M494.8 397.8L507.3 391.9M505.0 395.8L507.3 391.9L502.8 391.1M494.8 384.2L506.2 376.4M504.6 380.6L506.2 376.4L501.7 376.3M494.8 329.2L501.7 341.1M497.7 339.2L501.7 341.1L502.1 336.6M494.8 259.5L501.1 271.8M497.2 269.7L501.1 271.8L501.7 267.3M494.8 245.4L498.6 258.7M495.1 255.8L498.6 258.7L500.1 254.4M494.8 231.2L490.8 244.4M489.4 240.2L490.8 244.4L494.3 241.7M494.8 217.0L484.5 226.1M485.5 221.7L484.5 226.1L488.9 225.6M494.8 202.6L482.5 208.8M484.6 204.9L482.5 208.8L486.9 209.5M494.8 188.2L482.4 194.2M484.6 190.3L482.4 194.2L486.8 194.9M494.8 173.7L483.0 180.8M484.8 176.7L483.0 180.8L487.5 181.1M494.8 159.1L483.1 166.4M484.9 162.2L483.1 166.4L487.6 166.6M494.8 144.3L483.0 151.6M484.8 147.4L483.0 151.6L487.5 151.8M494.8 129.5L483.4 137.3M485.0 133.1L483.4 137.3L487.9 137.4M494.8 114.6L483.9 123.1M485.2 118.8L483.9 123.1L488.4 122.8M494.8 99.5L483.1 106.8M484.9 102.7L483.1 106.8L487.6 107.1M494.8 84.3L482.1 89.8M484.5 85.9L482.1 89.8L486.5 90.7M494.8 69.0L481.5 72.5M484.4 69.0L481.5 72.5L485.7 74.0M494.8 53.5L481.1 55.4M484.4 52.3L481.1 55.4L485.1 57.4M508.4 452.3L516.1 463.7M511.9 462.1L516.1 463.7L516.2 459.2M508.4 438.7L514.9 450.9M510.9 448.8L514.9 450.9L515.5 446.4M508.4 425.1L514.4 437.5M510.5 435.3L514.4 437.5L515.1 433.1M508.4 411.5L515.5 423.3M511.4 421.4L515.5 423.3L515.8 418.8M508.4 397.8L522.1 399.3M518.2 401.4L522.1 399.3L518.7 396.3M508.4 384.2L521.6 380.3M518.8 383.8L521.6 380.3L517.4 378.8M508.4 329.2L512.1 342.5M508.7 339.6L512.1 342.5L513.6 338.2M508.4 315.4L511.9 328.7M508.5 325.8L511.9 328.7L513.5 324.5M508.4 287.6L514.7 299.8M510.7 297.7L514.7 299.8L515.3 295.4M508.4 273.6L517.5 284.0M513.1 282.9L517.5 284.0L517.0 279.5M508.4 259.5L519.4 267.9M514.9 267.7L519.4 267.9L518.0 263.6M508.4 245.4L519.0 254.3M514.5 253.9L519.0 254.3L517.8 249.9M508.4 231.2L502.7 243.8M501.9 239.4L502.7 243.8L506.6 241.5M508.4 217.0L494.9 220.0M498.0 216.7L494.9 220.0L499.1 221.7M508.4 202.6L494.7 204.1M498.1 201.1L494.7 204.1L498.6 206.3M508.4 188.2L494.9 191.1M498.0 187.8L494.9 191.1L499.0 192.8M508.4 173.7L495.6 178.8M498.0 175.0L495.6 178.8L500.0 179.8M508.4 159.1L495.9 165.0M498.2 161.1L495.9 165.0L500.4 165.7M508.4 144.3L496.1 150.6M498.2 146.6L496.1 150.6L500.5 151.2M508.4 129.5L496.6 136.6M498.4 132.5L496.6 136.6L501.0 136.9M508.4 114.6L497.0 122.4M498.6 118.2L497.0 122.4L501.5 122.4M508.4 99.5L496.6 106.7M498.4 102.5L496.6 106.7L501.1 107.0M508.4 84.3L495.8 89.9M498.1 86.0L495.8 89.9L500.2 90.7M508.4 69.0L495.1 72.5M498.0 69.1L495.1 72.5L499.3 74.1M508.4 53.5L494.7 55.2M498.0 52.2L494.7 55.2L498.7 57.3M522.0 452.3L520.6 466.0M518.4 462.1L520.6 466.0L523.6 462.6M522.0 438.7L522.0 452.5M519.4 448.8L522.0 452.5L524.6 448.8M522.0 425.1L523.0 438.8M520.2 435.4L523.0 438.8L525.3 435.0M522.0 411.5L523.2 425.2M520.3 421.8L523.2 425.2L525.4 421.3M522.0 397.8L525.6 411.1M522.2 408.2L525.6 411.1L527.2 406.9M522.0 384.2L527.7 396.7M523.8 394.4L527.7 396.7L528.5 392.3M522.0 329.2L523.0 343.0M520.2 339.5L523.0 343.0L525.3 339.1M522.0 315.4L523.5 329.1M520.6 325.7L523.5 329.1L525.7 325.1M522.0 301.5L525.5 314.8M522.1 311.9L525.5 314.8L527.1 310.6M522.0 287.6L529.3 299.3M525.2 297.5L529.3 299.3L529.6 294.8M522.0 273.6L533.5 281.1M529.0 281.3L533.5 281.1L531.9 277.0M522.0 259.5L535.6 262.0M531.5 263.9L535.6 262.0L532.4 258.8M522.0 245.4L535.4 242.2M532.4 245.5L535.4 242.2L531.2 240.5M522.0 231.2L522.5 217.4M524.9 221.2L522.5 217.4L519.8 221.0M522.0 217.0L510.5 209.3M515.0 209.2L510.5 209.3L512.2 213.5M522.0 202.6L509.0 198.0M513.3 196.8L509.0 198.0L511.6 201.7M522.0 188.2L508.3 186.8M512.2 184.6L508.3 186.8L511.7 189.7M522.0 173.7L508.6 177.0M511.6 173.6L508.6 177.0L512.8 178.6M522.0 159.1L508.9 163.3M511.6 159.7L508.9 163.3L513.2 164.6M522.0 144.3L509.0 148.9M511.6 145.3L509.0 148.9L513.3 150.1M522.0 129.5L509.8 135.9M511.8 131.9L509.8 135.9L514.2 136.5M522.0 114.6L510.4 122.0M512.1 117.9L510.4 122.0L514.9 122.2M522.0 99.5L510.2 106.6M512.0 102.5L510.2 106.6L514.6 106.9M522.0 84.3L509.4 89.9M511.7 86.0L509.4 89.9L513.8 90.7M522.0 69.0L508.7 72.5M511.6 69.0L508.7 72.5L512.9 74.0M522.0 53.5L508.3 54.7M511.7 51.8L508.3 54.7L512.1 56.9M535.6 452.3L533.9 466.0M531.8 462.0L533.9 466.0L536.9 462.7M535.6 438.7L533.9 452.4M531.8 448.4L533.9 452.4L536.9 449.0M535.6 425.1L533.9 438.8M531.8 434.8L533.9 438.8L536.9 435.4M535.6 411.5L534.7 425.2M532.4 421.4L534.7 425.2L537.5 421.7M535.6 397.8L535.2 411.6M532.8 407.9L535.2 411.6L537.9 408.0M535.6 384.2L534.9 397.9M532.5 394.1L534.9 397.9L537.6 394.4M535.6 370.5L536.0 384.3M533.3 380.6L536.0 384.3L538.5 380.5M535.6 356.7L536.1 370.5M533.4 366.9L536.1 370.5L538.5 366.8M535.6 343.0L535.6 356.8M533.0 353.1L535.6 356.8L538.2 353.1M535.6 329.2L536.3 343.0M533.5 339.4L536.3 343.0L538.7 339.2M535.6 315.4L537.5 329.0M534.4 325.7L537.5 329.0L539.5 325.0M535.6 301.5L540.1 314.5M536.4 311.9L540.1 314.5L541.3 310.2M535.6 287.6L544.1 298.4M539.8 297.1L544.1 298.4L543.9 294.0M535.6 273.6L548.0 279.6M543.5 280.3L548.0 279.6L545.8 275.7M535.6 259.5L549.4 258.7M545.8 261.5L549.4 258.7L545.5 256.4M535.6 245.4L546.8 237.4M545.3 241.7L546.8 237.4L542.3 237.4M535.6 231.2L538.6 217.8M540.3 221.9L538.6 217.8L535.3 220.8M535.6 217.0L529.4 204.6M533.4 206.8L529.4 204.6L528.7 209.1M535.6 202.6L525.3 193.4M529.8 194.0L525.3 193.4L526.3 197.8M535.6 188.2L523.0 182.5M527.5 181.7L523.0 182.5L525.3 186.4M535.6 173.7L521.8 172.6M525.7 170.3L521.8 172.6L525.3 175.5M535.6 159.1L521.9 160.8M525.2 157.8L521.9 160.8L525.9 162.9M535.6 144.3L522.2 147.7M525.2 144.3L522.2 147.7L526.4 149.3M535.6 129.5L523.0 135.1M525.3 131.3L523.0 135.1L527.4 136.0M535.6 114.6L524.2 122.3M525.8 118.1L524.2 122.3L528.7 122.4M535.6 99.5L523.6 106.4M525.6 102.3L523.6 106.4L528.1 106.8M535.6 84.3L522.9 89.6M525.3 85.8L522.9 89.6L527.2 90.6M535.6 69.0L522.2 72.2M525.2 68.8L522.2 72.2L526.4 73.8M535.6 53.5L521.9 54.8M525.3 51.9L521.9 54.8L525.8 57.0M549.2 438.7L547.0 452.3M545.1 448.3L547.0 452.3L550.2 449.1M549.2 425.1L547.1 438.7M545.1 434.7L547.1 438.7L550.2 435.5M549.2 411.5L547.5 425.2M545.4 421.2L547.5 425.2L550.5 421.8M549.2 397.8L548.0 411.6M545.7 407.7L548.0 411.6L550.9 408.1M549.2 384.2L548.1 397.9M545.8 394.0L548.1 397.9L550.9 394.4M549.2 370.5L548.4 384.2M546.1 380.4L548.4 384.2L551.2 380.7M549.2 356.7L548.8 370.5M546.3 366.8L548.8 370.5L551.5 366.9M549.2 343.0L549.3 356.8M546.7 353.1L549.3 356.8L551.8 353.1M549.2 329.2L550.3 343.0M547.4 339.5L550.3 343.0L552.6 339.1M549.2 315.4L551.9 328.9M548.6 325.8L551.9 328.9L553.7 324.8M549.2 301.5L554.5 314.2M550.7 311.8L554.5 314.2L555.5 309.8M549.2 287.6L558.2 298.0M553.9 296.9L558.2 298.0L557.8 293.5M549.2 273.6L561.7 279.5M557.2 280.3L561.7 279.5L559.4 275.6M549.2 259.5L563.0 259.1M559.4 261.8L563.0 259.1L559.2 256.7M549.2 245.4L559.9 236.8M558.7 241.1L559.9 236.8L555.5 237.1M549.2 231.2L552.0 217.7M553.8 221.9L552.0 217.7L548.7 220.8M549.2 217.0L545.8 203.6M549.2 206.5L545.8 203.6L544.2 207.8M549.2 202.6L541.5 191.2M545.7 192.8L541.5 191.2L541.4 195.7M549.2 188.2L538.1 180.0M542.6 180.1L538.1 180.0L539.5 184.2M549.2 173.7L536.0 169.6M540.3 168.2L536.0 169.6L538.8 173.1M549.2 159.1L535.4 158.2M539.3 155.9L535.4 158.2L538.9 161.0M549.2 144.3L535.5 146.2M538.8 143.1L535.5 146.2L539.5 148.2M549.2 129.5L536.2 134.2M538.8 130.5L536.2 134.2L540.5 135.4M549.2 114.6L537.0 121.0M539.1 117.0L537.0 121.0L541.5 121.6M549.2 99.5L537.0 105.9M539.0 101.9L537.0 105.9L541.4 106.5M549.2 84.3L536.3 89.2M538.8 85.5L536.3 89.2L540.7 90.3M549.2 69.0L535.7 71.8M538.8 68.5L535.7 71.8L539.8 73.6M549.2 53.5L535.4 54.5M538.9 51.7L535.4 54.5L539.3 56.8M562.8 452.3L560.5 465.9M558.5 461.8L560.5 465.9L563.6 462.7M562.8 438.7L560.4 452.3M558.5 448.2L560.4 452.3L563.6 449.1M562.8 425.1L560.5 438.7M558.6 434.6L560.5 438.7L563.7 435.5M562.8 411.5L561.0 425.1M558.9 421.1L561.0 425.1L564.0 421.8M562.8 397.8L561.6 411.6M559.3 407.7L561.6 411.6L564.5 408.1M562.8 384.2L561.6 397.9M559.4 394.0L561.6 397.9L564.5 394.4M562.8 370.5L561.9 384.2M559.6 380.4L561.9 384.2L564.7 380.7M562.8 356.7L562.3 370.5M559.9 366.8L562.3 370.5L565.0 366.9M562.8 343.0L563.3 356.8M560.6 353.2L563.3 356.8L565.7 353.0M562.8 329.2L564.5 342.9M561.5 339.6L564.5 342.9L566.6 338.9M562.8 315.4L566.2 328.7M562.8 325.8L566.2 328.7L567.8 324.5M562.8 301.5L568.7 314.0M564.8 311.7L568.7 314.0L569.4 309.6M562.8 287.6L572.1 297.8M567.7 296.8L572.1 297.8L571.5 293.3M562.8 273.6L575.2 279.6M570.8 280.3L575.2 279.6L573.0 275.7M562.8 259.5L576.6 259.1M573.0 261.8L576.6 259.1L572.8 256.7M562.8 245.4L573.2 236.4M572.1 240.7L573.2 236.4L568.7 236.8M562.8 231.2L564.6 217.6M566.7 221.5L564.6 217.6L561.6 220.9M562.8 217.0L560.3 203.4M563.5 206.6L560.3 203.4L558.4 207.5M562.8 202.6L557.1 190.1M561.0 192.4L557.1 190.1L556.3 194.5M562.8 188.2L553.4 178.1M557.8 179.1L553.4 178.1L554.0 182.6M562.8 173.7L550.6 167.2M555.1 166.7L550.6 167.2L552.7 171.2M562.8 159.1L549.3 156.1M553.5 154.4L549.3 156.1L552.4 159.4M562.8 144.3L549.0 144.6M552.6 142.0L549.0 144.6L552.7 147.1M562.8 129.5L549.5 133.2M552.4 129.7L549.5 133.2L553.7 134.7M562.8 114.6L550.4 120.6M552.6 116.7L550.4 120.6L554.8 121.3M562.8 99.5L550.4 105.5M552.6 101.6L550.4 105.5L554.8 106.2M562.8 84.3L549.8 88.9M552.4 85.2L549.8 88.9L554.1 90.1M562.8 69.0L549.2 71.5M552.4 68.3L549.2 71.5L553.3 73.4M562.8 53.5L549.0 54.0M552.6 51.3L549.0 54.0L552.8 56.4M576.4 452.3L574.0 465.9M572.1 461.8L574.0 465.9L577.2 462.7M576.4 438.7L574.0 452.3M572.1 448.2L574.0 452.3L577.2 449.1M576.4 425.1L574.1 438.7M572.2 434.6L574.1 438.7L577.2 435.5M576.4 411.5L574.4 425.1M572.4 421.1L574.4 425.1L577.5 421.8M576.4 397.8L574.9 411.5M572.7 407.6L574.9 411.5L577.9 408.1M576.4 384.2L575.2 397.9M572.9 394.0L575.2 397.9L578.1 394.5M576.4 370.5L575.7 384.2M573.3 380.4L575.7 384.2L578.5 380.7M576.4 356.7L576.4 370.5M573.8 366.9L576.4 370.5L579.0 366.9M576.4 343.0L577.5 356.8M574.6 353.3L577.5 356.8L579.8 352.9M576.4 329.2L578.9 342.8M575.7 339.6L578.9 342.8L580.8 338.7M576.4 315.4L580.5 328.5M577.0 325.8L580.5 328.5L581.9 324.3M576.4 301.5L582.4 313.9M578.5 311.7L582.4 313.9L583.1 309.5M576.4 287.6L585.9 297.5M581.5 296.7L585.9 297.5L585.3 293.1M576.4 273.6L588.8 279.6M584.4 280.3L588.8 279.6L586.6 275.7M576.4 259.5L590.2 260.7M586.3 262.9L590.2 260.7L586.7 257.8M576.4 245.4L587.2 236.8M585.9 241.1L587.2 236.8L582.7 237.1M576.4 231.2L576.7 217.4M579.2 221.2L576.7 217.4L574.1 221.1M576.4 217.0L574.5 203.3M577.6 206.6L574.5 203.3L572.5 207.3M576.4 202.6L572.8 189.3M576.3 192.2L572.8 189.3L571.3 193.5M576.4 188.2L568.4 177.0M572.6 178.5L568.4 177.0L568.4 181.5M576.4 173.7L565.2 165.7M569.7 165.7L565.2 165.7L566.7 169.9M576.4 159.1L563.4 154.5M567.7 153.3L563.4 154.5L566.0 158.2M576.4 144.3L562.7 143.1M566.6 140.9L562.7 143.1L566.1 146.0M576.4 129.5L562.9 132.2M566.0 128.9L562.9 132.2L567.0 134.0M576.4 114.6L564.0 120.6M566.2 116.7L564.0 120.6L568.4 121.3M576.4 99.5L563.9 105.3M566.1 101.4L563.9 105.3L568.3 106.1M576.4 84.3L563.3 88.6M566.0 85.0L563.3 88.6L567.6 89.9M576.4 69.0L562.8 71.5M566.0 68.3L562.8 71.5L566.9 73.3M576.4 53.5L562.6 54.5M566.1 51.6L562.6 54.5L566.5 56.8" stroke="#000078" stroke-width="0.9" fill="none"/>
<g fill="#000" stroke="#000" stroke-linejoin="round" stroke-width="2.4" shape-rendering="crispEdges">
<polygon stroke-width="3.2" points="464.1,270.8 467.3,272.4 471.3,275.7 474.5,279.3 476.1,282.9 474.9,284.5 473.3,280.9 470.5,278.1 467.3,275.7 464.9,274.0"/>
<polygon stroke-width="3.2" points="496.2,272.4 499.4,273.0 499.8,277.0 498.0,279.7 496.0,277.5"/>
<polygon stroke-width="3.2" points="488.0,272.5 493.0,271.5 497.0,273.5 496.0,276.0 491.0,276.5 488.5,275.5"/>
<polygon points="277.5,409.0 280.5,408.5 282.0,412.0 281.0,416.0 278.0,416.5 276.5,413.0"/>
<polygon points="186.5,437.5 190.0,437.0 192.5,440.5 190.5,443.5 187.0,442.0"/>
<polygon points="196.0,444.5 201.0,446.5 204.5,450.5 202.5,452.0 198.0,449.5"/>
<polygon points="203.5,451.5 208.0,453.5 211.5,457.5 209.0,458.5 205.0,456.0"/>
<polygon stroke-width="3.2" points="446.0,262.0 453.7,262.0 461.7,262.0 462.5,266.8 464.1,270.8 463.3,273.2 459.3,275.3 458.1,278.1 455.3,277.7 453.7,274.9 449.6,273.2 448.8,270.0 452.9,266.8 452.0,263.6 449.0,264.5 446.0,264.0"/>
<polygon stroke-width="3.2" points="472.1,270.8 476.1,269.6 479.4,270.8 481.8,274.0 485.0,276.9 488.2,279.3 490.6,282.9 492.2,286.9 494.0,290.0 497.0,293.0 495.5,294.5 491.4,288.9 488.2,286.9 485.8,284.5 483.4,281.3 480.2,278.1 476.9,275.7 473.7,274.0"/>
<polygon stroke-width="3.2" points="464.9,281.2 467.0,280.9 467.9,282.5 466.8,283.9 465.0,283.4"/>
<polygon stroke-width="3.2" points="468.0,292.0 469.5,291.8 470.1,294.7 469.5,297.5 468.2,296.3"/>
<polygon stroke-width="3.2" points="473.5,295.0 475.5,294.5 476.5,296.0 475.3,297.5 473.5,296.8"/>
<polygon points="153.0,36.0 466.7,36.0 466.7,37.0 462.0,45.0 460.3,51.0 459.0,60.7 453.0,67.0 447.5,73.6 444.0,81.6 440.0,88.0 436.0,98.5 431.0,107.0 424.4,113.7 416.4,120.9 410.0,125.7 403.5,132.1 397.1,137.0 392.3,141.8 387.5,145.8 377.8,147.4 372.2,148.2 366.6,149.0 361.8,153.0 357.0,155.4 355.5,151.0 354.5,144.0 352.0,143.5 351.5,150.0 350.5,156.0 348.9,158.6 342.5,161.0 336.0,162.6 329.6,164.3 323.2,166.1 316.7,168.6 311.9,171.0 308.7,172.6 307.9,176.6 310.3,181.4 311.1,184.6 305.5,184.6 303.1,179.8 302.3,175.0 303.1,168.6 300.7,164.5 298.3,163.7 296.7,166.1 294.3,166.9 291.0,164.5 287.8,162.9 284.6,161.3 281.4,163.7 278.2,165.3 273.4,166.9 270.2,169.4 267.8,172.6 262.1,174.2 258.1,175.0 258.1,179.8 255.7,184.6 250.9,188.6 247.7,194.3 245.3,203.1 247.7,208.7 250.2,210.0 256.6,218.0 261.4,224.5 266.2,230.9 272.7,237.3 279.1,242.9 284.7,249.4 288.7,255.8 291.1,263.0 292.7,271.0 293.5,279.1 294.3,285.0 297.5,288.2 295.4,293.0 293.8,299.5 293.0,305.9 289.8,310.7 285.0,314.7 278.5,318.7 272.1,321.9 265.7,323.6 260.9,325.2 259.3,329.2 256.0,333.2 251.2,336.4 244.8,340.4 240.0,343.6 235.2,347.7 234.4,341.2 235.2,333.2 236.7,328.1 230.3,325.7 225.5,324.1 220.7,322.5 217.0,319.0 218.5,315.5 216.0,314.5 214.0,316.5 212.7,313.6 210.2,308.0 206.2,303.2 201.4,299.2 198.2,295.2 193.4,291.9 188.6,292.8 182.1,294.4 179.7,291.1 180.5,287.1 182.1,283.1 180.5,280.7 170.9,280.7 167.7,283.1 169.3,287.1 169.0,296.8 166.1,303.2 163.7,309.6 161.2,316.0 158.0,322.5 157.2,328.9 158.0,335.3 158.8,336.4 162.9,339.6 166.9,341.2 169.3,347.7 172.5,355.7 174.9,363.7 177.3,368.6 182.1,371.8 188.6,372.6 191.8,376.6 198.2,381.4 204.6,386.2 210.2,392.7 214.3,400.7 215.1,408.7 214.1,416.9 215.6,424.1 218.5,430.0 221.4,434.3 224.3,438.7 225.8,443.1 225.0,445.3 219.9,446.0 215.6,446.0 211.2,441.6 205.4,438.7 198.1,434.3 192.2,430.0 187.2,424.9 185.0,418.3 181.3,412.5 177.7,408.1 177.0,402.3 176.5,397.5 174.1,391.0 172.5,381.4 169.3,375.0 164.5,366.9 159.6,360.5 154.8,356.5 153.0,356.0"/>
<polygon points="153.0,417.0 155.1,416.9 160.2,419.0 164.6,422.7 168.2,427.1 171.9,431.4 176.2,435.1 180.6,437.2 187.9,441.6 196.6,445.3 199.5,451.8 205.4,456.2 211.2,459.1 214.0,462.0 216.0,468.0 163.5,468.0 162.5,465.0 158.5,462.5 156.5,458.5 155.5,455.0 153.0,454.0"/>
<polygon points="305.5,188.6 313.5,187.8 317.6,190.2 316.7,195.9 313.5,200.7 310.3,206.3 304.7,210.3 299.1,212.7 293.5,211.1 287.8,207.1 285.9,200.7 287.8,195.9 293.5,192.7 299.1,190.2"/>
<polygon points="461.1,110.7 465.8,113.4 465.2,120.1 463.8,126.8 461.8,133.5 459.1,140.2 456.5,145.5 453.8,150.9 452.4,156.2 451.1,160.2 449.1,154.9 445.1,150.9 442.4,144.2 442.4,136.1 445.1,128.1 449.8,120.1 455.1,114.1 458.5,112.0"/>
<polygon stroke-width="3.2" points="447.7,211.1 452.5,208.7 462.1,211.1 468.6,211.9 471.0,209.5 470.2,215.9 472.6,223.9 474.2,230.3 470.2,236.8 466.6,243.2 464.0,248.0 463.0,254.4 464.8,259.3 466.8,264.1 469.2,268.1 471.8,270.5 473.5,272.5 471.0,274.5 468.0,274.0 465.0,272.5 463.5,274.5 462.1,278.5 461.5,277.0 458.0,277.5 454.1,278.5 450.0,276.5 450.9,275.3 454.1,270.5 452.5,265.7 449.3,267.3 444.5,266.5 441.2,262.5 440.4,254.4 438.0,248.0 438.0,243.2 443.7,241.6 445.3,235.2 446.1,227.1 446.9,219.1"/>
<polygon stroke-width="3.2" points="447.6,281.3 452.0,280.9 456.1,282.1 458.9,285.3 460.1,289.3 459.7,293.3 458.1,295.7 456.1,297.3 454.1,294.9 452.9,291.7 451.2,287.7 449.6,284.5"/>
<polygon stroke-width="3.2" points="499.6,295.9 505.0,294.3 510.3,294.3 513.5,297.5 514.6,302.8 515.7,308.2 515.1,312.5 511.4,313.0 509.3,309.3 507.1,305.0 505.0,301.8 501.8,299.6"/>
<polygon stroke-width="3.2" points="500.7,311.4 505.0,310.9 507.6,314.6 508.7,320.0 510.3,324.3 508.2,327.5 505.5,325.3 505.0,320.0 502.3,316.8"/>
<polygon stroke-width="3.2" points="467.0,303.4 472.8,306.1 478.7,308.7 482.5,309.8 480.9,313.0 477.1,315.7 472.8,318.9 468.6,321.6 467.0,317.8 467.5,311.4"/>
<polygon stroke-width="3.2" points="485.0,296.5 487.4,294.9 491.4,297.3 494.6,300.6 495.6,303.0 493.8,303.6 489.8,299.7 486.2,298.1"/>
<polygon stroke-width="3.2" points="481.4,316.2 485.7,315.7 486.8,320.0 485.2,325.3 484.1,330.7 484.6,336.0 483.0,340.3 480.3,338.2 478.2,335.0 474.5,335.0 473.4,331.8 477.1,329.6 479.3,325.3 480.3,320.0"/>
<polygon stroke-width="3.2" points="492.1,316.8 494.3,317.8 492.1,324.3 488.9,330.7 486.8,336.6 485.2,335.5 487.3,329.6 490.0,322.1"/>
<polygon stroke-width="3.2" points="493.2,330.7 496.9,327.5 500.7,328.5 501.2,331.8 497.5,333.9 493.7,333.4"/>
<polygon stroke-width="3.2" points="491.1,356.9 491.9,351.3 490.7,348.6 486.3,347.6 481.5,350.5 479.1,354.5 474.0,357.8 470.7,362.1 468.8,366.9 466.9,370.1 467.9,371.1 470.3,368.2 472.7,363.4 476.7,361.0 479.1,362.1 481.5,359.4 484.7,360.2 487.1,357.8 493.6,359.4 496.8,363.4 495.2,368.2 496.0,374.6 499.2,380.2 504.8,383.5 509.6,384.3 512.8,387.5 516.0,384.3 518.5,379.4 515.2,374.6 516.8,369.8 520.1,366.6 522.5,373.0 524.1,379.4 524.9,373.0 527.3,369.8 529.7,365.0 528.1,359.4 525.7,352.1 524.9,344.1 520.9,337.7 515.2,333.7 512.8,339.3 510.4,344.1 504.8,344.1 500.0,351.3 496.8,354.5"/>
<polygon stroke-width="3.2" points="398.7,356.6 404.1,347.9 410.8,341.2 417.5,335.2 422.2,329.2 428.2,323.8 432.9,317.8 434.9,313.8 436.9,315.1 435.6,319.1 433.5,323.8 428.2,327.8 422.8,333.9 418.8,339.2 412.1,343.9 406.1,349.3 400.7,358.0"/>
<polygon points="293.6,468.0 293.6,464.3 291.1,458.7 291.1,450.7 292.8,444.3 296.8,439.4 301.6,441.8 308.0,442.6 314.4,443.5 319.3,442.7 320.9,436.2 322.5,431.4 324.1,427.4 330.5,425.8 338.5,423.4 345.0,421.0 349.8,416.1 354.6,410.5 359.4,404.1 365.8,400.1 368.0,397.8 376.1,393.0 380.9,388.2 387.3,383.4 393.7,376.9 398.6,370.5 401.0,368.1 403.4,374.5 408.2,378.6 407.4,383.4 413.0,386.6 419.4,388.2 425.9,390.6 430.7,393.0 424.3,396.2 416.2,397.8 415.4,401.0 421.0,403.5 422.7,405.9 414.6,406.7 408.2,407.5 409.3,412.5 404.5,415.7 406.1,422.0 409.3,428.4 413.2,433.9 410.9,437.1 415.6,442.7 420.4,447.4 425.2,451.4 420.4,453.0 414.0,453.0 410.9,455.4 407.7,458.6 406.1,464.9 406.0,468.0"/>
<polygon points="439.5,468.0 439.5,464.9 441.2,458.5 442.6,453.8 449.7,451.1 453.8,448.2 458.5,449.0 464.9,451.4 471.3,452.2 475.1,453.2 487.8,453.2 498.4,450.0 504.7,444.7 509.0,442.6 510.0,446.9 504.7,453.2 498.4,458.5 487.8,460.6 475.1,459.6 462.4,458.5 451.8,457.5 445.4,460.6 443.0,464.0 442.5,468.0"/>
<polygon points="543.9,437.3 548.2,436.3 550.3,442.6 549.2,449.0 552.4,445.8 557.7,444.7 559.8,451.1 558.8,458.5 555.6,459.6 552.4,455.3 549.2,454.3 547.1,459.6 548.2,464.9 545.0,464.9 542.9,458.5 541.2,451.1 541.8,443.7"/>
<polygon points="551.8,432.0 555.6,430.6 558.1,433.1 556.7,436.7 553.1,437.3 551.4,434.6"/>
</g>
<path d="M467 39h2v1h-2zM462 45h1v1h-1zM464 42h3v1h-3zM465 42h1v2h-1zM466 41h1v1h-1zM462 49h1v1h-1zM463 49h2v2h-2zM463 48h3v2h-3zM463 49h1v1h-1zM461 53h1v2h-1zM461 55h1v1h-1zM460 60h2v2h-2zM461 54h2v2h-2zM460 53h1v1h-1zM454 67h2v1h-2zM456 67h2v2h-2zM453 67h1v1h-1zM457 64h2v2h-2zM456 66h3v1h-3zM450 74h2v2h-2zM452 70h1v2h-1zM452 68h1v1h-1zM448 74h2v1h-2zM451 73h1v2h-1zM446 78h2v2h-2zM447 78h3v2h-3zM447 76h1v2h-1zM447 79h3v2h-3zM447 80h1v1h-1zM442 87h1v1h-1zM441 88h2v2h-2zM442 89h1v1h-1zM444 83h3v1h-3zM438 96h2v1h-2zM439 93h2v2h-2zM441 93h1v1h-1zM442 91h3v2h-3zM438 95h1v1h-1zM440 96h1v1h-1zM435 101h2v1h-2zM438 100h3v2h-3zM433 107h3v1h-3zM433 108h1v1h-1zM436 100h3v2h-3zM431 108h1v2h-1zM429 112h3v1h-3zM427 112h1v2h-1zM426 115h2v1h-2zM429 110h1v2h-1zM418 121h1v2h-1zM419 122h2v2h-2zM424 116h3v2h-3zM422 117h1v2h-1zM420 118h3v2h-3zM421 118h1v1h-1zM417 122h2v2h-2zM415 124h2v1h-2zM416 124h2v1h-2zM413 126h1v2h-1zM408 130h2v1h-2zM412 128h2v1h-2zM411 128h1v2h-1zM408 130h2v1h-2zM411 127h2v1h-2zM404 134h2v2h-2zM401 138h1v2h-1zM399 138h2v2h-2zM403 133h2v1h-2zM399 135h1v2h-1zM397 140h2v1h-2zM395 139h3v1h-3zM397 140h1v2h-1zM395 141h1v1h-1zM390 146h2v1h-2zM392 144h3v2h-3zM390 146h3v1h-3zM390 146h1v1h-1zM386 147h3v1h-3zM383 148h1v2h-1zM381 148h3v1h-3zM382 148h1v1h-1zM386 148h1v2h-1zM376 147h3v1h-3zM377 149h1v1h-1zM377 148h1v2h-1zM377 148h1v1h-1zM372 149h3v2h-3zM368 150h1v1h-1zM373 149h3v2h-3zM364 152h1v1h-1zM367 150h1v2h-1zM366 150h2v2h-2zM368 152h2v2h-2zM362 155h2v2h-2zM358 156h1v1h-1zM358 156h2v1h-2zM358 154h1v1h-1zM357 152h2v2h-2zM358 157h2v2h-2zM356 148h2v2h-2zM355 147h1v2h-1zM356 148h2v1h-2zM355 148h2v1h-2zM352 144h2v2h-2zM353 145h3v2h-3zM353 146h1v1h-1zM352 146h2v1h-2zM353 145h3v2h-3zM353 154h2v1h-2zM351 156h1v2h-1zM352 151h3v1h-3zM350 157h1v1h-1zM352 157h1v1h-1zM348 160h1v2h-1zM346 161h2v1h-2zM350 159h2v1h-2zM336 163h2v2h-2zM339 163h3v1h-3zM343 163h1v2h-1zM342 163h2v1h-2zM334 165h2v1h-2zM336 164h1v1h-1zM336 165h1v1h-1zM335 164h1v2h-1zM328 165h1v1h-1zM329 165h1v2h-1zM329 166h1v2h-1zM329 165h2v1h-2zM323 168h2v1h-2zM318 168h3v2h-3zM322 167h2v2h-2zM323 168h1v1h-1zM318 170h2v2h-2zM313 170h2v1h-2zM314 170h3v1h-3zM311 172h2v2h-2zM312 171h3v1h-3zM309 175h1v2h-1zM310 181h1v2h-1zM309 179h1v2h-1zM311 182h1v1h-1zM305 185h2v2h-2zM306 185h1v2h-1zM304 184h2v1h-2zM303 179h2v1h-2zM303 179h1v2h-1zM303 174h1v1h-1zM303 170h1v1h-1zM302 167h2v1h-2zM301 164h1v2h-1zM299 164h1v2h-1zM296 167h1v2h-1zM294 168h1v1h-1zM291 165h1v1h-1zM288 162h1v1h-1zM282 163h2v2h-2zM280 166h1v2h-1zM278 165h2v1h-2zM276 166h1v1h-1zM271 169h1v2h-1zM272 169h2v1h-2zM269 171h2v2h-2zM266 174h1v2h-1zM267 172h1v1h-1zM262 175h1v1h-1zM259 179h1v1h-1zM259 177h1v1h-1zM257 183h1v2h-1zM253 187h2v1h-2zM254 186h1v2h-1zM250 190h2v2h-2zM248 195h1v2h-1zM247 200h1v1h-1zM247 198h2v1h-2zM247 198h2v2h-2zM247 208h1v2h-1zM247 208h1v1h-1zM248 209h2v2h-2zM252 211h1v1h-1zM257 218h1v1h-1zM266 230h2v2h-2zM272 237h1v1h-1zM278 242h1v2h-1zM283 247h1v2h-1zM288 254h2v1h-2zM290 259h1v1h-1zM292 266h2v2h-2zM293 274h2v2h-2zM295 285h1v2h-1zM297 288h1v2h-1zM298 290h2v2h-2zM294 297h1v2h-1zM294 302h1v1h-1zM292 309h1v1h-1zM286 313h2v2h-2zM280 319h2v2h-2zM277 320h2v1h-2zM268 323h2v1h-2zM264 325h1v2h-1zM260 328h2v1h-2zM259 329h1v1h-1zM252 336h2v1h-2zM246 339h2v1h-2zM243 343h1v2h-1zM235 348h1v2h-1zM452 262h1v2h-1zM453 262h1v1h-1zM448 261h2v1h-2zM455 262h1v2h-1zM460 262h2v2h-2zM456 262h1v2h-1zM461 266h2v1h-2zM464 270h1v2h-1zM465 272h1v1h-1zM463 271h1v1h-1zM461 275h1v2h-1zM460 276h1v1h-1zM455 279h2v2h-2zM455 276h2v1h-2zM450 274h1v2h-1zM453 273h1v2h-1zM450 273h1v2h-1zM452 267h2v1h-2zM451 270h1v2h-1zM453 266h2v2h-2zM450 264h1v2h-1zM447 263h1v2h-1zM446 265h1v2h-1zM463 272h1v2h-1zM469 275h1v2h-1zM472 277h1v2h-1zM473 278h2v1h-2zM474 277h2v2h-2zM474 282h1v2h-1zM477 284h1v2h-1zM476 285h1v1h-1zM471 279h1v2h-1zM470 279h2v2h-2zM466 274h1v1h-1zM465 272h1v1h-1zM473 271h1v2h-1zM479 270h1v1h-1zM479 270h2v2h-2zM483 273h1v2h-1zM485 275h1v1h-1zM485 277h1v2h-1zM489 283h2v2h-2zM490 285h2v1h-2zM493 287h2v1h-2zM493 287h2v1h-2zM497 293h2v1h-2zM495 291h1v1h-1zM498 292h1v2h-1zM494 292h1v1h-1zM494 293h1v2h-1zM492 290h1v2h-1zM487 287h2v1h-2zM487 286h1v1h-1zM483 282h1v1h-1zM477 277h1v2h-1zM475 275h1v1h-1zM471 271h2v1h-2zM451 282h2v2h-2zM451 280h2v1h-2zM455 283h2v2h-2zM457 283h1v1h-1zM459 289h1v2h-1zM461 289h1v1h-1zM461 291h1v2h-1zM459 295h2v2h-2zM459 295h2v1h-2zM457 299h2v1h-2zM455 294h1v2h-1zM451 288h2v1h-2zM452 287h2v2h-2zM447 284h1v1h-1zM486 294h1v1h-1zM488 296h1v2h-1zM492 299h2v1h-2zM491 297h1v1h-1zM495 303h1v2h-1zM494 303h1v2h-1zM490 301h1v1h-1zM487 297h1v2h-1zM487 300h1v1h-1zM486 296h2v2h-2zM499 295h1v2h-1zM499 296h1v2h-1zM507 293h2v2h-2zM510 293h1v1h-1zM513 296h2v2h-2zM514 299h1v2h-1zM514 304h1v2h-1zM514 307h1v1h-1zM516 312h2v2h-2zM516 312h1v1h-1zM512 311h2v2h-2zM511 312h2v1h-2zM507 305h1v2h-1zM505 304h2v1h-2zM505 302h1v1h-1zM501 298h1v1h-1zM505 310h1v2h-1zM505 313h1v1h-1zM509 316h1v2h-1zM508 319h2v1h-2zM511 322h2v2h-2zM507 328h1v1h-1zM508 325h1v1h-1zM504 323h2v1h-2zM503 316h1v1h-1zM501 316h2v2h-2zM503 316h1v1h-1zM469 306h2v2h-2zM471 304h1v2h-1zM474 308h1v2h-1zM478 310h1v1h-1zM480 308h1v2h-1zM479 309h1v2h-1zM482 311h2v2h-2zM480 313h1v2h-1zM480 312h1v2h-1zM478 318h1v1h-1zM469 319h1v2h-1zM469 320h1v1h-1zM467 317h2v2h-2zM466 314h2v2h-2zM466 310h1v2h-1zM469 307h1v1h-1zM467 307h2v2h-2zM483 318h2v1h-2zM482 315h2v2h-2zM487 319h1v2h-1zM488 318h1v1h-1zM486 324h1v2h-1zM486 323h1v2h-1zM485 328h2v2h-2zM484 334h2v2h-2zM483 339h1v2h-1zM482 340h1v1h-1zM482 340h1v2h-1zM479 336h2v2h-2zM477 335h2v2h-2zM472 332h1v2h-1zM477 331h1v1h-1zM473 330h1v1h-1zM479 328h1v1h-1zM477 329h1v1h-1zM480 323h2v1h-2zM481 320h1v2h-1zM492 317h2v2h-2zM491 323h2v1h-2zM494 317h1v1h-1zM490 328h2v1h-2zM489 328h1v1h-1zM493 326h1v2h-1zM487 334h1v2h-1zM488 330h2v1h-2zM485 336h1v1h-1zM485 333h2v2h-2zM484 334h1v1h-1zM489 322h1v2h-1zM487 328h1v1h-1zM491 319h1v2h-1zM491 317h2v1h-2zM494 329h1v2h-1zM494 331h2v1h-2zM499 327h1v2h-1zM500 331h2v1h-2zM500 333h2v1h-2zM495 335h1v1h-1zM493 333h1v1h-1zM399 355h1v2h-1zM402 354h1v2h-1zM401 356h1v1h-1zM410 343h2v1h-2zM407 347h2v1h-2zM407 346h1v2h-1zM416 338h1v2h-1zM415 337h1v1h-1zM412 342h2v1h-2zM420 332h1v1h-1zM421 333h1v2h-1zM421 332h1v2h-1zM427 327h1v2h-1zM427 326h1v1h-1zM433 317h1v1h-1zM429 321h1v2h-1zM433 317h2v2h-2zM435 315h1v2h-1zM437 315h1v2h-1zM437 315h1v1h-1zM436 314h1v2h-1zM435 319h2v1h-2zM437 319h2v2h-2zM430 326h1v2h-1zM434 324h2v2h-2zM426 328h1v2h-1zM426 331h2v1h-2zM427 329h1v1h-1zM420 337h1v1h-1zM424 336h2v2h-2zM412 343h1v1h-1zM417 340h1v1h-1zM412 343h1v1h-1zM408 346h1v1h-1zM408 346h2v1h-2zM405 351h1v1h-1zM404 353h2v1h-2zM401 359h1v2h-1zM402 358h2v1h-2zM496 272h2v2h-2zM500 275h1v1h-1zM498 279h2v1h-2zM495 278h2v2h-2zM497 276h2v1h-2zM490 272h2v1h-2zM491 272h2v2h-2zM497 272h1v1h-1zM498 275h1v2h-1zM494 278h1v1h-1zM490 275h2v1h-2zM489 277h2v2h-2zM492 354h1v1h-1zM490 349h2v2h-2zM492 348h2v2h-2zM483 349h2v2h-2zM480 351h1v1h-1zM476 358h1v2h-1zM470 361h1v2h-1zM469 364h1v2h-1zM466 368h1v1h-1zM466 369h2v1h-2zM468 371h2v1h-2zM471 369h1v1h-1zM475 364h2v1h-2zM479 362h1v2h-1zM482 361h2v2h-2zM483 359h2v2h-2zM487 360h1v2h-1zM489 360h1v1h-1zM494 361h1v2h-1zM495 367h1v1h-1zM494 371h1v1h-1zM496 375h1v1h-1zM501 380h1v1h-1zM508 385h1v2h-1zM512 387h1v1h-1zM515 386h1v2h-1zM519 382h1v1h-1zM515 374h1v1h-1zM516 370h2v1h-2zM520 367h2v2h-2zM523 373h1v2h-1zM523 377h1v2h-1zM526 377h2v1h-2zM527 370h2v2h-2zM531 366h2v1h-2zM530 360h1v2h-1zM526 358h1v2h-1zM525 351h1v1h-1zM524 344h1v2h-1zM518 337h1v2h-1zM514 340h1v1h-1zM511 342h2v2h-2zM511 345h1v2h-1zM500 349h1v1h-1zM499 352h1v1h-1zM495 356h1v2h-1zM449 212h1v1h-1zM453 208h1v1h-1zM462 211h1v1h-1zM469 210h1v2h-1zM472 212h1v1h-1zM469 216h2v1h-2zM472 228h2v2h-2zM474 235h2v2h-2zM471 238h1v2h-1zM463 248h1v2h-1zM462 254h1v1h-1zM464 258h1v1h-1zM466 263h1v1h-1zM468 266h2v2h-2zM471 270h1v2h-1zM473 272h2v1h-2zM473 272h1v2h-1zM470 275h2v1h-2zM467 273h2v2h-2zM465 273h2v1h-2zM462 276h2v1h-2zM462 278h1v2h-1zM459 276h1v1h-1zM458 277h1v2h-1zM451 277h1v2h-1zM449 276h1v2h-1zM453 272h2v1h-2zM451 265h1v1h-1zM451 268h1v1h-1zM448 267h1v1h-1zM443 266h2v1h-2zM441 259h1v2h-1zM441 252h1v1h-1zM439 248h1v2h-1zM437 243h1v2h-1zM445 235h1v2h-1zM445 231h2v1h-2zM446 225h1v1h-1zM448 218h2v1h-2z" fill="#000" shape-rendering="crispEdges"/>
<g fill="#c6c3c6" shape-rendering="crispEdges">
<polygon points="464.1,270.8 467.3,272.4 471.3,275.7 474.5,279.3 476.1,282.9 474.9,284.5 473.3,280.9 470.5,278.1 467.3,275.7 464.9,274.0"/>
<polygon points="496.2,272.4 499.4,273.0 499.8,277.0 498.0,279.7 496.0,277.5"/>
<polygon points="488.0,272.5 493.0,271.5 497.0,273.5 496.0,276.0 491.0,276.5 488.5,275.5"/>
<polygon points="277.5,409.0 280.5,408.5 282.0,412.0 281.0,416.0 278.0,416.5 276.5,413.0"/>
<polygon points="186.5,437.5 190.0,437.0 192.5,440.5 190.5,443.5 187.0,442.0"/>
<polygon points="196.0,444.5 201.0,446.5 204.5,450.5 202.5,452.0 198.0,449.5"/>
<polygon points="203.5,451.5 208.0,453.5 211.5,457.5 209.0,458.5 205.0,456.0"/>
<polygon points="446.0,262.0 453.7,262.0 461.7,262.0 462.5,266.8 464.1,270.8 463.3,273.2 459.3,275.3 458.1,278.1 455.3,277.7 453.7,274.9 449.6,273.2 448.8,270.0 452.9,266.8 452.0,263.6 449.0,264.5 446.0,264.0"/>
<polygon points="472.1,270.8 476.1,269.6 479.4,270.8 481.8,274.0 485.0,276.9 488.2,279.3 490.6,282.9 492.2,286.9 494.0,290.0 497.0,293.0 495.5,294.5 491.4,288.9 488.2,286.9 485.8,284.5 483.4,281.3 480.2,278.1 476.9,275.7 473.7,274.0"/>
<polygon points="464.9,281.2 467.0,280.9 467.9,282.5 466.8,283.9 465.0,283.4"/>
<polygon points="468.0,292.0 469.5,291.8 470.1,294.7 469.5,297.5 468.2,296.3"/>
<polygon points="473.5,295.0 475.5,294.5 476.5,296.0 475.3,297.5 473.5,296.8"/>
<polygon points="153.0,36.0 466.7,36.0 466.7,37.0 462.0,45.0 460.3,51.0 459.0,60.7 453.0,67.0 447.5,73.6 444.0,81.6 440.0,88.0 436.0,98.5 431.0,107.0 424.4,113.7 416.4,120.9 410.0,125.7 403.5,132.1 397.1,137.0 392.3,141.8 387.5,145.8 377.8,147.4 372.2,148.2 366.6,149.0 361.8,153.0 357.0,155.4 355.5,151.0 354.5,144.0 352.0,143.5 351.5,150.0 350.5,156.0 348.9,158.6 342.5,161.0 336.0,162.6 329.6,164.3 323.2,166.1 316.7,168.6 311.9,171.0 308.7,172.6 307.9,176.6 310.3,181.4 311.1,184.6 305.5,184.6 303.1,179.8 302.3,175.0 303.1,168.6 300.7,164.5 298.3,163.7 296.7,166.1 294.3,166.9 291.0,164.5 287.8,162.9 284.6,161.3 281.4,163.7 278.2,165.3 273.4,166.9 270.2,169.4 267.8,172.6 262.1,174.2 258.1,175.0 258.1,179.8 255.7,184.6 250.9,188.6 247.7,194.3 245.3,203.1 247.7,208.7 250.2,210.0 256.6,218.0 261.4,224.5 266.2,230.9 272.7,237.3 279.1,242.9 284.7,249.4 288.7,255.8 291.1,263.0 292.7,271.0 293.5,279.1 294.3,285.0 297.5,288.2 295.4,293.0 293.8,299.5 293.0,305.9 289.8,310.7 285.0,314.7 278.5,318.7 272.1,321.9 265.7,323.6 260.9,325.2 259.3,329.2 256.0,333.2 251.2,336.4 244.8,340.4 240.0,343.6 235.2,347.7 234.4,341.2 235.2,333.2 236.7,328.1 230.3,325.7 225.5,324.1 220.7,322.5 217.0,319.0 218.5,315.5 216.0,314.5 214.0,316.5 212.7,313.6 210.2,308.0 206.2,303.2 201.4,299.2 198.2,295.2 193.4,291.9 188.6,292.8 182.1,294.4 179.7,291.1 180.5,287.1 182.1,283.1 180.5,280.7 170.9,280.7 167.7,283.1 169.3,287.1 169.0,296.8 166.1,303.2 163.7,309.6 161.2,316.0 158.0,322.5 157.2,328.9 158.0,335.3 158.8,336.4 162.9,339.6 166.9,341.2 169.3,347.7 172.5,355.7 174.9,363.7 177.3,368.6 182.1,371.8 188.6,372.6 191.8,376.6 198.2,381.4 204.6,386.2 210.2,392.7 214.3,400.7 215.1,408.7 214.1,416.9 215.6,424.1 218.5,430.0 221.4,434.3 224.3,438.7 225.8,443.1 225.0,445.3 219.9,446.0 215.6,446.0 211.2,441.6 205.4,438.7 198.1,434.3 192.2,430.0 187.2,424.9 185.0,418.3 181.3,412.5 177.7,408.1 177.0,402.3 176.5,397.5 174.1,391.0 172.5,381.4 169.3,375.0 164.5,366.9 159.6,360.5 154.8,356.5 153.0,356.0"/>
<polygon points="153.0,417.0 155.1,416.9 160.2,419.0 164.6,422.7 168.2,427.1 171.9,431.4 176.2,435.1 180.6,437.2 187.9,441.6 196.6,445.3 199.5,451.8 205.4,456.2 211.2,459.1 214.0,462.0 216.0,468.0 163.5,468.0 162.5,465.0 158.5,462.5 156.5,458.5 155.5,455.0 153.0,454.0"/>
<polygon points="305.5,188.6 313.5,187.8 317.6,190.2 316.7,195.9 313.5,200.7 310.3,206.3 304.7,210.3 299.1,212.7 293.5,211.1 287.8,207.1 285.9,200.7 287.8,195.9 293.5,192.7 299.1,190.2"/>
<polygon points="461.1,110.7 465.8,113.4 465.2,120.1 463.8,126.8 461.8,133.5 459.1,140.2 456.5,145.5 453.8,150.9 452.4,156.2 451.1,160.2 449.1,154.9 445.1,150.9 442.4,144.2 442.4,136.1 445.1,128.1 449.8,120.1 455.1,114.1 458.5,112.0"/>
<polygon points="447.7,211.1 452.5,208.7 462.1,211.1 468.6,211.9 471.0,209.5 470.2,215.9 472.6,223.9 474.2,230.3 470.2,236.8 466.6,243.2 464.0,248.0 463.0,254.4 464.8,259.3 466.8,264.1 469.2,268.1 471.8,270.5 473.5,272.5 471.0,274.5 468.0,274.0 465.0,272.5 463.5,274.5 462.1,278.5 461.5,277.0 458.0,277.5 454.1,278.5 450.0,276.5 450.9,275.3 454.1,270.5 452.5,265.7 449.3,267.3 444.5,266.5 441.2,262.5 440.4,254.4 438.0,248.0 438.0,243.2 443.7,241.6 445.3,235.2 446.1,227.1 446.9,219.1"/>
<polygon points="447.6,281.3 452.0,280.9 456.1,282.1 458.9,285.3 460.1,289.3 459.7,293.3 458.1,295.7 456.1,297.3 454.1,294.9 452.9,291.7 451.2,287.7 449.6,284.5"/>
<polygon points="499.6,295.9 505.0,294.3 510.3,294.3 513.5,297.5 514.6,302.8 515.7,308.2 515.1,312.5 511.4,313.0 509.3,309.3 507.1,305.0 505.0,301.8 501.8,299.6"/>
<polygon points="500.7,311.4 505.0,310.9 507.6,314.6 508.7,320.0 510.3,324.3 508.2,327.5 505.5,325.3 505.0,320.0 502.3,316.8"/>
<polygon points="467.0,303.4 472.8,306.1 478.7,308.7 482.5,309.8 480.9,313.0 477.1,315.7 472.8,318.9 468.6,321.6 467.0,317.8 467.5,311.4"/>
<polygon points="485.0,296.5 487.4,294.9 491.4,297.3 494.6,300.6 495.6,303.0 493.8,303.6 489.8,299.7 486.2,298.1"/>
<polygon points="481.4,316.2 485.7,315.7 486.8,320.0 485.2,325.3 484.1,330.7 484.6,336.0 483.0,340.3 480.3,338.2 478.2,335.0 474.5,335.0 473.4,331.8 477.1,329.6 479.3,325.3 480.3,320.0"/>
<polygon points="492.1,316.8 494.3,317.8 492.1,324.3 488.9,330.7 486.8,336.6 485.2,335.5 487.3,329.6 490.0,322.1"/>
<polygon points="493.2,330.7 496.9,327.5 500.7,328.5 501.2,331.8 497.5,333.9 493.7,333.4"/>
<polygon points="491.1,356.9 491.9,351.3 490.7,348.6 486.3,347.6 481.5,350.5 479.1,354.5 474.0,357.8 470.7,362.1 468.8,366.9 466.9,370.1 467.9,371.1 470.3,368.2 472.7,363.4 476.7,361.0 479.1,362.1 481.5,359.4 484.7,360.2 487.1,357.8 493.6,359.4 496.8,363.4 495.2,368.2 496.0,374.6 499.2,380.2 504.8,383.5 509.6,384.3 512.8,387.5 516.0,384.3 518.5,379.4 515.2,374.6 516.8,369.8 520.1,366.6 522.5,373.0 524.1,379.4 524.9,373.0 527.3,369.8 529.7,365.0 528.1,359.4 525.7,352.1 524.9,344.1 520.9,337.7 515.2,333.7 512.8,339.3 510.4,344.1 504.8,344.1 500.0,351.3 496.8,354.5"/>
<polygon points="398.7,356.6 404.1,347.9 410.8,341.2 417.5,335.2 422.2,329.2 428.2,323.8 432.9,317.8 434.9,313.8 436.9,315.1 435.6,319.1 433.5,323.8 428.2,327.8 422.8,333.9 418.8,339.2 412.1,343.9 406.1,349.3 400.7,358.0"/>
<polygon points="293.6,468.0 293.6,464.3 291.1,458.7 291.1,450.7 292.8,444.3 296.8,439.4 301.6,441.8 308.0,442.6 314.4,443.5 319.3,442.7 320.9,436.2 322.5,431.4 324.1,427.4 330.5,425.8 338.5,423.4 345.0,421.0 349.8,416.1 354.6,410.5 359.4,404.1 365.8,400.1 368.0,397.8 376.1,393.0 380.9,388.2 387.3,383.4 393.7,376.9 398.6,370.5 401.0,368.1 403.4,374.5 408.2,378.6 407.4,383.4 413.0,386.6 419.4,388.2 425.9,390.6 430.7,393.0 424.3,396.2 416.2,397.8 415.4,401.0 421.0,403.5 422.7,405.9 414.6,406.7 408.2,407.5 409.3,412.5 404.5,415.7 406.1,422.0 409.3,428.4 413.2,433.9 410.9,437.1 415.6,442.7 420.4,447.4 425.2,451.4 420.4,453.0 414.0,453.0 410.9,455.4 407.7,458.6 406.1,464.9 406.0,468.0"/>
<polygon points="439.5,468.0 439.5,464.9 441.2,458.5 442.6,453.8 449.7,451.1 453.8,448.2 458.5,449.0 464.9,451.4 471.3,452.2 475.1,453.2 487.8,453.2 498.4,450.0 504.7,444.7 509.0,442.6 510.0,446.9 504.7,453.2 498.4,458.5 487.8,460.6 475.1,459.6 462.4,458.5 451.8,457.5 445.4,460.6 443.0,464.0 442.5,468.0"/>
<polygon points="543.9,437.3 548.2,436.3 550.3,442.6 549.2,449.0 552.4,445.8 557.7,444.7 559.8,451.1 558.8,458.5 555.6,459.6 552.4,455.3 549.2,454.3 547.1,459.6 548.2,464.9 545.0,464.9 542.9,458.5 541.2,451.1 541.8,443.7"/>
<polygon points="551.8,432.0 555.6,430.6 558.1,433.1 556.7,436.7 553.1,437.3 551.4,434.6"/>
</g>
<g fill="none" stroke="#000" stroke-width="1" shape-rendering="crispEdges">
<polyline points="153.0,142.6 162.0,143.1 159.6,149.8 158.0,157.0 166.1,158.6 170.9,165.9 178.1,166.7 183.7,162.7 185.3,170.7 193.4,170.7 192.6,161.0 189.4,154.6 198.2,152.2 201.4,148.2 209.4,152.2 214.3,147.4 222.3,151.4 228.7,147.4 235.1,142.6 240.8,139.4 248.0,145.0 260.8,147.4 257.6,154.6 262.5,161.0 270.0,165.1 275.0,166.5"/>
<polyline points="198.2,153.0 204.6,161.0 208.6,164.3 208.6,170.7 212.7,175.5 219.1,177.1 225.5,174.7 228.7,180.0 235.9,186.4 231.9,192.0 222.3,196.1 223.9,200.1 238.4,207.3 243.2,216.9 251.8,222.9 256.6,229.3 258.2,235.7 266.2,242.1 270.2,245.3 267.0,248.6 271.8,255.0 271.0,259.8 270.2,266.2"/>
<polyline points="270.2,266.2 268.6,271.0 270.2,277.5 271.8,285.5 270.5,294.6 265.7,297.9 259.3,301.1 254.4,304.3 249.6,305.1 248.0,309.1 251.2,314.7 246.4,315.5 241.6,316.3 240.0,319.5 236.0,321.5 229.0,323.5"/>
<polyline points="270.2,266.2 266.2,267.8 261.4,268.6 256.6,266.2 251.8,268.6 250.2,273.5 248.6,271.8"/>
<polyline points="183.7,163.5 178.1,170.7 174.1,177.1 170.1,181.9 162.0,183.5 156.4,187.6 153.0,188.5"/>
<polyline points="162.9,183.2 170.9,182.4 175.7,188.0 176.5,194.5 186.1,195.3 186.1,204.1 183.7,212.1 182.1,222.6 186.9,221.8 196.6,214.5 204.6,218.6 211.8,213.7 214.3,210.5 222.3,212.1 227.1,219.4 233.5,226.6 234.3,236.2 237.6,241.8 244.8,249.1 244.0,257.1 242.4,264.5 243.7,265.4 248.6,271.8"/>
<polyline points="248.6,271.8 241.6,269.5 236.7,267.9 227.1,267.0 217.5,267.9 209.4,269.5 204.6,272.7 200.6,279.1 203.0,287.1 203.0,293.6 206.2,300.0 207.0,302.5"/>
<polyline points="153.0,270.0 154.8,273.5 157.2,283.9 160.4,293.6 162.9,301.6 161.2,308.0 158.0,314.4 155.6,317.7 153.0,321.0"/>
<polyline points="168.0,373.5 171.7,375.8 175.7,377.4 181.3,379.0 182.9,382.2 183.7,387.0 188.6,385.4 193.4,386.2 195.8,382.2 198.2,381.4"/>
<polyline points="297.0,439.4 301.6,444.3 309.6,451.5 316.0,452.3 324.1,450.7 332.1,449.9 335.3,445.9 343.4,444.3 351.4,447.5 359.4,445.1 366.4,444.3 369.5,434.7 373.5,430.8 375.1,424.4 379.9,421.2 380.7,410.9 383.8,406.1 393.4,405.8 406.1,406.9"/>
<polyline points="359.4,404.1 362.0,408.0 367.5,410.5 370.0,404.0 371.0,399.0"/>
<polyline points="372.5,397.0 373.0,404.0 375.5,406.0 376.0,399.0 377.0,394.0"/>
<polyline points="249.0,260.0 248.7,268.0"/>
<polyline points="249.5,276.0 249.8,285.0"/>
<polyline points="250.0,289.0 249.6,297.0"/>
<polyline points="238.4,298.0 238.4,309.1 238.6,320.0"/>
<polyline points="235.0,300.0 243.0,299.5"/>
<polyline points="241.6,321.1 248.0,325.0 253.0,329.0 257.7,331.6"/>
<polyline points="248.0,322.4 253.0,324.5 258.5,327.6"/>
<polyline points="305.5,136.5 307.0,135.6 312.0,137.0 318.0,138.0 324.0,136.8"/>
</g>
<g fill="#000" shape-rendering="crispEdges">
<ellipse cx="549.0" cy="91.0" rx="6.5" ry="3.2" transform="rotate(-52 549.0 91.0)"/>
<ellipse cx="568.0" cy="65.5" rx="5.8" ry="2.6" transform="rotate(-42 568.0 65.5)"/>
<ellipse cx="561.5" cy="73.0" rx="1.8" ry="1.5"/>
<ellipse cx="557.0" cy="78.5" rx="2.0" ry="1.0"/>
<ellipse cx="572.3" cy="45.0" rx="1.2" ry="2.5"/>
<ellipse cx="545.0" cy="96.5" rx="1.5" ry="1.0"/>
<ellipse cx="540.0" cy="95.0" rx="1.2" ry="0.8"/>
<ellipse cx="494.0" cy="123.0" rx="4.5" ry="1.6" transform="rotate(-25 494.0 123.0)"/>
<ellipse cx="499.0" cy="121.0" rx="2.0" ry="1.3"/>
<ellipse cx="512.5" cy="118.0" rx="2.0" ry="1.6"/>
<ellipse cx="504.0" cy="119.5" rx="1.2" ry="1.0"/>
<ellipse cx="481.0" cy="123.0" rx="1.3" ry="0.8"/>
<ellipse cx="490.6" cy="101.5" rx="1.2" ry="0.7"/>
<ellipse cx="434.3" cy="137.0" rx="1.5" ry="2.6"/>
<ellipse cx="460.5" cy="159.0" rx="0.9" ry="0.9"/>
<ellipse cx="464.5" cy="176.0" rx="1.0" ry="2.6" transform="rotate(20 464.5 176.0)"/>
<ellipse cx="465.5" cy="183.0" rx="1.2" ry="1.0"/>
<ellipse cx="459.5" cy="199.0" rx="2.2" ry="1.2" transform="rotate(-20 459.5 199.0)"/>
<ellipse cx="466.0" cy="198.5" rx="2.0" ry="1.1"/>
<ellipse cx="463.0" cy="203.5" rx="1.8" ry="1.0"/>
<ellipse cx="468.3" cy="203.5" rx="1.3" ry="1.0"/>
<ellipse cx="439.5" cy="301.0" rx="3.0" ry="2.6"/>
<ellipse cx="441.0" cy="306.0" rx="1.6" ry="2.0"/>
<ellipse cx="436.0" cy="312.0" rx="2.3" ry="3.0" transform="rotate(20 436.0 312.0)"/>
<ellipse cx="433.0" cy="317.0" rx="1.8" ry="1.8"/>
<ellipse cx="446.0" cy="311.0" rx="1.0" ry="1.0"/>
<ellipse cx="448.5" cy="313.0" rx="0.8" ry="1.6"/>
<ellipse cx="450.5" cy="316.0" rx="1.2" ry="0.8"/>
<ellipse cx="438.0" cy="396.5" rx="2.2" ry="1.6"/>
<ellipse cx="442.5" cy="393.5" rx="1.5" ry="1.5"/>
<ellipse cx="446.5" cy="388.0" rx="2.2" ry="2.6" transform="rotate(30 446.5 388.0)"/>
<ellipse cx="450.0" cy="383.0" rx="1.8" ry="1.2"/>
<ellipse cx="454.5" cy="383.0" rx="2.6" ry="1.6" transform="rotate(-20 454.5 383.0)"/>
<ellipse cx="459.5" cy="380.5" rx="1.6" ry="1.4"/>
<ellipse cx="463.0" cy="378.0" rx="1.3" ry="1.2"/>
<ellipse cx="466.5" cy="374.0" rx="2.2" ry="1.6" transform="rotate(-30 466.5 374.0)"/>
<ellipse cx="433.0" cy="397.5" rx="1.0" ry="1.3"/>
<ellipse cx="222.0" cy="452.0" rx="4.5" ry="3.0" transform="rotate(-30 222.0 452.0)"/>
<ellipse cx="227.0" cy="458.0" rx="5.5" ry="4.0" transform="rotate(-20 227.0 458.0)"/>
<ellipse cx="232.0" cy="453.0" rx="2.5" ry="2.0"/>
<ellipse cx="220.0" cy="459.5" rx="3.0" ry="2.5"/>
<ellipse cx="216.0" cy="455.0" rx="2.6" ry="2.0"/>
<ellipse cx="230.0" cy="463.0" rx="3.0" ry="2.0"/>
<ellipse cx="224.0" cy="464.0" rx="2.5" ry="1.5"/>
<ellipse cx="210.0" cy="462.5" rx="3.0" ry="1.3" transform="rotate(-35 210.0 462.5)"/>
<ellipse cx="222.5" cy="428.0" rx="1.3" ry="1.0"/>
<ellipse cx="226.0" cy="432.0" rx="1.0" ry="1.0"/>
<ellipse cx="224.0" cy="436.5" rx="1.2" ry="1.2"/>
<ellipse cx="229.0" cy="433.0" rx="1.0" ry="1.0"/>
<ellipse cx="247.0" cy="425.0" rx="2.2" ry="1.8"/>
<ellipse cx="254.0" cy="421.5" rx="2.6" ry="2.2"/>
<ellipse cx="251.0" cy="426.0" rx="1.3" ry="1.0"/>
<ellipse cx="288.5" cy="425.0" rx="1.5" ry="1.5"/>
<ellipse cx="292.0" cy="430.5" rx="1.8" ry="1.0"/>
<ellipse cx="271.0" cy="451.0" rx="2.0" ry="1.2"/>
<ellipse cx="255.5" cy="422.0" rx="1.0" ry="2.0"/>
<ellipse cx="274.0" cy="404.0" rx="1.0" ry="1.0"/>
<ellipse cx="277.0" cy="401.0" rx="0.8" ry="0.8"/>
<ellipse cx="263.0" cy="456.0" rx="1.5" ry="1.0"/>
<ellipse cx="531.5" cy="403.0" rx="1.5" ry="2.2"/>
<ellipse cx="532.0" cy="410.5" rx="2.0" ry="2.6" transform="rotate(15 532.0 410.5)"/>
<ellipse cx="536.0" cy="401.0" rx="1.0" ry="1.2"/>
<ellipse cx="514.5" cy="416.0" rx="1.6" ry="2.2"/>
<ellipse cx="515.0" cy="421.0" rx="1.2" ry="1.0"/>
<ellipse cx="513.5" cy="428.0" rx="1.8" ry="2.2"/>
<ellipse cx="512.5" cy="436.0" rx="1.2" ry="1.2"/>
<ellipse cx="517.5" cy="419.0" rx="1.0" ry="1.0"/>
<ellipse cx="476.0" cy="296.0" rx="1.5" ry="1.2"/>
<ellipse cx="473.0" cy="299.0" rx="1.2" ry="1.0"/>
<ellipse cx="486.5" cy="340.5" rx="1.6" ry="1.3"/>
<ellipse cx="517.5" cy="329.0" rx="2.2" ry="4.5" transform="rotate(10 517.5 329.0)"/>
<ellipse cx="521.0" cy="327.0" rx="1.2" ry="2.0"/>
<ellipse cx="470.0" cy="289.0" rx="2.0" ry="1.2"/>
<ellipse cx="496.5" cy="283.0" rx="1.5" ry="1.0"/>
<ellipse cx="503.0" cy="281.0" rx="1.2" ry="1.5"/>
<ellipse cx="358.0" cy="153.5" rx="2.5" ry="1.5"/>
<ellipse cx="349.0" cy="156.0" rx="2.0" ry="1.5"/>
<ellipse cx="345.0" cy="159.5" rx="1.5" ry="1.0"/>
<ellipse cx="267.0" cy="341.0" rx="1.0" ry="0.8"/>
<ellipse cx="227.5" cy="328.5" rx="1.2" ry="2.2"/>
<ellipse cx="290.0" cy="321.0" rx="0.9" ry="0.9"/>
<ellipse cx="214.0" cy="324.5" rx="0.8" ry="0.8"/>
<ellipse cx="180.0" cy="351.5" rx="1.0" ry="0.7"/>
<ellipse cx="177.0" cy="340.0" rx="1.0" ry="1.0"/>
<ellipse cx="175.0" cy="345.0" rx="0.8" ry="1.0"/>
<ellipse cx="160.5" cy="368.0" rx="1.5" ry="1.2"/>
<ellipse cx="163.0" cy="373.5" rx="1.2" ry="1.0"/>
<ellipse cx="158.0" cy="377.0" rx="1.0" ry="0.8"/>
<ellipse cx="166.5" cy="380.5" rx="2.0" ry="1.6"/>
<ellipse cx="173.0" cy="392.5" rx="1.2" ry="1.6"/>
<ellipse cx="425.0" cy="113.0" rx="2.0" ry="1.3"/>
<ellipse cx="436.0" cy="95.0" rx="1.5" ry="1.3"/>
<ellipse cx="441.0" cy="84.0" rx="1.4" ry="1.2"/>
<ellipse cx="446.5" cy="96.5" rx="0.8" ry="1.0"/>
<ellipse cx="444.0" cy="93.0" rx="0.7" ry="0.7"/>
<ellipse cx="450.0" cy="69.0" rx="1.2" ry="1.2"/>
<ellipse cx="457.0" cy="62.0" rx="1.5" ry="1.5"/>
<ellipse cx="463.0" cy="48.0" rx="2.0" ry="2.5"/>
<ellipse cx="466.0" cy="41.0" rx="1.8" ry="1.5"/>
<ellipse cx="467.5" cy="56.0" rx="0.8" ry="0.8"/>
<ellipse cx="463.5" cy="59.0" rx="0.8" ry="0.8"/>
<ellipse cx="411.5" cy="124.5" rx="1.6" ry="1.3"/>
<ellipse cx="404.0" cy="130.5" rx="1.5" ry="1.2"/>
<ellipse cx="397.0" cy="136.0" rx="1.5" ry="1.2"/>
<ellipse cx="418.5" cy="118.0" rx="1.5" ry="1.3"/>
<ellipse cx="431.0" cy="106.0" rx="1.6" ry="1.5"/>
<ellipse cx="438.5" cy="91.0" rx="1.3" ry="1.5"/>
</g>
<path d="M168.5 38v4M168.5 465v-4M195.5 38v4M195.5 465v-4M222.5 38v4M222.5 465v-4M250.5 38v4M250.5 465v-4M277.5 38v4M277.5 465v-4M304.5 38v4M304.5 465v-4M331.5 38v4M331.5 465v-4M358.5 38v4M358.5 465v-4M386.5 38v4M386.5 465v-4M413.5 38v4M413.5 465v-4M440.5 38v4M440.5 465v-4M467.5 38v4M467.5 465v-4M494.5 38v4M494.5 465v-4M522.5 38v4M522.5 465v-4M549.5 38v4M549.5 465v-4M576.5 38v4M576.5 465v-4M155 465.5h4M575 465.5h-4M155 438.5h4M575 438.5h-4M155 411.5h4M575 411.5h-4M155 384.5h4M575 384.5h-4M155 356.5h4M575 356.5h-4M155 329.5h4M575 329.5h-4M155 301.5h4M575 301.5h-4M155 273.5h4M575 273.5h-4M155 245.5h4M575 245.5h-4M155 216.5h4M575 216.5h-4M155 188.5h4M575 188.5h-4M155 159.5h4M575 159.5h-4M155 129.5h4M575 129.5h-4M155 99.5h4M575 99.5h-4M155 68.5h4M575 68.5h-4M155 37.5h4M575 37.5h-4" stroke="#000" stroke-width="1" fill="none" shape-rendering="crispEdges"/>
</g>
<path d="M153 36H577V467H153ZM155 38V465H575V38Z" fill="#000" fill-rule="evenodd" shape-rendering="crispEdges"/>
<text x="365.5" y="20" font-size="13" text-anchor="middle">Significant Wave Height with Wave Direction</text>
<text x="366" y="31.5" font-size="12" font-style="italic" text-anchor="middle">Valid For Oct-29-2018 06:00 GMT</text>
<text x="157.6" y="483" font-size="11" font-style="italic">100 E</text>
<text x="225.6" y="483" font-size="11" font-style="italic">105 E</text>
<text x="293.6" y="483" font-size="11" font-style="italic">110 E</text>
<text x="361.6" y="483" font-size="11" font-style="italic">115 E</text>
<text x="429.6" y="483" font-size="11" font-style="italic">120 E</text>
<text x="497.6" y="483" font-size="11" font-style="italic">125 E</text>
<text x="565.6" y="483" font-size="11" font-style="italic">130 E</text>
<text x="583" y="41.6" font-size="11" font-style="italic">30 N</text>
<text x="583" y="119.1" font-size="11" font-style="italic">25 N</text>
<text x="583" y="192.1" font-size="11" font-style="italic">20 N</text>
<text x="583" y="263.1" font-size="11" font-style="italic">15 N</text>
<text x="583" y="333.1" font-size="11" font-style="italic">10 N</text>
<text x="583" y="401.1" font-size="11" font-style="italic">5 N</text>
<text x="584" y="469.3" font-size="11" font-style="italic">0</text>
<text x="155.5" y="497" font-size="11">oceanweather inc.</text>
<text x="518" y="494" font-size="7.5" font-style="italic" text-anchor="middle">Plotted at Oct 29, 2018 01:32 GMT</text>
<text x="364.8" y="508.6" font-size="9.5" text-anchor="middle">Significant Wave Height (Meters)</text>
<text x="365" y="556.8" font-size="9.5" text-anchor="middle">Significant Wave Height (Feet)</text>
<text x="246.3" y="520.9" font-size="9" text-anchor="middle">0</text>
<text x="266.4" y="520.9" font-size="9" text-anchor="middle">1</text>
<text x="286.4" y="520.9" font-size="9" text-anchor="middle">2</text>
<text x="306.5" y="520.9" font-size="9" text-anchor="middle">3</text>
<text x="326.6" y="520.9" font-size="9" text-anchor="middle">4</text>
<text x="346.6" y="520.9" font-size="9" text-anchor="middle">5</text>
<text x="366.7" y="520.9" font-size="9" text-anchor="middle">6</text>
<text x="386.8" y="520.9" font-size="9" text-anchor="middle">7</text>
<text x="406.9" y="520.9" font-size="9" text-anchor="middle">8</text>
<text x="426.9" y="520.9" font-size="9" text-anchor="middle">9</text>
<text x="447.0" y="520.9" font-size="9" text-anchor="middle">10</text>
<text x="467.1" y="520.9" font-size="9" text-anchor="middle">11</text>
<text x="487.1" y="520.9" font-size="9" text-anchor="middle">12</text>
<text x="245.8" y="545.3" font-size="9" text-anchor="middle">0</text>
<text x="276.1" y="545.3" font-size="9" text-anchor="middle">5</text>
<text x="306.4" y="545.3" font-size="9" text-anchor="middle">10</text>
<text x="336.7" y="545.3" font-size="9" text-anchor="middle">15</text>
<text x="367.0" y="545.3" font-size="9" text-anchor="middle">20</text>
<text x="397.3" y="545.3" font-size="9" text-anchor="middle">25</text>
<text x="427.6" y="545.3" font-size="9" text-anchor="middle">30</text>
<text x="457.9" y="545.3" font-size="9" text-anchor="middle">35</text>
<text x="488.2" y="545.3" font-size="9" text-anchor="middle">40</text>
<rect x="245" y="524" width="241" height="13" fill="url(#cb)"/><rect x="245" y="524" width="2" height="13" fill="#000"/>
</svg></body></html>
